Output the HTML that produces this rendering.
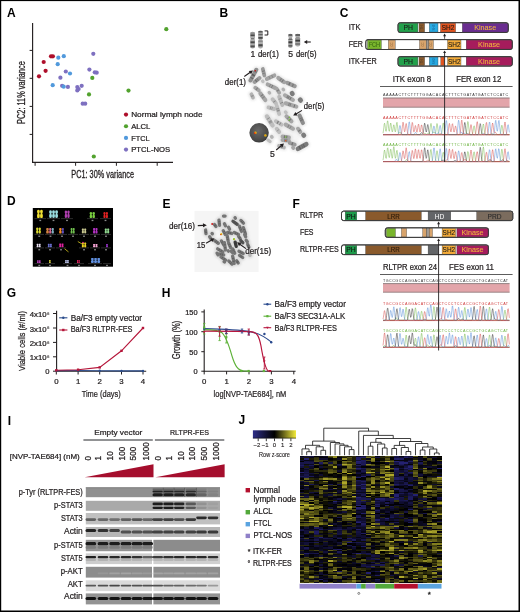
<!DOCTYPE html>
<html><head><meta charset="utf-8"><style>
html,body{margin:0;padding:0;background:#fff;width:520px;height:612px;overflow:hidden}
svg{position:absolute;left:0;top:0;display:block;will-change:transform}
text{font-family:"Liberation Sans", sans-serif}
</style></head><body>
<svg width="520" height="612" viewBox="0 0 520 612" font-family='"Liberation Sans", sans-serif'>
<defs>
<filter id="b04" filterUnits="userSpaceOnUse" x="0" y="0" width="520" height="612"><feGaussianBlur stdDeviation="0.4"/></filter>
<filter id="b06" filterUnits="userSpaceOnUse" x="0" y="0" width="520" height="612"><feGaussianBlur stdDeviation="0.6"/></filter>
<filter id="b1" filterUnits="userSpaceOnUse" x="0" y="0" width="520" height="612"><feGaussianBlur stdDeviation="1"/></filter>
<radialGradient id="nuc" cx="0.45" cy="0.4" r="0.6"><stop offset="0" stop-color="#6a6a6a"/><stop offset="0.8" stop-color="#4a4a4a"/><stop offset="1" stop-color="#3a3a3a"/></radialGradient><linearGradient id="zg" x1="0" x2="1" y1="0" y2="0"><stop offset="0" stop-color="#2e2e88"/><stop offset="0.5" stop-color="#000"/><stop offset="1" stop-color="#f2ea3a"/></linearGradient>
</defs>
<text x="7.0" y="16.5" font-size="12" font-weight="bold" fill="#000">A</text>
<text x="219.5" y="16.5" font-size="12" font-weight="bold" fill="#000">B</text>
<text x="339.8" y="16.5" font-size="12" font-weight="bold" fill="#000">C</text>
<text x="7.1" y="204.5" font-size="12" font-weight="bold" fill="#000">D</text>
<text x="162.5" y="207.5" font-size="12" font-weight="bold" fill="#000">E</text>
<text x="292.5" y="207.5" font-size="12" font-weight="bold" fill="#000">F</text>
<text x="6.7" y="297.0" font-size="12" font-weight="bold" fill="#000">G</text>
<text x="161.8" y="297.0" font-size="12" font-weight="bold" fill="#000">H</text>
<text x="7.8" y="424.5" font-size="12" font-weight="bold" fill="#000">I</text>
<text x="238.6" y="424.2" font-size="12" font-weight="bold" fill="#000">J</text>
<line x1="32.6" y1="23" x2="32.6" y2="162.9" stroke="#231f20" stroke-width="1.15"/>
<line x1="32.1" y1="162.4" x2="173" y2="162.4" stroke="#231f20" stroke-width="1.15"/>
<line x1="29.6" y1="50.4" x2="32.6" y2="50.4" stroke="#231f20" stroke-width="1"/>
<line x1="29.6" y1="78.3" x2="32.6" y2="78.3" stroke="#231f20" stroke-width="1"/>
<line x1="29.6" y1="106.4" x2="32.6" y2="106.4" stroke="#231f20" stroke-width="1"/>
<line x1="29.6" y1="134.4" x2="32.6" y2="134.4" stroke="#231f20" stroke-width="1"/>
<line x1="35.1" y1="162.4" x2="35.1" y2="165.8" stroke="#231f20" stroke-width="1"/>
<line x1="75.6" y1="162.4" x2="75.6" y2="165.8" stroke="#231f20" stroke-width="1"/>
<line x1="116.4" y1="162.4" x2="116.4" y2="165.8" stroke="#231f20" stroke-width="1"/>
<line x1="157.2" y1="162.4" x2="157.2" y2="165.8" stroke="#231f20" stroke-width="1"/>
<text x="24.5" y="124" font-size="10.3" textLength="62.8" lengthAdjust="spacingAndGlyphs" transform="rotate(-90 24.5 124)" fill="#231f20" stroke="#231f20" stroke-width="0.3">PC2: 11% variance</text>
<text x="71.3" y="177.8" font-size="10.2" textLength="62.7" lengthAdjust="spacingAndGlyphs" fill="#231f20" stroke="#231f20" stroke-width="0.3">PC1: 30% variance</text>
<circle cx="93.3" cy="53.8" r="2.1" fill="#7e70c0"/>
<circle cx="65.8" cy="71.5" r="2.1" fill="#7e70c0"/>
<circle cx="60.4" cy="77.7" r="2.1" fill="#7e70c0"/>
<circle cx="62.1" cy="85.8" r="2.1" fill="#7e70c0"/>
<circle cx="67.9" cy="86.9" r="2.1" fill="#7e70c0"/>
<circle cx="77.3" cy="87.1" r="2.1" fill="#7e70c0"/>
<circle cx="81.7" cy="85.8" r="2.1" fill="#7e70c0"/>
<circle cx="77.3" cy="90.4" r="2.1" fill="#7e70c0"/>
<circle cx="78.6" cy="89" r="2.1" fill="#7e70c0"/>
<circle cx="89.4" cy="69.6" r="2.1" fill="#7e70c0"/>
<circle cx="94.8" cy="72.3" r="2.1" fill="#7e70c0"/>
<circle cx="96.7" cy="72.7" r="2.1" fill="#7e70c0"/>
<circle cx="82.7" cy="103.7" r="2.1" fill="#7e70c0"/>
<circle cx="85.2" cy="103.7" r="2.1" fill="#7e70c0"/>
<circle cx="58.3" cy="57.7" r="2.1" fill="#5199dc"/>
<circle cx="63.8" cy="56.2" r="2.1" fill="#5199dc"/>
<circle cx="57.7" cy="64.2" r="2.1" fill="#5199dc"/>
<circle cx="70" cy="73.5" r="2.1" fill="#5199dc"/>
<circle cx="52.7" cy="85.2" r="2.1" fill="#5199dc"/>
<circle cx="63.7" cy="86.7" r="2.1" fill="#5199dc"/>
<circle cx="92.3" cy="77.9" r="2.1" fill="#52a22e"/>
<circle cx="89" cy="94.4" r="2.1" fill="#52a22e"/>
<circle cx="166.3" cy="29.2" r="2.1" fill="#52a22e"/>
<circle cx="128.5" cy="90.6" r="2.1" fill="#52a22e"/>
<circle cx="93.8" cy="156.5" r="2.1" fill="#52a22e"/>
<circle cx="39" cy="76.3" r="2.1" fill="#ae0f2b"/>
<circle cx="43.7" cy="62" r="2.1" fill="#ae0f2b"/>
<circle cx="45.6" cy="70.8" r="2.1" fill="#ae0f2b"/>
<circle cx="51" cy="56.3" r="2.1" fill="#ae0f2b"/>
<circle cx="52.9" cy="56.3" r="2.1" fill="#ae0f2b"/>
<circle cx="126.0" cy="114.6" r="2.1" fill="#ae0f2b"/>
<text x="131.2" y="117.3" font-size="7.6" textLength="71.3" lengthAdjust="spacingAndGlyphs" fill="#231f20" stroke="#231f20" stroke-width="0.24">Normal lymph node</text>
<circle cx="126.0" cy="126.25" r="2.1" fill="#52a22e"/>
<text x="131.2" y="128.95" font-size="7.6" textLength="19.2" lengthAdjust="spacingAndGlyphs" fill="#231f20" stroke="#231f20" stroke-width="0.24">ALCL</text>
<circle cx="126.0" cy="137.9" r="2.1" fill="#5199dc"/>
<text x="131.2" y="140.6" font-size="7.6" textLength="18.3" lengthAdjust="spacingAndGlyphs" fill="#231f20" stroke="#231f20" stroke-width="0.24">FTCL</text>
<circle cx="126.0" cy="149.55" r="2.1" fill="#7e70c0"/>
<text x="131.2" y="152.25" font-size="7.6" textLength="39" lengthAdjust="spacingAndGlyphs" fill="#231f20" stroke="#231f20" stroke-width="0.24">PTCL-NOS</text>
<g filter="url(#b06)">
<rect x="250.20" y="31.80" width="4.80" height="16.80" rx="2.16" fill="#adadad"/>
<rect x="250.50" y="32.40" width="4.20" height="1.60" fill="#8a8a8a"/>
<rect x="250.50" y="34.40" width="4.20" height="1.80" fill="#4a4a4a"/>
<rect x="250.50" y="38.00" width="4.20" height="1.20" fill="#777"/>
<rect x="250.50" y="41.30" width="4.20" height="2.00" fill="#4a4a4a"/>
<rect x="250.50" y="45.40" width="4.20" height="2.00" fill="#505050"/>
<circle cx="249.90" cy="38.8" r="0.9" fill="#fff"/>
<circle cx="255.30" cy="38.8" r="0.9" fill="#fff"/>
</g>
<g filter="url(#b06)">
<rect x="258.10" y="30.40" width="4.80" height="18.20" rx="2.16" fill="#adadad"/>
<rect x="258.40" y="31.10" width="4.20" height="1.40" fill="#505050"/>
<rect x="258.40" y="33.90" width="4.20" height="1.40" fill="#666"/>
<rect x="258.40" y="37.00" width="4.20" height="1.80" fill="#4a4a4a"/>
<rect x="258.40" y="40.50" width="4.20" height="1.40" fill="#888"/>
<rect x="258.40" y="44.20" width="4.20" height="2.20" fill="#4a4a4a"/>
<circle cx="257.80" cy="39.6" r="0.9" fill="#fff"/>
<circle cx="263.20" cy="39.6" r="0.9" fill="#fff"/>
</g>
<g filter="url(#b06)">
<rect x="288.20" y="33.80" width="4.40" height="14.20" rx="1.98" fill="#adadad"/>
<rect x="288.50" y="34.20" width="3.80" height="1.60" fill="#505050"/>
<rect x="288.50" y="38.60" width="3.80" height="1.40" fill="#666"/>
<rect x="288.50" y="41.30" width="3.80" height="2.00" fill="#3a3a3a"/>
<rect x="288.50" y="44.90" width="3.80" height="1.80" fill="#606060"/>
<circle cx="287.90" cy="38.0" r="0.9" fill="#fff"/>
<circle cx="292.90" cy="38.0" r="0.9" fill="#fff"/>
</g>
<g filter="url(#b06)">
<rect x="295.10" y="33.80" width="5.20" height="12.80" rx="2.34" fill="#adadad"/>
<rect x="295.40" y="34.20" width="4.60" height="1.60" fill="#505050"/>
<rect x="295.40" y="37.40" width="4.60" height="1.20" fill="#888"/>
<rect x="295.40" y="39.60" width="4.60" height="2.00" fill="#3a3a3a"/>
<rect x="295.40" y="43.20" width="4.60" height="1.60" fill="#707070"/>
<circle cx="294.80" cy="37.2" r="0.9" fill="#fff"/>
<circle cx="300.60" cy="37.2" r="0.9" fill="#fff"/>
</g>
<path d="M264.6,30.9 H267.8 V35.0 H264.6" fill="none" stroke="#231f20" stroke-width="1.0"/>
<line x1="310.8" y1="42.0" x2="306.7" y2="42.0" stroke="#231f20" stroke-width="1.1"/>
<path d="M303.80,42.00 L307.20,40.10 L307.20,43.90 Z" fill="#231f20"/>
<text x="250.6" y="57.3" font-size="8.6" fill="#231f20" stroke="#231f20" stroke-width="0.24">1</text>
<text x="258.0" y="57.3" font-size="8.6" textLength="20.8" lengthAdjust="spacingAndGlyphs" fill="#231f20" stroke="#231f20" stroke-width="0.24">der(1)</text>
<text x="288.3" y="57.3" font-size="8.6" fill="#231f20" stroke="#231f20" stroke-width="0.24">5</text>
<text x="296.0" y="57.3" font-size="8.6" textLength="20.5" lengthAdjust="spacingAndGlyphs" fill="#231f20" stroke="#231f20" stroke-width="0.24">der(5)</text>
<ellipse cx="283" cy="118" rx="16" ry="30" fill="#f5f5f5" filter="url(#b1)" transform="rotate(-20 283 118)"/>
<g filter="url(#b1)" opacity="0.45">
<line x1="250.5" y1="80.4" x2="256.3" y2="69.8" stroke="#cfcfcf" stroke-width="6.8" stroke-linecap="round"/>
<line x1="262.8" y1="69.0" x2="264.4" y2="75.5" stroke="#cfcfcf" stroke-width="6.4" stroke-linecap="round"/>
<line x1="254.6" y1="82.0" x2="259.5" y2="78.0" stroke="#cfcfcf" stroke-width="6.6" stroke-linecap="round"/>
<line x1="266.9" y1="78.8" x2="274.3" y2="75.5" stroke="#cfcfcf" stroke-width="6.8" stroke-linecap="round"/>
<line x1="278.3" y1="78.0" x2="284.0" y2="82.0" stroke="#cfcfcf" stroke-width="6.8" stroke-linecap="round"/>
<line x1="287.3" y1="82.9" x2="294.7" y2="86.2" stroke="#cfcfcf" stroke-width="6.8" stroke-linecap="round"/>
<line x1="262.6" y1="81.0" x2="263.0" y2="81.6" stroke="#cfcfcf" stroke-width="6.0" stroke-linecap="round"/>
<line x1="267.7" y1="84.5" x2="275.0" y2="87.8" stroke="#cfcfcf" stroke-width="6.8" stroke-linecap="round"/>
<line x1="255.4" y1="87.8" x2="258.7" y2="90.3" stroke="#cfcfcf" stroke-width="6.6" stroke-linecap="round"/>
<line x1="276.7" y1="88.6" x2="279.2" y2="92.7" stroke="#cfcfcf" stroke-width="6.4" stroke-linecap="round"/>
<line x1="283.1" y1="89.2" x2="283.6" y2="89.8" stroke="#cfcfcf" stroke-width="6.0" stroke-linecap="round"/>
<line x1="292.0" y1="93.2" x2="292.4" y2="93.8" stroke="#cfcfcf" stroke-width="7.4" stroke-linecap="round"/>
<line x1="260.4" y1="93.5" x2="265.3" y2="100.0" stroke="#cfcfcf" stroke-width="6.8" stroke-linecap="round"/>
<line x1="269.2" y1="92.5" x2="269.6" y2="93.0" stroke="#cfcfcf" stroke-width="6.0" stroke-linecap="round"/>
<line x1="251.4" y1="94.3" x2="253.0" y2="97.6" stroke="#cfcfcf" stroke-width="6.4" stroke-linecap="round"/>
<line x1="272.6" y1="99.3" x2="275.9" y2="103.3" stroke="#cfcfcf" stroke-width="6.6" stroke-linecap="round"/>
<line x1="279.2" y1="96.8" x2="282.4" y2="105.0" stroke="#cfcfcf" stroke-width="6.6" stroke-linecap="round"/>
<line x1="284.9" y1="95.2" x2="293.0" y2="100.0" stroke="#cfcfcf" stroke-width="6.6" stroke-linecap="round"/>
<line x1="300.2" y1="99.8" x2="300.6" y2="100.3" stroke="#cfcfcf" stroke-width="7.6" stroke-linecap="round"/>
<line x1="285.7" y1="103.3" x2="296.3" y2="106.6" stroke="#cfcfcf" stroke-width="6.8" stroke-linecap="round"/>
<line x1="268.5" y1="107.4" x2="274.3" y2="109.0" stroke="#cfcfcf" stroke-width="6.6" stroke-linecap="round"/>
<line x1="276.7" y1="105.8" x2="279.2" y2="114.0" stroke="#cfcfcf" stroke-width="6.6" stroke-linecap="round"/>
<line x1="285.5" y1="112.0" x2="286.0" y2="112.6" stroke="#cfcfcf" stroke-width="6.2" stroke-linecap="round"/>
<line x1="266.9" y1="116.4" x2="272.6" y2="125.4" stroke="#cfcfcf" stroke-width="7.0" stroke-linecap="round"/>
<line x1="286.5" y1="116.4" x2="291.4" y2="121.3" stroke="#cfcfcf" stroke-width="6.8" stroke-linecap="round"/>
<line x1="299.6" y1="115.6" x2="302.9" y2="123.0" stroke="#cfcfcf" stroke-width="6.8" stroke-linecap="round"/>
<line x1="275.9" y1="121.3" x2="281.6" y2="124.6" stroke="#cfcfcf" stroke-width="6.6" stroke-linecap="round"/>
<line x1="285.7" y1="124.6" x2="293.0" y2="128.7" stroke="#cfcfcf" stroke-width="6.8" stroke-linecap="round"/>
<line x1="298.0" y1="128.7" x2="300.4" y2="132.0" stroke="#cfcfcf" stroke-width="6.6" stroke-linecap="round"/>
<line x1="276.7" y1="128.7" x2="279.2" y2="132.0" stroke="#cfcfcf" stroke-width="6.6" stroke-linecap="round"/>
<line x1="303.5" y1="135.0" x2="303.9" y2="135.5" stroke="#cfcfcf" stroke-width="7.4" stroke-linecap="round"/>
<line x1="271.6" y1="136.7" x2="272.0" y2="137.2" stroke="#cfcfcf" stroke-width="6.2" stroke-linecap="round"/>
<line x1="282.5" y1="136.5" x2="289.0" y2="137.5" stroke="#cfcfcf" stroke-width="6.6" stroke-linecap="round"/>
<line x1="282.5" y1="140.0" x2="289.0" y2="140.8" stroke="#cfcfcf" stroke-width="6.6" stroke-linecap="round"/>
<line x1="289.8" y1="143.0" x2="294.7" y2="144.6" stroke="#cfcfcf" stroke-width="6.6" stroke-linecap="round"/>
<line x1="293.0" y1="147.5" x2="293.4" y2="148.0" stroke="#cfcfcf" stroke-width="6.4" stroke-linecap="round"/>
<line x1="298.0" y1="148.8" x2="306.2" y2="144.2" stroke="#cfcfcf" stroke-width="7.4" stroke-linecap="round"/>
<line x1="279.0" y1="146.0" x2="284.0" y2="147.5" stroke="#cfcfcf" stroke-width="6.4" stroke-linecap="round"/>
<line x1="268.0" y1="140.0" x2="270.0" y2="141.5" stroke="#cfcfcf" stroke-width="6.0" stroke-linecap="round"/>
</g>
<g filter="url(#b06)">
<line x1="250.5" y1="80.4" x2="256.3" y2="69.8" stroke="#909090" stroke-width="4.1" stroke-linecap="round"/>
<line x1="253.17" y1="78.84" x2="250.37" y2="77.31" stroke="#3a3a3a" stroke-width="1.25" opacity="0.45"/>
<line x1="254.63" y1="76.18" x2="251.83" y2="74.64" stroke="#3a3a3a" stroke-width="1.24" opacity="0.48"/>
<line x1="254.94" y1="75.60" x2="252.14" y2="74.07" stroke="#3a3a3a" stroke-width="1.08" opacity="0.49"/>
<line x1="256.68" y1="72.43" x2="253.88" y2="70.90" stroke="#3a3a3a" stroke-width="1.34" opacity="0.28"/>
<line x1="262.8" y1="69.0" x2="264.4" y2="75.5" stroke="#9a9a9a" stroke-width="3.6999999999999997" stroke-linecap="round"/>
<line x1="261.94" y1="71.48" x2="264.71" y2="70.79" stroke="#3a3a3a" stroke-width="0.95" opacity="0.39"/>
<line x1="262.50" y1="73.75" x2="265.27" y2="73.07" stroke="#3a3a3a" stroke-width="0.81" opacity="0.30"/>
<line x1="254.6" y1="82.0" x2="259.5" y2="78.0" stroke="#9a9a9a" stroke-width="3.9" stroke-linecap="round"/>
<line x1="257.02" y1="81.98" x2="255.10" y2="79.64" stroke="#3a3a3a" stroke-width="1.35" opacity="0.44"/>
<line x1="258.56" y1="80.72" x2="256.64" y2="78.38" stroke="#3a3a3a" stroke-width="1.28" opacity="0.28"/>
<line x1="266.9" y1="78.8" x2="274.3" y2="75.5" stroke="#a4a4a4" stroke-width="4.1" stroke-linecap="round"/>
<line x1="270.16" y1="79.10" x2="268.86" y2="76.18" stroke="#3a3a3a" stroke-width="0.88" opacity="0.25"/>
<line x1="272.92" y1="77.86" x2="271.62" y2="74.95" stroke="#3a3a3a" stroke-width="0.93" opacity="0.30"/>
<line x1="278.3" y1="78.0" x2="284.0" y2="82.0" stroke="#a4a4a4" stroke-width="4.1" stroke-linecap="round"/>
<line x1="279.72" y1="80.95" x2="281.56" y2="78.34" stroke="#3a3a3a" stroke-width="1.32" opacity="0.32"/>
<line x1="281.60" y1="82.27" x2="283.44" y2="79.66" stroke="#3a3a3a" stroke-width="1.12" opacity="0.42"/>
<line x1="287.3" y1="82.9" x2="294.7" y2="86.2" stroke="#9a9a9a" stroke-width="4.1" stroke-linecap="round"/>
<line x1="288.77" y1="85.30" x2="290.07" y2="82.39" stroke="#3a3a3a" stroke-width="1.36" opacity="0.42"/>
<line x1="292.14" y1="86.80" x2="293.44" y2="83.89" stroke="#3a3a3a" stroke-width="1.34" opacity="0.32"/>
<line x1="262.6" y1="81.0" x2="263.0" y2="81.6" stroke="#c0c0c0" stroke-width="3.3" stroke-linecap="round"/>
<line x1="267.7" y1="84.5" x2="275.0" y2="87.8" stroke="#a4a4a4" stroke-width="4.1" stroke-linecap="round"/>
<line x1="269.31" y1="86.98" x2="270.63" y2="84.07" stroke="#3a3a3a" stroke-width="0.90" opacity="0.29"/>
<line x1="271.40" y1="87.92" x2="272.72" y2="85.02" stroke="#3a3a3a" stroke-width="0.98" opacity="0.40"/>
<line x1="255.4" y1="87.8" x2="258.7" y2="90.3" stroke="#a4a4a4" stroke-width="3.9" stroke-linecap="round"/>
<line x1="255.87" y1="90.06" x2="257.70" y2="87.65" stroke="#3a3a3a" stroke-width="1.21" opacity="0.33"/>
<line x1="276.7" y1="88.6" x2="279.2" y2="92.7" stroke="#a6a6a6" stroke-width="3.6999999999999997" stroke-linecap="round"/>
<line x1="276.65" y1="91.27" x2="279.09" y2="89.78" stroke="#3a3a3a" stroke-width="1.29" opacity="0.37"/>
<line x1="283.1" y1="89.2" x2="283.6" y2="89.8" stroke="#b3b3b3" stroke-width="3.3" stroke-linecap="round"/>
<line x1="292.0" y1="93.2" x2="292.4" y2="93.8" stroke="#7d7d7d" stroke-width="4.7" stroke-linecap="round"/>
<line x1="260.4" y1="93.5" x2="265.3" y2="100.0" stroke="#a6a6a6" stroke-width="4.1" stroke-linecap="round"/>
<line x1="260.61" y1="96.44" x2="263.16" y2="94.51" stroke="#3a3a3a" stroke-width="1.09" opacity="0.43"/>
<line x1="262.04" y1="98.33" x2="264.59" y2="96.41" stroke="#3a3a3a" stroke-width="1.39" opacity="0.26"/>
<line x1="269.2" y1="92.5" x2="269.6" y2="93.0" stroke="#b3b3b3" stroke-width="3.3" stroke-linecap="round"/>
<line x1="251.4" y1="94.3" x2="253.0" y2="97.6" stroke="#b3b3b3" stroke-width="3.6999999999999997" stroke-linecap="round"/>
<line x1="250.98" y1="96.70" x2="253.55" y2="95.46" stroke="#3a3a3a" stroke-width="1.31" opacity="0.25"/>
<line x1="272.6" y1="99.3" x2="275.9" y2="103.3" stroke="#bcbcbc" stroke-width="3.9" stroke-linecap="round"/>
<line x1="273.24" y1="102.45" x2="275.57" y2="100.52" stroke="#3a3a3a" stroke-width="1.02" opacity="0.39"/>
<line x1="279.2" y1="96.8" x2="282.4" y2="105.0" stroke="#b8b8b8" stroke-width="3.9" stroke-linecap="round"/>
<line x1="278.61" y1="99.44" x2="281.42" y2="98.34" stroke="#3a3a3a" stroke-width="0.83" opacity="0.30"/>
<line x1="280.16" y1="103.41" x2="282.97" y2="102.31" stroke="#3a3a3a" stroke-width="0.92" opacity="0.44"/>
<line x1="284.9" y1="95.2" x2="293.0" y2="100.0" stroke="#a8a8a8" stroke-width="3.9" stroke-linecap="round"/>
<line x1="286.71" y1="98.03" x2="288.25" y2="95.43" stroke="#3a3a3a" stroke-width="1.37" opacity="0.34"/>
<line x1="287.99" y1="98.79" x2="289.53" y2="96.19" stroke="#3a3a3a" stroke-width="1.11" opacity="0.44"/>
<line x1="289.70" y1="99.80" x2="291.24" y2="97.20" stroke="#3a3a3a" stroke-width="1.25" opacity="0.45"/>
<line x1="300.2" y1="99.8" x2="300.6" y2="100.3" stroke="#7d7d7d" stroke-width="4.8999999999999995" stroke-linecap="round"/>
<line x1="285.7" y1="103.3" x2="296.3" y2="106.6" stroke="#a6a6a6" stroke-width="4.1" stroke-linecap="round"/>
<line x1="288.49" y1="105.84" x2="289.43" y2="102.79" stroke="#3a3a3a" stroke-width="0.82" opacity="0.49"/>
<line x1="289.83" y1="106.26" x2="290.78" y2="103.21" stroke="#3a3a3a" stroke-width="1.00" opacity="0.40"/>
<line x1="293.88" y1="107.52" x2="294.83" y2="104.47" stroke="#3a3a3a" stroke-width="1.00" opacity="0.48"/>
<line x1="268.5" y1="107.4" x2="274.3" y2="109.0" stroke="#bcbcbc" stroke-width="3.9" stroke-linecap="round"/>
<line x1="270.07" y1="109.40" x2="270.88" y2="106.49" stroke="#3a3a3a" stroke-width="0.99" opacity="0.33"/>
<line x1="271.67" y1="109.84" x2="272.47" y2="106.93" stroke="#3a3a3a" stroke-width="0.85" opacity="0.29"/>
<line x1="276.7" y1="105.8" x2="279.2" y2="114.0" stroke="#c0c0c0" stroke-width="3.9" stroke-linecap="round"/>
<line x1="276.16" y1="109.22" x2="279.06" y2="108.34" stroke="#3a3a3a" stroke-width="1.40" opacity="0.29"/>
<line x1="276.74" y1="111.12" x2="279.63" y2="110.23" stroke="#3a3a3a" stroke-width="1.39" opacity="0.38"/>
<line x1="285.5" y1="112.0" x2="286.0" y2="112.6" stroke="#c0c0c0" stroke-width="3.5" stroke-linecap="round"/>
<line x1="266.9" y1="116.4" x2="272.6" y2="125.4" stroke="#bebebe" stroke-width="4.3" stroke-linecap="round"/>
<line x1="266.82" y1="119.41" x2="269.66" y2="117.62" stroke="#3a3a3a" stroke-width="0.94" opacity="0.40"/>
<line x1="268.63" y1="122.27" x2="271.47" y2="120.47" stroke="#3a3a3a" stroke-width="1.07" opacity="0.36"/>
<line x1="269.35" y1="123.41" x2="272.19" y2="121.61" stroke="#3a3a3a" stroke-width="1.35" opacity="0.26"/>
<line x1="286.5" y1="116.4" x2="291.4" y2="121.3" stroke="#a6a6a6" stroke-width="4.1" stroke-linecap="round"/>
<line x1="287.00" y1="119.16" x2="289.26" y2="116.90" stroke="#3a3a3a" stroke-width="1.30" opacity="0.28"/>
<line x1="288.82" y1="120.98" x2="291.08" y2="118.72" stroke="#3a3a3a" stroke-width="1.37" opacity="0.41"/>
<line x1="299.6" y1="115.6" x2="302.9" y2="123.0" stroke="#8d8d8d" stroke-width="4.1" stroke-linecap="round"/>
<line x1="299.39" y1="119.06" x2="302.31" y2="117.76" stroke="#3a3a3a" stroke-width="0.86" opacity="0.36"/>
<line x1="300.16" y1="120.77" x2="303.07" y2="119.47" stroke="#3a3a3a" stroke-width="1.31" opacity="0.32"/>
<line x1="275.9" y1="121.3" x2="281.6" y2="124.6" stroke="#bebebe" stroke-width="3.9" stroke-linecap="round"/>
<line x1="277.00" y1="123.68" x2="278.51" y2="121.07" stroke="#3a3a3a" stroke-width="1.40" opacity="0.46"/>
<line x1="279.38" y1="125.06" x2="280.89" y2="122.44" stroke="#3a3a3a" stroke-width="1.07" opacity="0.37"/>
<line x1="285.7" y1="124.6" x2="293.0" y2="128.7" stroke="#a8a8a8" stroke-width="4.1" stroke-linecap="round"/>
<line x1="287.62" y1="127.51" x2="289.18" y2="124.73" stroke="#3a3a3a" stroke-width="1.09" opacity="0.32"/>
<line x1="289.67" y1="128.66" x2="291.24" y2="125.88" stroke="#3a3a3a" stroke-width="0.89" opacity="0.34"/>
<line x1="298.0" y1="128.7" x2="300.4" y2="132.0" stroke="#a6a6a6" stroke-width="3.9" stroke-linecap="round"/>
<line x1="298.16" y1="131.50" x2="300.61" y2="129.72" stroke="#3a3a3a" stroke-width="1.38" opacity="0.41"/>
<line x1="276.7" y1="128.7" x2="279.2" y2="132.0" stroke="#bebebe" stroke-width="3.9" stroke-linecap="round"/>
<line x1="276.74" y1="131.26" x2="279.15" y2="129.44" stroke="#3a3a3a" stroke-width="1.00" opacity="0.27"/>
<line x1="303.5" y1="135.0" x2="303.9" y2="135.5" stroke="#7d7d7d" stroke-width="4.7" stroke-linecap="round"/>
<line x1="271.6" y1="136.7" x2="272.0" y2="137.2" stroke="#b3b3b3" stroke-width="3.5" stroke-linecap="round"/>
<line x1="282.5" y1="136.5" x2="289.0" y2="137.5" stroke="#a8a8a8" stroke-width="3.9" stroke-linecap="round"/>
<line x1="284.20" y1="138.29" x2="284.66" y2="135.30" stroke="#3a3a3a" stroke-width="1.27" opacity="0.47"/>
<line x1="286.46" y1="138.64" x2="286.92" y2="135.65" stroke="#3a3a3a" stroke-width="1.27" opacity="0.44"/>
<line x1="282.5" y1="140.0" x2="289.0" y2="140.8" stroke="#a8a8a8" stroke-width="3.9" stroke-linecap="round"/>
<line x1="284.68" y1="141.79" x2="285.05" y2="138.79" stroke="#3a3a3a" stroke-width="1.20" opacity="0.44"/>
<line x1="286.51" y1="142.02" x2="286.88" y2="139.02" stroke="#3a3a3a" stroke-width="1.22" opacity="0.32"/>
<line x1="289.8" y1="143.0" x2="294.7" y2="144.6" stroke="#9a9a9a" stroke-width="3.9" stroke-linecap="round"/>
<line x1="291.77" y1="145.23" x2="292.71" y2="142.36" stroke="#3a3a3a" stroke-width="1.26" opacity="0.42"/>
<line x1="293.0" y1="147.5" x2="293.4" y2="148.0" stroke="#a6a6a6" stroke-width="3.6999999999999997" stroke-linecap="round"/>
<line x1="298.0" y1="148.8" x2="306.2" y2="144.2" stroke="#7a7a7a" stroke-width="4.7" stroke-linecap="round"/>
<line x1="300.68" y1="149.41" x2="298.88" y2="146.19" stroke="#3a3a3a" stroke-width="1.37" opacity="0.41"/>
<line x1="303.11" y1="148.05" x2="301.30" y2="144.83" stroke="#3a3a3a" stroke-width="0.81" opacity="0.39"/>
<line x1="304.73" y1="147.15" x2="302.92" y2="143.92" stroke="#3a3a3a" stroke-width="1.20" opacity="0.37"/>
<line x1="279.0" y1="146.0" x2="284.0" y2="147.5" stroke="#b3b3b3" stroke-width="3.6999999999999997" stroke-linecap="round"/>
<line x1="281.34" y1="148.19" x2="282.16" y2="145.46" stroke="#3a3a3a" stroke-width="1.19" opacity="0.45"/>
<line x1="268.0" y1="140.0" x2="270.0" y2="141.5" stroke="#c0c0c0" stroke-width="3.3" stroke-linecap="round"/>
</g>
<circle cx="259.1" cy="132.8" r="9.7" fill="url(#nuc)" filter="url(#b04)"/>
<circle cx="255.4" cy="132.8" r="1.3" fill="#e8c810"/>
<circle cx="254.8" cy="133.1" r="0.9" fill="#e02010"/>
<circle cx="265.4" cy="135.4" r="1.2" fill="#e8c810"/>
<circle cx="265.0" cy="135.6" r="0.5" fill="#e05010"/>
<circle cx="255.3" cy="70.8" r="0.8" fill="#d01515"/>
<circle cx="289.5" cy="117.2" r="0.8" fill="#7ac23a"/>
<circle cx="289.2" cy="120.1" r="0.8" fill="#7ac23a"/>
<circle cx="285.7" cy="137.0" r="0.8" fill="#7ac23a"/>
<circle cx="285.7" cy="140.8" r="0.8" fill="#e05a20"/>
<text x="224.8" y="84.6" font-size="8.6" textLength="21.2" lengthAdjust="spacingAndGlyphs" fill="#231f20" stroke="#231f20" stroke-width="0.24">der(1)</text>
<line x1="244.3" y1="76.5" x2="250.29799454461013" y2="72.29450957216991" stroke="#231f20" stroke-width="1.1"/>
<path d="M253.00,70.40 L251.04,74.22 L248.74,70.94 Z" fill="#231f20"/>
<text x="303.8" y="109.4" font-size="8.6" textLength="20.6" lengthAdjust="spacingAndGlyphs" fill="#231f20" stroke="#231f20" stroke-width="0.24">der(5)</text>
<line x1="302.0" y1="110.4" x2="296.04105754310723" y2="113.92119326998208" stroke="#231f20" stroke-width="1.1"/>
<path d="M293.20,115.60 L295.45,111.94 L297.49,115.39 Z" fill="#231f20"/>
<text x="270.0" y="157.0" font-size="8.6" fill="#231f20" stroke="#231f20" stroke-width="0.24">5</text>
<line x1="276.2" y1="150.0" x2="281.4808252582819" y2="145.53160939683838" stroke="#231f20" stroke-width="1.1"/>
<path d="M284.00,143.40 L282.39,147.38 L279.81,144.33 Z" fill="#231f20"/>
<text x="348.7" y="30.2" font-size="8.6" textLength="11.8" lengthAdjust="spacingAndGlyphs" fill="#231f20" stroke="#231f20" stroke-width="0.24">ITK</text>
<text x="348.7" y="47.1" font-size="8.6" textLength="14.2" lengthAdjust="spacingAndGlyphs" fill="#231f20" stroke="#231f20" stroke-width="0.24">FER</text>
<text x="348.7" y="63.8" font-size="8.6" textLength="28.0" lengthAdjust="spacingAndGlyphs" fill="#231f20" stroke="#231f20" stroke-width="0.24">ITK-FER</text>
<rect x="398.00" y="22.70" width="110.30" height="9.80" rx="2.2" fill="#fff" stroke="#3a3a3a" stroke-width="0.9"/>
<rect x="398.40" y="23.15" width="19.50" height="8.90" fill="#22a04b" stroke="#3a3a3a" stroke-width="0.35"/>
<text x="408.15" y="30.34" font-size="7.2" text-anchor="middle" textLength="9.5" lengthAdjust="spacingAndGlyphs" fill="#1a1a1a" stroke="#1a1a1a" stroke-width="0.1">PH</text>
<rect x="419.00" y="23.15" width="5.60" height="8.90" fill="#8a5a2c" stroke="#3a3a3a" stroke-width="0.35"/>
<rect x="429.30" y="23.15" width="8.70" height="8.90" fill="#27a9e1" stroke="#3a3a3a" stroke-width="0.35"/>
<rect x="440.50" y="23.15" width="15.10" height="8.90" fill="#e2541f" stroke="#3a3a3a" stroke-width="0.35"/>
<text x="448.05" y="30.34" font-size="7.2" text-anchor="middle" textLength="12.5" lengthAdjust="spacingAndGlyphs" fill="#1a1a1a" stroke="#1a1a1a" stroke-width="0.1">SH2</text>
<rect x="462.30" y="23.15" width="45.70" height="8.90" fill="#6a2d90" stroke="#3a3a3a" stroke-width="0.35"/>
<text x="485.15" y="30.34" font-size="7.4" text-anchor="middle" textLength="22" lengthAdjust="spacingAndGlyphs" fill="#efb43e" stroke="#efb43e" stroke-width="0.1">Kinase</text>
<rect x="398.00" y="22.70" width="110.30" height="9.80" rx="2.2" fill="none" stroke="#3a3a3a" stroke-width="0.9"/>
<rect x="365.80" y="39.60" width="146.50" height="9.90" rx="2.2" fill="#fff" stroke="#3a3a3a" stroke-width="0.9"/>
<rect x="367.50" y="40.05" width="13.80" height="9.00" fill="#79b52c" stroke="#3a3a3a" stroke-width="0.35"/>
<text x="374.4" y="47.32" font-size="7.0" text-anchor="middle" textLength="11.5" lengthAdjust="spacingAndGlyphs" fill="#3c6a14" stroke="#3c6a14" stroke-width="0.1">FCH</text>
<rect x="388.30" y="40.05" width="6.90" height="9.00" fill="#d8a46c" stroke="#3a3a3a" stroke-width="0.35"/>
<rect x="419.50" y="40.05" width="7.10" height="9.00" fill="#d8a46c" stroke="#3a3a3a" stroke-width="0.35"/>
<rect x="426.60" y="40.05" width="2.00" height="9.00" fill="#a09a94" stroke="#3a3a3a" stroke-width="0.35"/>
<rect x="428.60" y="40.05" width="4.80" height="9.00" fill="#d8a46c" stroke="#3a3a3a" stroke-width="0.35"/>
<rect x="447.50" y="40.05" width="13.50" height="9.00" fill="#f3aa38" stroke="#3a3a3a" stroke-width="0.35"/>
<text x="454.25" y="47.32" font-size="7.2" text-anchor="middle" textLength="12.5" lengthAdjust="spacingAndGlyphs" fill="#1a1a1a" stroke="#1a1a1a" stroke-width="0.1">SH2</text>
<rect x="466.20" y="40.05" width="45.80" height="9.00" fill="#a61c5c" stroke="#3a3a3a" stroke-width="0.35"/>
<text x="489.1" y="47.32" font-size="7.4" text-anchor="middle" textLength="22" lengthAdjust="spacingAndGlyphs" fill="#efb43e" stroke="#efb43e" stroke-width="0.1">Kinase</text>
<rect x="365.80" y="39.60" width="146.50" height="9.90" rx="2.2" fill="none" stroke="#3a3a3a" stroke-width="0.9"/>
<rect x="398.00" y="56.60" width="114.30" height="9.50" rx="2.2" fill="#fff" stroke="#3a3a3a" stroke-width="0.9"/>
<rect x="398.40" y="57.05" width="19.50" height="8.60" fill="#22a04b" stroke="#3a3a3a" stroke-width="0.35"/>
<text x="408.15" y="64.01" font-size="7.2" text-anchor="middle" textLength="9.5" lengthAdjust="spacingAndGlyphs" fill="#1a1a1a" stroke="#1a1a1a" stroke-width="0.1">PH</text>
<rect x="419.00" y="57.05" width="5.60" height="8.60" fill="#8a5a2c" stroke="#3a3a3a" stroke-width="0.35"/>
<rect x="429.30" y="57.05" width="8.70" height="8.60" fill="#27a9e1" stroke="#3a3a3a" stroke-width="0.35"/>
<rect x="440.80" y="57.05" width="3.30" height="8.60" fill="#e2541f" stroke="#3a3a3a" stroke-width="0.35"/>
<rect x="447.50" y="57.05" width="13.50" height="8.60" fill="#f3aa38" stroke="#3a3a3a" stroke-width="0.35"/>
<text x="454.25" y="64.01" font-size="7.2" text-anchor="middle" textLength="12.5" lengthAdjust="spacingAndGlyphs" fill="#1a1a1a" stroke="#1a1a1a" stroke-width="0.1">SH2</text>
<rect x="466.20" y="57.05" width="45.80" height="8.60" fill="#a61c5c" stroke="#3a3a3a" stroke-width="0.35"/>
<text x="489.1" y="64.01" font-size="7.4" text-anchor="middle" textLength="22" lengthAdjust="spacingAndGlyphs" fill="#efb43e" stroke="#efb43e" stroke-width="0.1">Kinase</text>
<rect x="398.00" y="56.60" width="114.30" height="9.50" rx="2.2" fill="none" stroke="#3a3a3a" stroke-width="0.9"/>
<line x1="444.6" y1="38.8" x2="444.6" y2="35.7" stroke="#231f20" stroke-width="0.8"/>
<path d="M444.60,33.60 L446.10,36.20 L443.10,36.20 Z" fill="#231f20"/>
<text x="422.80" y="27.60" font-size="3.0" text-anchor="middle" fill="#2a2a2a" opacity="0.7" transform="rotate(-90 422.80 27.60)">TH</text>
<text x="434.60" y="27.60" font-size="3.0" text-anchor="middle" fill="#0a3a6a" opacity="0.7" transform="rotate(-90 434.60 27.60)">SH3</text>
<text x="422.80" y="61.35" font-size="3.0" text-anchor="middle" fill="#2a2a2a" opacity="0.7" transform="rotate(-90 422.80 61.35)">TH</text>
<text x="434.60" y="61.35" font-size="3.0" text-anchor="middle" fill="#0a3a6a" opacity="0.7" transform="rotate(-90 434.60 61.35)">SH3</text>
<text x="392.75" y="44.55" font-size="2.8" text-anchor="middle" fill="#5a3a1a" opacity="0.7" transform="rotate(-90 392.75 44.55)">CC</text>
<text x="424.05" y="44.55" font-size="2.8" text-anchor="middle" fill="#5a3a1a" opacity="0.7" transform="rotate(-90 424.05 44.55)">CC</text>
<text x="432.00" y="44.55" font-size="2.8" text-anchor="middle" fill="#5a3a1a" opacity="0.7" transform="rotate(-90 432.00 44.55)">CC</text>
<text x="391.90" y="232.60" font-size="2.6" text-anchor="middle" fill="#2a4a0a" opacity="0.7" transform="rotate(-90 391.90 232.60)">F-BAR</text>
<text x="405.00" y="232.60" font-size="2.6" text-anchor="middle" fill="#5a3a1a" opacity="0.7" transform="rotate(-90 405.00 232.60)">CC</text>
<text x="425.70" y="232.60" font-size="2.6" text-anchor="middle" fill="#5a3a1a" opacity="0.7" transform="rotate(-90 425.70 232.60)">CC</text>
<text x="431.85" y="232.60" font-size="2.6" text-anchor="middle" fill="#5a3a1a" opacity="0.7" transform="rotate(-90 431.85 232.60)">CC</text>
<text x="300.0" y="218.1" font-size="8.6" textLength="23.3" lengthAdjust="spacingAndGlyphs" fill="#231f20" stroke="#231f20" stroke-width="0.24">RLTPR</text>
<text x="300.0" y="235.4" font-size="8.6" textLength="13.5" lengthAdjust="spacingAndGlyphs" fill="#231f20" stroke="#231f20" stroke-width="0.24">FES</text>
<text x="300.0" y="252.3" font-size="8.6" textLength="38.8" lengthAdjust="spacingAndGlyphs" fill="#231f20" stroke="#231f20" stroke-width="0.24">RLTPR-FES</text>
<rect x="341.50" y="211.10" width="171.30" height="9.50" rx="2.2" fill="#fff" stroke="#3a3a3a" stroke-width="0.9"/>
<rect x="345.20" y="211.55" width="11.60" height="8.60" fill="#1d9c4a" stroke="#3a3a3a" stroke-width="0.35"/>
<text x="351.0" y="218.51" font-size="7.2" text-anchor="middle" textLength="9.5" lengthAdjust="spacingAndGlyphs" fill="#111" stroke="#111" stroke-width="0.1">PH</text>
<rect x="365.60" y="211.55" width="55.70" height="8.60" fill="#8a5a2c" stroke="#3a3a3a" stroke-width="0.35"/>
<text x="393.45" y="218.51" font-size="7.2" text-anchor="middle" textLength="12.5" lengthAdjust="spacingAndGlyphs" fill="#2a1a0a" stroke="#2a1a0a" stroke-width="0.1">LRR</text>
<rect x="428.10" y="211.55" width="22.70" height="8.60" fill="#636568" stroke="#3a3a3a" stroke-width="0.35"/>
<text x="439.45" y="218.51" font-size="7.2" text-anchor="middle" textLength="9.5" lengthAdjust="spacingAndGlyphs" fill="#f4f4f4" stroke="#f4f4f4" stroke-width="0.1">HD</text>
<rect x="476.70" y="211.55" width="35.80" height="8.60" fill="#7b6c5e" stroke="#3a3a3a" stroke-width="0.35"/>
<text x="494.6" y="218.51" font-size="7.2" text-anchor="middle" textLength="14" lengthAdjust="spacingAndGlyphs" fill="#2a2a2a" stroke="#2a2a2a" stroke-width="0.1">PRD</text>
<rect x="341.50" y="211.10" width="171.30" height="9.50" rx="2.2" fill="none" stroke="#3a3a3a" stroke-width="0.9"/>
<rect x="385.30" y="227.80" width="103.10" height="9.60" rx="2.2" fill="#fff" stroke="#3a3a3a" stroke-width="0.9"/>
<rect x="386.40" y="228.25" width="9.00" height="8.70" fill="#79b52c" stroke="#3a3a3a" stroke-width="0.35"/>
<rect x="401.40" y="228.25" width="5.20" height="8.70" fill="#d8a46c" stroke="#3a3a3a" stroke-width="0.35"/>
<rect x="422.70" y="228.25" width="4.00" height="8.70" fill="#d8a46c" stroke="#3a3a3a" stroke-width="0.35"/>
<rect x="426.70" y="228.25" width="2.50" height="8.70" fill="#a09a94" stroke="#3a3a3a" stroke-width="0.35"/>
<rect x="429.20" y="228.25" width="3.30" height="8.70" fill="#d8a46c" stroke="#3a3a3a" stroke-width="0.35"/>
<rect x="442.10" y="228.25" width="13.50" height="8.70" fill="#f3aa38" stroke="#3a3a3a" stroke-width="0.35"/>
<text x="448.85" y="235.29" font-size="7.2" text-anchor="middle" textLength="12.5" lengthAdjust="spacingAndGlyphs" fill="#1a1a1a" stroke="#1a1a1a" stroke-width="0.1">SH2</text>
<rect x="456.90" y="228.25" width="31.20" height="8.70" fill="#a61c5c" stroke="#3a3a3a" stroke-width="0.35"/>
<text x="472.5" y="235.29" font-size="7.4" text-anchor="middle" textLength="22" lengthAdjust="spacingAndGlyphs" fill="#efb43e" stroke="#efb43e" stroke-width="0.1">Kinase</text>
<rect x="385.30" y="227.80" width="103.10" height="9.60" rx="2.2" fill="none" stroke="#3a3a3a" stroke-width="0.9"/>
<rect x="341.50" y="244.90" width="146.90" height="9.70" rx="2.2" fill="#fff" stroke="#3a3a3a" stroke-width="0.9"/>
<rect x="345.20" y="245.35" width="11.60" height="8.80" fill="#1d9c4a" stroke="#3a3a3a" stroke-width="0.35"/>
<text x="351.0" y="252.47" font-size="7.2" text-anchor="middle" textLength="9.5" lengthAdjust="spacingAndGlyphs" fill="#111" stroke="#111" stroke-width="0.1">PH</text>
<rect x="365.60" y="245.35" width="55.70" height="8.80" fill="#8a5a2c" stroke="#3a3a3a" stroke-width="0.35"/>
<text x="393.45" y="252.47" font-size="7.2" text-anchor="middle" textLength="12.5" lengthAdjust="spacingAndGlyphs" fill="#2a1a0a" stroke="#2a1a0a" stroke-width="0.1">LRR</text>
<rect x="428.10" y="245.35" width="10.20" height="8.80" fill="#636568" stroke="#3a3a3a" stroke-width="0.35"/>
<rect x="442.10" y="245.35" width="13.50" height="8.80" fill="#f3aa38" stroke="#3a3a3a" stroke-width="0.35"/>
<text x="448.85" y="252.47" font-size="7.2" text-anchor="middle" textLength="12.5" lengthAdjust="spacingAndGlyphs" fill="#1a1a1a" stroke="#1a1a1a" stroke-width="0.1">SH2</text>
<rect x="456.90" y="245.35" width="31.20" height="8.80" fill="#a61c5c" stroke="#3a3a3a" stroke-width="0.35"/>
<text x="472.5" y="252.47" font-size="7.4" text-anchor="middle" textLength="22" lengthAdjust="spacingAndGlyphs" fill="#efb43e" stroke="#efb43e" stroke-width="0.1">Kinase</text>
<rect x="341.50" y="244.90" width="146.90" height="9.70" rx="2.2" fill="none" stroke="#3a3a3a" stroke-width="0.9"/>
<line x1="438.6" y1="227.2" x2="438.6" y2="223.7" stroke="#231f20" stroke-width="0.8"/>
<path d="M438.60,221.60 L440.10,224.20 L437.10,224.20 Z" fill="#231f20"/>
<text x="392.8" y="81.5" font-size="8.6" textLength="38.4" lengthAdjust="spacingAndGlyphs" fill="#231f20" stroke="#231f20" stroke-width="0.24">ITK exon 8</text>
<text x="456.2" y="81.5" font-size="8.6" textLength="45.0" lengthAdjust="spacingAndGlyphs" fill="#231f20" stroke="#231f20" stroke-width="0.24">FER exon 12</text>
<line x1="380" y1="86.5" x2="512.6" y2="86.5" stroke="#333" stroke-width="0.8"/>
<text x="383.0" y="96.1" font-size="3.7" textLength="125.1" lengthAdjust="spacing" fill="#333">AAAAACTTCTTTTGGACACACTTTCTGATATGATCTCCATC</text>
<rect x="383.00" y="97.80" width="126.60" height="9.60" fill="#e3a5aa"/>
<line x1="383.0" y1="98.0" x2="509.6" y2="98.0" stroke="#6e6868" stroke-width="0.7"/>
<line x1="383.0" y1="107.2" x2="509.6" y2="107.2" stroke="#7a7070" stroke-width="0.7"/>
<text x="383.0" y="118.8" font-size="3.7" textLength="125.1" lengthAdjust="spacing" fill="#d03a3a">AAAAACTTCTTTTGGACACACTTTCTGATATGATCTCCATC</text>
<polyline points="383.0,133.2 383.4,131.0 383.8,127.6 384.2,124.3 384.6,123.2 385.0,125.1 385.4,128.5 385.8,131.1 386.2,131.3 386.6,128.8 387.0,124.6 387.4,121.1 387.8,120.8 388.2,123.9 388.6,128.2 389.0,131.1 389.4,131.2 389.8,128.9 390.2,125.3 390.6,123.0 391.0,123.7 391.4,126.8 391.8,130.2 392.2,131.9 392.6,131.4 393.0,129.0 393.4,126.1 393.8,124.8 394.2,126.0 394.6,128.9 395.0,131.3 395.4,131.9 395.8,130.0 396.2,126.4 396.6,123.1 397.0,122.3 397.4,124.7 397.8,128.6 398.2,131.7 398.6,133.3 399.0,133.4 399.4,132.9 399.8,132.3 400.2,132.2 400.6,132.8 401.0,133.6 401.4,134.1 401.8,134.5 402.2,134.6 402.6,134.6 403.0,134.6 403.4,134.6 403.8,134.6 404.2,134.6 404.6,134.6 405.0,134.6 405.4,134.6 405.8,134.6 406.2,134.6 406.6,134.6 407.0,134.6 407.4,134.6 407.8,134.6 408.2,134.6 408.6,134.6 409.0,134.6 409.4,134.6 409.8,134.6 410.2,134.6 410.6,134.6 411.0,134.6 411.4,134.6 411.8,134.6 412.2,134.6 412.6,134.6 413.0,134.6 413.4,134.6 413.8,134.6 414.2,134.6 414.6,134.6 415.0,134.6 415.4,134.6 415.8,134.6 416.2,134.6 416.6,134.6 417.0,134.6 417.4,134.6 417.8,134.6 418.2,134.6 418.6,134.6 419.0,134.6 419.4,134.6 419.8,134.6 420.2,134.6 420.6,134.6 421.0,134.6 421.4,134.6 421.8,134.6 422.2,134.6 422.6,134.6 423.0,134.6 423.4,134.4 423.8,134.2 424.2,133.8 424.6,133.4 425.0,133.3 425.4,133.5 425.8,133.9 426.2,134.2 426.6,134.3 427.0,134.1 427.4,133.8 427.8,133.7 428.2,133.7 428.6,133.9 429.0,133.9 429.4,133.0 429.8,130.9 430.2,127.6 430.6,124.5 431.0,123.4 431.4,125.0 431.8,128.2 432.2,131.2 432.6,132.7 433.0,133.0 433.4,132.4 433.8,132.0 434.2,132.2 434.6,132.8 435.0,133.4 435.4,133.2 435.8,131.6 436.2,128.6 436.6,125.2 437.0,123.5 437.4,124.7 437.8,128.0 438.2,131.3 438.6,133.3 439.0,134.2 439.4,134.5 439.8,134.6 440.2,134.6 440.6,134.6 441.0,134.4 441.4,133.9 441.8,132.6 442.2,129.8 442.6,126.1 443.0,123.2 443.4,123.1 443.8,125.9 444.2,129.7 444.6,132.5 445.0,133.9 445.4,134.4 445.8,134.6 446.2,134.6 446.6,134.6 447.0,134.6 447.4,134.6 447.8,134.6 448.2,134.6 448.6,134.6 449.0,134.6 449.4,134.6 449.8,134.6 450.2,134.6 450.6,134.6 451.0,134.6 451.4,134.6 451.8,134.6 452.2,134.6 452.6,134.6 453.0,134.6 453.4,134.6 453.8,134.6 454.2,134.6 454.6,134.6 455.0,134.6 455.4,134.6 455.8,134.6 456.2,134.6 456.6,134.6 457.0,134.6 457.4,134.6 457.8,134.6 458.2,134.6 458.6,134.6 459.0,134.6 459.4,134.6 459.8,134.6 460.2,134.6 460.6,134.6 461.0,134.6 461.4,134.6 461.8,134.6 462.2,134.6 462.6,134.6 463.0,134.6 463.4,134.6 463.8,134.6 464.2,134.6 464.6,134.6 465.0,134.6 465.4,134.6 465.8,134.4 466.2,133.6 466.6,131.7 467.0,128.3 467.4,124.1 467.8,121.5 468.2,122.3 468.6,125.9 469.0,129.9 469.4,132.7 469.8,134.0 470.2,134.5 470.6,134.6 471.0,134.6 471.4,134.6 471.8,134.5 472.2,134.2 472.6,133.4 473.0,131.5 473.4,128.8 473.8,126.4 474.2,125.8 474.6,127.6 475.0,130.4 475.4,132.7 475.8,133.9 476.2,134.4 476.6,134.6 477.0,134.6 477.4,134.6 477.8,134.6 478.2,134.6 478.6,134.6 479.0,134.6 479.4,134.6 479.8,134.6 480.2,134.6 480.6,134.6 481.0,134.5 481.4,134.2 481.8,133.4 482.2,131.4 482.6,128.2 483.0,125.1 483.4,124.0 483.8,125.7 484.2,129.0 484.6,131.9 485.0,133.6 485.4,134.3 485.8,134.5 486.2,134.6 486.6,134.6 487.0,134.6 487.4,134.6 487.8,134.6 488.2,134.6 488.6,134.6 489.0,134.6 489.4,134.6 489.8,134.6 490.2,134.6 490.6,134.5 491.0,134.3 491.4,134.1 491.8,133.9 492.2,133.8 492.6,133.9 493.0,134.2 493.4,134.4 493.8,134.5 494.2,134.6 494.6,134.6 495.0,134.6 495.4,134.6 495.8,134.6 496.2,134.6 496.6,134.6 497.0,134.6 497.4,134.6 497.8,134.6 498.2,134.6 498.6,134.6 499.0,134.6 499.4,134.6 499.8,134.4 500.2,133.8 500.6,132.4 501.0,129.8 501.4,126.9 501.8,125.2 502.2,125.9 502.6,128.6 503.0,131.5 503.4,133.4 503.8,134.2 504.2,134.5 504.6,134.6 505.0,134.6 505.4,134.6 505.8,134.6 506.2,134.6 506.6,134.6 507.0,134.6 507.4,134.6 507.8,134.6 508.2,134.6 508.6,134.6 509.0,134.6 509.4,134.6" fill="none" stroke="#6cb33f" stroke-width="0.55" opacity="0.85"/>
<polyline points="383.0,134.6 383.4,134.6 383.8,134.6 384.2,134.6 384.6,134.6 385.0,134.6 385.4,134.6 385.8,134.6 386.2,134.6 386.6,134.6 387.0,134.6 387.4,134.6 387.8,134.6 388.2,134.6 388.6,134.6 389.0,134.6 389.4,134.6 389.8,134.6 390.2,134.6 390.6,134.6 391.0,134.6 391.4,134.6 391.8,134.6 392.2,134.6 392.6,134.6 393.0,134.6 393.4,134.6 393.8,134.6 394.2,134.6 394.6,134.6 395.0,134.6 395.4,134.6 395.8,134.6 396.2,134.6 396.6,134.6 397.0,134.6 397.4,134.6 397.8,134.5 398.2,134.0 398.6,132.9 399.0,130.7 399.4,127.7 399.8,125.6 400.2,125.7 400.6,128.0 401.0,130.9 401.4,133.0 401.8,134.1 402.2,134.5 402.6,134.6 403.0,134.6 403.4,134.6 403.8,134.6 404.2,134.6 404.6,134.6 405.0,134.6 405.4,134.6 405.8,134.6 406.2,134.6 406.6,134.6 407.0,134.5 407.4,134.0 407.8,132.6 408.2,129.7 408.6,125.6 409.0,122.2 409.4,121.8 409.8,124.6 410.2,128.8 410.6,132.0 411.0,133.8 411.4,134.4 411.8,134.6 412.2,134.6 412.6,134.6 413.0,134.6 413.4,134.6 413.8,134.5 414.2,134.2 414.6,133.6 415.0,132.9 415.4,132.4 415.8,132.5 416.2,133.1 416.6,133.8 417.0,134.3 417.4,134.5 417.8,134.6 418.2,134.6 418.6,134.6 419.0,134.6 419.4,134.6 419.8,134.6 420.2,134.6 420.6,134.6 421.0,134.6 421.4,134.6 421.8,134.6 422.2,134.6 422.6,134.6 423.0,134.6 423.4,134.6 423.8,134.6 424.2,134.6 424.6,134.6 425.0,134.6 425.4,134.6 425.8,134.6 426.2,134.6 426.6,134.6 427.0,134.6 427.4,134.6 427.8,134.6 428.2,134.6 428.6,134.6 429.0,134.6 429.4,134.6 429.8,134.6 430.2,134.6 430.6,134.6 431.0,134.6 431.4,134.6 431.8,134.5 432.2,134.0 432.6,132.9 433.0,130.7 433.4,127.9 433.8,126.0 434.2,126.3 434.6,128.6 435.0,131.3 435.4,133.2 435.8,134.0 436.2,134.1 436.6,133.9 437.0,133.5 437.4,133.3 437.8,133.5 438.2,133.6 438.6,133.1 439.0,131.5 439.4,128.8 439.8,126.2 440.2,125.4 440.6,127.0 441.0,129.9 441.4,132.4 441.8,133.8 442.2,134.4 442.6,134.6 443.0,134.6 443.4,134.6 443.8,134.6 444.2,134.3 444.6,133.6 445.0,131.7 445.4,128.1 445.8,123.6 446.2,120.5 446.6,120.8 447.0,124.2 447.4,128.5 447.8,131.8 448.2,133.6 448.6,134.3 449.0,134.5 449.4,134.6 449.8,134.6 450.2,134.6 450.6,134.6 451.0,134.6 451.4,134.6 451.8,134.6 452.2,134.6 452.6,134.6 453.0,134.6 453.4,134.6 453.8,134.6 454.2,134.6 454.6,134.6 455.0,134.6 455.4,134.6 455.8,134.6 456.2,134.5 456.6,134.3 457.0,133.3 457.4,131.0 457.8,127.0 458.2,122.5 458.6,120.2 459.0,121.6 459.4,125.8 459.8,130.0 460.2,132.5 460.6,133.2 461.0,132.8 461.4,132.3 461.8,132.3 462.2,132.9 462.6,133.6 463.0,134.0 463.4,134.0 463.8,133.8 464.2,133.5 464.6,133.4 465.0,133.6 465.4,134.0 465.8,134.3 466.2,134.5 466.6,134.6 467.0,134.6 467.4,134.6 467.8,134.6 468.2,134.6 468.6,134.6 469.0,134.6 469.4,134.6 469.8,134.6 470.2,134.6 470.6,134.6 471.0,134.6 471.4,134.6 471.8,134.6 472.2,134.6 472.6,134.6 473.0,134.6 473.4,134.6 473.8,134.6 474.2,134.6 474.6,134.6 475.0,134.6 475.4,134.6 475.8,134.6 476.2,134.6 476.6,134.6 477.0,134.6 477.4,134.6 477.8,134.6 478.2,134.6 478.6,134.6 479.0,134.6 479.4,134.6 479.8,134.6 480.2,134.6 480.6,134.6 481.0,134.6 481.4,134.6 481.8,134.5 482.2,134.4 482.6,134.2 483.0,133.9 483.4,133.6 483.8,133.6 484.2,133.8 484.6,134.2 485.0,134.4 485.4,134.5 485.8,134.6 486.2,134.6 486.6,134.6 487.0,134.6 487.4,134.4 487.8,133.7 488.2,131.9 488.6,128.7 489.0,124.6 489.4,122.0 489.8,122.6 490.2,126.0 490.6,130.0 491.0,132.7 491.4,134.0 491.8,134.5 492.2,134.6 492.6,134.6 493.0,134.6 493.4,134.5 493.8,134.0 494.2,132.7 494.6,129.7 495.0,125.4 495.4,121.4 495.8,120.3 496.2,123.0 496.6,127.4 497.0,130.6 497.4,131.2 497.8,128.9 498.2,124.7 498.6,121.1 499.0,120.4 499.4,123.2 499.8,127.5 500.2,131.2 500.6,133.3 501.0,134.2 501.4,134.5 501.8,134.6 502.2,134.6 502.6,134.6 503.0,134.6 503.4,134.6 503.8,134.6 504.2,134.6 504.6,134.6 505.0,134.6 505.4,134.6 505.8,134.5 506.2,134.2 506.6,133.1 507.0,131.0 507.4,127.9 507.8,125.3 508.2,124.7 508.6,126.7 509.0,129.8 509.4,132.4" fill="none" stroke="#4a84d4" stroke-width="0.55" opacity="0.85"/>
<polyline points="383.0,134.6 383.4,134.6 383.8,134.6 384.2,134.6 384.6,134.6 385.0,134.6 385.4,134.6 385.8,134.6 386.2,134.6 386.6,134.6 387.0,134.6 387.4,134.6 387.8,134.6 388.2,134.6 388.6,134.6 389.0,134.6 389.4,134.6 389.8,134.6 390.2,134.6 390.6,134.6 391.0,134.6 391.4,134.6 391.8,134.6 392.2,134.6 392.6,134.6 393.0,134.6 393.4,134.6 393.8,134.6 394.2,134.6 394.6,134.6 395.0,134.6 395.4,134.6 395.8,134.6 396.2,134.6 396.6,134.6 397.0,134.6 397.4,134.6 397.8,134.6 398.2,134.6 398.6,134.6 399.0,134.6 399.4,134.6 399.8,134.6 400.2,134.6 400.6,134.6 401.0,134.6 401.4,134.6 401.8,134.6 402.2,134.6 402.6,134.6 403.0,134.6 403.4,134.6 403.8,134.6 404.2,134.6 404.6,134.6 405.0,134.6 405.4,134.6 405.8,134.6 406.2,134.6 406.6,134.6 407.0,134.6 407.4,134.6 407.8,134.6 408.2,134.6 408.6,134.6 409.0,134.6 409.4,134.6 409.8,134.6 410.2,134.6 410.6,134.6 411.0,134.6 411.4,134.6 411.8,134.6 412.2,134.6 412.6,134.6 413.0,134.6 413.4,134.6 413.8,134.6 414.2,134.6 414.6,134.6 415.0,134.6 415.4,134.6 415.8,134.6 416.2,134.6 416.6,134.6 417.0,134.6 417.4,134.6 417.8,134.6 418.2,134.6 418.6,134.6 419.0,134.6 419.4,134.6 419.8,134.5 420.2,134.2 420.6,133.8 421.0,133.2 421.4,132.7 421.8,132.7 422.2,133.1 422.6,133.5 423.0,133.3 423.4,131.9 423.8,128.9 424.2,125.3 424.6,123.2 425.0,124.1 425.4,127.3 425.8,130.5 426.2,132.0 426.6,131.2 427.0,128.6 427.4,125.7 427.8,124.5 428.2,126.0 428.6,129.1 429.0,131.9 429.4,133.6 429.8,134.3 430.2,134.5 430.6,134.6 431.0,134.6 431.4,134.6 431.8,134.6 432.2,134.6 432.6,134.6 433.0,134.6 433.4,134.6 433.8,134.6 434.2,134.6 434.6,134.6 435.0,134.6 435.4,134.6 435.8,134.6 436.2,134.6 436.6,134.6 437.0,134.6 437.4,134.6 437.8,134.6 438.2,134.6 438.6,134.6 439.0,134.6 439.4,134.6 439.8,134.6 440.2,134.6 440.6,134.6 441.0,134.6 441.4,134.6 441.8,134.6 442.2,134.6 442.6,134.6 443.0,134.6 443.4,134.6 443.8,134.6 444.2,134.6 444.6,134.6 445.0,134.6 445.4,134.6 445.8,134.6 446.2,134.6 446.6,134.6 447.0,134.6 447.4,134.6 447.8,134.6 448.2,134.6 448.6,134.6 449.0,134.6 449.4,134.6 449.8,134.6 450.2,134.6 450.6,134.6 451.0,134.6 451.4,134.6 451.8,134.6 452.2,134.6 452.6,134.6 453.0,134.6 453.4,134.6 453.8,134.6 454.2,134.6 454.6,134.6 455.0,134.6 455.4,134.6 455.8,134.6 456.2,134.6 456.6,134.6 457.0,134.6 457.4,134.6 457.8,134.6 458.2,134.6 458.6,134.6 459.0,134.6 459.4,134.6 459.8,134.6 460.2,134.6 460.6,134.6 461.0,134.6 461.4,134.6 461.8,134.6 462.2,134.6 462.6,134.4 463.0,134.0 463.4,132.6 463.8,129.7 464.2,125.8 464.6,122.7 465.0,122.4 465.4,125.3 465.8,129.2 466.2,132.2 466.6,133.6 467.0,133.9 467.4,133.8 467.8,133.7 468.2,133.9 468.6,134.1 469.0,134.4 469.4,134.5 469.8,134.6 470.2,134.6 470.6,134.6 471.0,134.6 471.4,134.6 471.8,134.6 472.2,134.6 472.6,134.6 473.0,134.6 473.4,134.6 473.8,134.6 474.2,134.6 474.6,134.6 475.0,134.6 475.4,134.6 475.8,134.6 476.2,134.6 476.6,134.6 477.0,134.6 477.4,134.6 477.8,134.6 478.2,134.4 478.6,133.7 479.0,131.9 479.4,128.9 479.8,125.5 480.2,123.6 480.6,124.6 481.0,127.8 481.4,131.1 481.8,133.2 482.2,134.2 482.6,134.5 483.0,134.6 483.4,134.6 483.8,134.6 484.2,134.6 484.6,134.6 485.0,134.6 485.4,134.6 485.8,134.6 486.2,134.6 486.6,134.6 487.0,134.6 487.4,134.6 487.8,134.6 488.2,134.6 488.6,134.6 489.0,134.6 489.4,134.6 489.8,134.6 490.2,134.6 490.6,134.6 491.0,134.6 491.4,134.6 491.8,134.6 492.2,134.6 492.6,134.6 493.0,134.6 493.4,134.6 493.8,134.6 494.2,134.6 494.6,134.6 495.0,134.6 495.4,134.6 495.8,134.6 496.2,134.6 496.6,134.6 497.0,134.6 497.4,134.6 497.8,134.6 498.2,134.6 498.6,134.6 499.0,134.6 499.4,134.6 499.8,134.6 500.2,134.6 500.6,134.6 501.0,134.6 501.4,134.6 501.8,134.6 502.2,134.6 502.6,134.6 503.0,134.6 503.4,134.6 503.8,134.6 504.2,134.6 504.6,134.6 505.0,134.6 505.4,134.6 505.8,134.6 506.2,134.6 506.6,134.6 507.0,134.6 507.4,134.6 507.8,134.6 508.2,134.6 508.6,134.6 509.0,134.6 509.4,134.6" fill="none" stroke="#1e1e1e" stroke-width="0.55" opacity="0.85"/>
<polyline points="383.0,134.6 383.4,134.6 383.8,134.6 384.2,134.6 384.6,134.6 385.0,134.6 385.4,134.6 385.8,134.6 386.2,134.6 386.6,134.6 387.0,134.6 387.4,134.6 387.8,134.6 388.2,134.6 388.6,134.6 389.0,134.6 389.4,134.6 389.8,134.6 390.2,134.6 390.6,134.6 391.0,134.6 391.4,134.6 391.8,134.6 392.2,134.6 392.6,134.6 393.0,134.6 393.4,134.6 393.8,134.6 394.2,134.6 394.6,134.6 395.0,134.6 395.4,134.6 395.8,134.6 396.2,134.6 396.6,134.6 397.0,134.6 397.4,134.6 397.8,134.6 398.2,134.6 398.6,134.6 399.0,134.6 399.4,134.6 399.8,134.6 400.2,134.6 400.6,134.5 401.0,134.3 401.4,133.6 401.8,131.6 402.2,128.2 402.6,124.4 403.0,122.2 403.4,123.3 403.8,126.8 404.2,130.2 404.6,131.8 405.0,130.8 405.4,127.9 405.8,124.7 406.2,123.5 406.6,125.3 407.0,128.7 407.4,131.8 407.8,133.6 408.2,134.3 408.6,134.5 409.0,134.6 409.4,134.6 409.8,134.6 410.2,134.4 410.6,133.7 411.0,132.1 411.4,128.9 411.8,125.0 412.2,122.4 412.6,122.9 413.0,126.2 413.4,129.8 413.8,131.9 414.2,131.6 414.6,129.5 415.0,126.8 415.4,125.5 415.8,126.5 416.2,129.2 416.6,131.5 417.0,132.2 417.4,130.7 417.8,127.7 418.2,124.8 418.6,124.0 419.0,126.0 419.4,129.2 419.8,131.6 420.2,132.0 420.6,130.3 421.0,127.3 421.4,125.0 421.8,125.1 422.2,127.4 422.6,130.5 423.0,132.9 423.4,134.0 423.8,134.5 424.2,134.6 424.6,134.6 425.0,134.6 425.4,134.6 425.8,134.6 426.2,134.6 426.6,134.6 427.0,134.6 427.4,134.6 427.8,134.6 428.2,134.6 428.6,134.6 429.0,134.6 429.4,134.6 429.8,134.6 430.2,134.6 430.6,134.6 431.0,134.6 431.4,134.6 431.8,134.6 432.2,134.6 432.6,134.6 433.0,134.6 433.4,134.6 433.8,134.6 434.2,134.6 434.6,134.6 435.0,134.6 435.4,134.6 435.8,134.6 436.2,134.6 436.6,134.6 437.0,134.6 437.4,134.6 437.8,134.6 438.2,134.6 438.6,134.6 439.0,134.4 439.4,134.2 439.8,133.9 440.2,133.7 440.6,133.7 441.0,133.9 441.4,134.2 441.8,134.4 442.2,134.5 442.6,134.6 443.0,134.6 443.4,134.6 443.8,134.6 444.2,134.6 444.6,134.6 445.0,134.6 445.4,134.6 445.8,134.6 446.2,134.6 446.6,134.6 447.0,134.5 447.4,134.3 447.8,133.4 448.2,131.4 448.6,128.1 449.0,124.8 449.4,123.4 449.8,124.9 450.2,128.3 450.6,131.1 451.0,131.9 451.4,130.3 451.8,127.2 452.2,124.2 452.6,123.7 453.0,125.9 453.4,129.3 453.8,131.7 454.2,132.1 454.6,130.6 455.0,128.0 455.4,126.0 455.8,126.3 456.2,128.5 456.6,131.2 457.0,133.2 457.4,134.2 457.8,134.5 458.2,134.6 458.6,134.6 459.0,134.6 459.4,134.5 459.8,134.1 460.2,132.8 460.6,130.0 461.0,125.6 461.4,121.4 461.8,120.1 462.2,122.5 462.6,127.1 463.0,131.1 463.4,133.3 463.8,134.3 464.2,134.5 464.6,134.6 465.0,134.6 465.4,134.6 465.8,134.6 466.2,134.6 466.6,134.6 467.0,134.6 467.4,134.6 467.8,134.6 468.2,134.6 468.6,134.5 469.0,134.3 469.4,133.6 469.8,131.8 470.2,129.0 470.6,126.0 471.0,124.6 471.4,125.9 471.8,128.9 472.2,131.8 472.6,133.6 473.0,134.3 473.4,134.5 473.8,134.6 474.2,134.6 474.6,134.6 475.0,134.4 475.4,133.8 475.8,132.2 476.2,129.1 476.6,125.0 477.0,121.8 477.4,121.8 477.8,124.9 478.2,129.0 478.6,132.2 479.0,133.8 479.4,134.4 479.8,134.6 480.2,134.6 480.6,134.6 481.0,134.6 481.4,134.6 481.8,134.6 482.2,134.6 482.6,134.6 483.0,134.6 483.4,134.6 483.8,134.6 484.2,134.5 484.6,134.0 485.0,132.6 485.4,129.9 485.8,126.0 486.2,122.8 486.6,122.4 487.0,125.2 487.4,129.1 487.8,132.2 488.2,133.8 488.6,134.4 489.0,134.6 489.4,134.6 489.8,134.6 490.2,134.5 490.6,134.3 491.0,133.5 491.4,131.5 491.8,128.2 492.2,124.7 492.6,123.0 493.0,124.4 493.4,127.8 493.8,131.0 494.2,132.7 494.6,133.0 495.0,132.6 495.4,132.3 495.8,132.6 496.2,133.3 496.6,133.9 497.0,134.4 497.4,134.5 497.8,134.6 498.2,134.6 498.6,134.6 499.0,134.6 499.4,134.6 499.8,134.6 500.2,134.6 500.6,134.6 501.0,134.6 501.4,134.6 501.8,134.6 502.2,134.6 502.6,134.5 503.0,134.2 503.4,133.2 503.8,130.9 504.2,127.2 504.6,123.5 505.0,122.0 505.4,123.9 505.8,127.8 506.2,131.3 506.6,133.4 507.0,134.3 507.4,134.5 507.8,134.6 508.2,134.6 508.6,134.6 509.0,134.6 509.4,134.6" fill="none" stroke="#d2403f" stroke-width="0.55" opacity="0.85"/>
<line x1="383.0" y1="134.9" x2="509.6" y2="134.9" stroke="#c04848" stroke-width="0.6"/>
<text x="383.0" y="145.8" font-size="3.7" textLength="125.1" lengthAdjust="spacing" fill="#6cb33f">AAAAACTTCTTTTGGACACACTTTCTGATATGATCTCCATC</text>
<polyline points="383.0,160.1 383.4,157.9 383.8,154.4 384.2,151.1 384.6,150.0 385.0,151.9 385.4,155.3 385.8,158.0 386.2,158.4 386.6,156.2 387.0,152.1 387.4,148.5 387.8,147.8 388.2,150.3 388.6,154.3 389.0,157.2 389.4,157.6 389.8,155.2 390.2,151.6 390.6,149.1 391.0,149.8 391.4,153.1 391.8,156.7 392.2,158.3 392.6,157.0 393.0,153.2 393.4,148.8 393.8,146.7 394.2,148.5 394.6,152.8 395.0,156.7 395.4,158.3 395.8,157.1 396.2,154.0 396.6,151.0 397.0,150.3 397.4,152.5 397.8,156.0 398.2,159.0 398.6,160.6 399.0,161.3 399.4,161.5 399.8,161.5 400.2,161.5 400.6,161.5 401.0,161.5 401.4,161.5 401.8,161.5 402.2,161.5 402.6,161.5 403.0,161.5 403.4,161.5 403.8,161.5 404.2,161.5 404.6,161.4 405.0,161.3 405.4,160.9 405.8,160.3 406.2,159.7 406.6,159.5 407.0,159.9 407.4,160.5 407.8,161.0 408.2,161.3 408.6,161.5 409.0,161.5 409.4,161.5 409.8,161.5 410.2,161.5 410.6,161.5 411.0,161.5 411.4,161.5 411.8,161.5 412.2,161.5 412.6,161.5 413.0,161.5 413.4,161.5 413.8,161.5 414.2,161.5 414.6,161.5 415.0,161.5 415.4,161.5 415.8,161.5 416.2,161.5 416.6,161.5 417.0,161.5 417.4,161.5 417.8,161.5 418.2,161.5 418.6,161.5 419.0,161.5 419.4,161.5 419.8,161.5 420.2,161.5 420.6,161.5 421.0,161.5 421.4,161.5 421.8,161.5 422.2,161.5 422.6,161.5 423.0,161.5 423.4,161.5 423.8,161.5 424.2,161.5 424.6,161.5 425.0,161.5 425.4,161.5 425.8,161.5 426.2,161.5 426.6,161.5 427.0,161.5 427.4,161.5 427.8,161.5 428.2,161.5 428.6,161.4 429.0,160.9 429.4,159.7 429.8,157.0 430.2,153.1 430.6,149.9 431.0,149.4 431.4,152.0 431.8,155.9 432.2,159.0 432.6,160.7 433.0,161.3 433.4,161.5 433.8,161.5 434.2,161.5 434.6,161.4 435.0,161.2 435.4,160.5 435.8,158.7 436.2,155.7 436.6,152.3 437.0,150.7 437.4,151.9 437.8,155.0 438.2,158.2 438.6,160.3 439.0,161.1 439.4,161.4 439.8,161.5 440.2,161.5 440.6,161.5 441.0,161.4 441.4,161.0 441.8,159.9 442.2,157.7 442.6,154.7 443.0,152.4 443.4,152.4 443.8,154.6 444.2,157.5 444.6,159.8 445.0,160.9 445.4,161.4 445.8,161.5 446.2,161.5 446.6,161.5 447.0,161.5 447.4,161.5 447.8,161.5 448.2,161.5 448.6,161.5 449.0,161.5 449.4,161.5 449.8,161.5 450.2,161.5 450.6,161.5 451.0,161.5 451.4,161.5 451.8,161.5 452.2,161.5 452.6,161.5 453.0,161.5 453.4,161.5 453.8,161.5 454.2,161.5 454.6,161.5 455.0,161.5 455.4,161.5 455.8,161.5 456.2,161.5 456.6,161.5 457.0,161.5 457.4,161.5 457.8,161.5 458.2,161.5 458.6,161.5 459.0,161.5 459.4,161.5 459.8,161.5 460.2,161.5 460.6,161.5 461.0,161.5 461.4,161.5 461.8,161.5 462.2,161.5 462.6,161.5 463.0,161.5 463.4,161.5 463.8,161.5 464.2,161.5 464.6,161.5 465.0,161.5 465.4,161.5 465.8,161.3 466.2,160.8 466.6,159.3 467.0,156.7 467.4,153.5 467.8,151.5 468.2,152.0 468.6,154.8 469.0,157.9 469.4,160.1 469.8,161.1 470.2,161.4 470.6,161.5 471.0,161.5 471.4,161.5 471.8,161.4 472.2,161.1 472.6,160.1 473.0,158.1 473.4,155.1 473.8,152.4 474.2,151.8 474.6,153.7 475.0,156.8 475.4,159.4 475.8,160.8 476.2,161.3 476.6,161.5 477.0,161.5 477.4,161.5 477.8,161.5 478.2,161.5 478.6,161.5 479.0,161.5 479.4,161.5 479.8,161.5 480.2,161.5 480.6,161.5 481.0,161.4 481.4,161.0 481.8,159.8 482.2,157.0 482.6,152.7 483.0,148.4 483.4,146.9 483.8,149.2 484.2,153.8 484.6,157.8 485.0,160.2 485.4,161.1 485.8,161.4 486.2,161.5 486.6,161.5 487.0,161.5 487.4,161.5 487.8,161.5 488.2,161.5 488.6,161.5 489.0,161.5 489.4,161.5 489.8,161.5 490.2,161.5 490.6,161.5 491.0,161.5 491.4,161.5 491.8,161.5 492.2,161.5 492.6,161.5 493.0,161.5 493.4,161.5 493.8,161.5 494.2,161.5 494.6,161.5 495.0,161.5 495.4,161.5 495.8,161.5 496.2,161.5 496.6,161.5 497.0,161.5 497.4,161.5 497.8,161.5 498.2,161.5 498.6,161.5 499.0,161.5 499.4,161.4 499.8,161.2 500.2,160.5 500.6,158.6 501.0,155.3 501.4,151.4 501.8,149.2 502.2,150.2 502.6,153.7 503.0,157.4 503.4,159.9 503.8,161.0 504.2,161.4 504.6,161.5 505.0,161.5 505.4,161.5 505.8,161.5 506.2,161.5 506.6,161.5 507.0,161.5 507.4,161.5 507.8,161.5 508.2,161.5 508.6,161.5 509.0,161.5 509.4,161.5" fill="none" stroke="#6cb33f" stroke-width="0.55" opacity="0.85"/>
<polyline points="383.0,161.5 383.4,161.5 383.8,161.5 384.2,161.5 384.6,161.5 385.0,161.5 385.4,161.5 385.8,161.5 386.2,161.5 386.6,161.5 387.0,161.5 387.4,161.5 387.8,161.5 388.2,161.5 388.6,161.5 389.0,161.5 389.4,161.5 389.8,161.5 390.2,161.5 390.6,161.5 391.0,161.5 391.4,161.5 391.8,161.5 392.2,161.5 392.6,161.5 393.0,161.5 393.4,161.5 393.8,161.5 394.2,161.5 394.6,161.4 395.0,161.1 395.4,160.5 395.8,159.8 396.2,159.3 396.6,159.3 397.0,159.9 397.4,160.6 397.8,161.0 398.2,160.8 398.6,159.8 399.0,157.6 399.4,154.7 399.8,152.6 400.2,152.7 400.6,154.9 401.0,157.8 401.4,160.0 401.8,161.0 402.2,161.4 402.6,161.5 403.0,161.5 403.4,161.5 403.8,161.5 404.2,161.5 404.6,161.5 405.0,161.5 405.4,161.5 405.8,161.5 406.2,161.5 406.6,161.5 407.0,161.4 407.4,161.0 407.8,159.9 408.2,157.7 408.6,154.6 409.0,152.0 409.4,151.6 409.8,153.8 410.2,157.0 410.6,159.5 411.0,160.8 411.4,161.3 411.8,161.5 412.2,161.5 412.6,161.5 413.0,161.5 413.4,161.5 413.8,161.5 414.2,161.5 414.6,161.5 415.0,161.5 415.4,161.5 415.8,161.5 416.2,161.5 416.6,161.5 417.0,161.5 417.4,161.5 417.8,161.5 418.2,161.5 418.6,161.5 419.0,161.5 419.4,161.5 419.8,161.5 420.2,161.5 420.6,161.5 421.0,161.5 421.4,161.5 421.8,161.5 422.2,161.5 422.6,161.5 423.0,161.5 423.4,161.5 423.8,161.5 424.2,161.5 424.6,161.5 425.0,161.5 425.4,161.5 425.8,161.5 426.2,161.5 426.6,161.5 427.0,161.5 427.4,161.5 427.8,161.5 428.2,161.5 428.6,161.5 429.0,161.5 429.4,161.5 429.8,161.5 430.2,161.5 430.6,161.5 431.0,161.5 431.4,161.5 431.8,161.3 432.2,160.7 432.6,158.9 433.0,155.6 433.4,151.3 433.8,148.0 434.2,147.9 434.6,150.9 435.0,155.2 435.4,158.6 435.8,160.4 436.2,161.2 436.6,161.4 437.0,161.5 437.4,161.5 437.8,161.4 438.2,161.0 438.6,159.9 439.0,157.3 439.4,153.5 439.8,149.9 440.2,148.8 440.6,151.0 441.0,155.0 441.4,158.5 441.8,160.4 442.2,161.2 442.6,161.4 443.0,161.5 443.4,161.5 443.8,161.4 444.2,161.2 444.6,160.5 445.0,158.6 445.4,155.1 445.8,150.9 446.2,148.4 446.6,149.3 447.0,152.9 447.4,157.0 447.8,159.7 448.2,161.0 448.6,161.4 449.0,161.5 449.4,161.5 449.8,161.5 450.2,161.5 450.6,161.5 451.0,161.5 451.4,161.5 451.8,161.5 452.2,161.5 452.6,161.5 453.0,161.5 453.4,161.5 453.8,161.5 454.2,161.5 454.6,161.5 455.0,161.5 455.4,161.5 455.8,161.5 456.2,161.4 456.6,161.2 457.0,160.5 457.4,158.8 457.8,155.8 458.2,152.5 458.6,150.8 459.0,151.8 459.4,155.0 459.8,158.2 460.2,160.2 460.6,161.1 461.0,161.4 461.4,161.5 461.8,161.5 462.2,161.5 462.6,161.5 463.0,161.5 463.4,161.5 463.8,161.5 464.2,161.5 464.6,161.5 465.0,161.5 465.4,161.5 465.8,161.5 466.2,161.5 466.6,161.5 467.0,161.5 467.4,161.5 467.8,161.5 468.2,161.5 468.6,161.5 469.0,161.5 469.4,161.5 469.8,161.5 470.2,161.5 470.6,161.5 471.0,161.5 471.4,161.5 471.8,161.5 472.2,161.5 472.6,161.5 473.0,161.5 473.4,161.5 473.8,161.5 474.2,161.5 474.6,161.5 475.0,161.5 475.4,161.5 475.8,161.5 476.2,161.5 476.6,161.5 477.0,161.5 477.4,161.5 477.8,161.5 478.2,161.5 478.6,161.5 479.0,161.5 479.4,161.5 479.8,161.5 480.2,161.5 480.6,161.5 481.0,161.5 481.4,161.5 481.8,161.5 482.2,161.5 482.6,161.5 483.0,161.5 483.4,161.5 483.8,161.5 484.2,161.5 484.6,161.5 485.0,161.5 485.4,161.5 485.8,161.5 486.2,161.5 486.6,161.5 487.0,161.5 487.4,161.3 487.8,160.7 488.2,159.0 488.6,156.0 489.0,152.2 489.4,149.7 489.8,150.3 490.2,153.5 490.6,157.2 491.0,159.8 491.4,161.0 491.8,161.4 492.2,161.5 492.6,161.5 493.0,161.5 493.4,161.4 493.8,161.0 494.2,159.8 494.6,157.2 495.0,153.3 495.4,149.8 495.8,148.8 496.2,151.2 496.6,155.1 497.0,157.9 497.4,158.2 497.8,155.8 498.2,151.9 498.6,148.8 499.0,148.9 499.4,152.1 499.8,156.2 500.2,159.3 500.6,160.8 501.0,161.3 501.4,161.5 501.8,161.5 502.2,161.5 502.6,161.5 503.0,161.5 503.4,161.5 503.8,161.5 504.2,161.5 504.6,161.5 505.0,161.5 505.4,161.5 505.8,161.4 506.2,161.0 506.6,160.0 507.0,157.8 507.4,154.7 507.8,152.1 508.2,151.7 508.6,153.8 509.0,157.0 509.4,159.5" fill="none" stroke="#4a84d4" stroke-width="0.55" opacity="0.85"/>
<polyline points="383.0,161.5 383.4,161.5 383.8,161.5 384.2,161.5 384.6,161.5 385.0,161.5 385.4,161.5 385.8,161.5 386.2,161.5 386.6,161.5 387.0,161.5 387.4,161.5 387.8,161.5 388.2,161.5 388.6,161.5 389.0,161.5 389.4,161.5 389.8,161.5 390.2,161.5 390.6,161.5 391.0,161.5 391.4,161.5 391.8,161.5 392.2,161.5 392.6,161.5 393.0,161.5 393.4,161.5 393.8,161.5 394.2,161.5 394.6,161.5 395.0,161.5 395.4,161.5 395.8,161.5 396.2,161.5 396.6,161.5 397.0,161.5 397.4,161.5 397.8,161.5 398.2,161.5 398.6,161.5 399.0,161.5 399.4,161.5 399.8,161.5 400.2,161.5 400.6,161.5 401.0,161.5 401.4,161.5 401.8,161.5 402.2,161.5 402.6,161.5 403.0,161.5 403.4,161.5 403.8,161.5 404.2,161.5 404.6,161.5 405.0,161.5 405.4,161.5 405.8,161.5 406.2,161.5 406.6,161.5 407.0,161.5 407.4,161.5 407.8,161.5 408.2,161.5 408.6,161.5 409.0,161.5 409.4,161.5 409.8,161.5 410.2,161.5 410.6,161.5 411.0,161.5 411.4,161.5 411.8,161.5 412.2,161.5 412.6,161.5 413.0,161.5 413.4,161.5 413.8,161.5 414.2,161.5 414.6,161.5 415.0,161.5 415.4,161.5 415.8,161.5 416.2,161.5 416.6,161.5 417.0,161.5 417.4,161.5 417.8,161.5 418.2,161.5 418.6,161.5 419.0,161.5 419.4,161.5 419.8,161.5 420.2,161.5 420.6,161.5 421.0,161.5 421.4,161.5 421.8,161.5 422.2,161.4 422.6,161.2 423.0,160.4 423.4,158.3 423.8,154.6 424.2,150.2 424.6,147.7 425.0,148.7 425.4,152.6 425.8,156.5 426.2,158.4 426.6,157.5 427.0,154.5 427.4,151.1 427.8,149.8 428.2,151.5 428.6,155.1 429.0,158.4 429.4,160.4 429.8,161.2 430.2,161.4 430.6,161.5 431.0,161.5 431.4,161.5 431.8,161.5 432.2,161.5 432.6,161.5 433.0,161.5 433.4,161.5 433.8,161.5 434.2,161.5 434.6,161.5 435.0,161.5 435.4,161.5 435.8,161.5 436.2,161.5 436.6,161.5 437.0,161.5 437.4,161.5 437.8,161.5 438.2,161.5 438.6,161.5 439.0,161.5 439.4,161.5 439.8,161.5 440.2,161.5 440.6,161.5 441.0,161.5 441.4,161.3 441.8,161.1 442.2,160.6 442.6,160.0 443.0,159.7 443.4,159.9 443.8,160.4 444.2,160.9 444.6,161.3 445.0,161.4 445.4,161.5 445.8,161.5 446.2,161.5 446.6,161.5 447.0,161.5 447.4,161.5 447.8,161.5 448.2,161.5 448.6,161.5 449.0,161.5 449.4,161.5 449.8,161.5 450.2,161.5 450.6,161.5 451.0,161.5 451.4,161.5 451.8,161.5 452.2,161.5 452.6,161.5 453.0,161.5 453.4,161.4 453.8,161.2 454.2,160.8 454.6,160.4 455.0,160.2 455.4,160.4 455.8,160.8 456.2,161.1 456.6,161.4 457.0,161.5 457.4,161.5 457.8,161.5 458.2,161.5 458.6,161.5 459.0,161.5 459.4,161.5 459.8,161.5 460.2,161.5 460.6,161.5 461.0,161.5 461.4,161.5 461.8,161.5 462.2,161.5 462.6,161.4 463.0,161.0 463.4,159.9 463.8,157.6 464.2,154.5 464.6,152.0 465.0,151.8 465.4,154.0 465.8,157.2 466.2,159.6 466.6,160.9 467.0,161.4 467.4,161.5 467.8,161.5 468.2,161.5 468.6,161.5 469.0,161.5 469.4,161.5 469.8,161.5 470.2,161.5 470.6,161.5 471.0,161.5 471.4,161.5 471.8,161.5 472.2,161.5 472.6,161.5 473.0,161.5 473.4,161.5 473.8,161.5 474.2,161.5 474.6,161.5 475.0,161.5 475.4,161.5 475.8,161.5 476.2,161.5 476.6,161.5 477.0,161.5 477.4,161.5 477.8,161.4 478.2,161.2 478.6,160.3 479.0,158.1 479.4,154.2 479.8,149.7 480.2,147.3 480.6,148.6 481.0,152.6 481.4,156.9 481.8,159.7 482.2,161.0 482.6,161.4 483.0,161.5 483.4,161.5 483.8,161.5 484.2,161.5 484.6,161.5 485.0,161.5 485.4,161.5 485.8,161.5 486.2,161.5 486.6,161.5 487.0,161.5 487.4,161.5 487.8,161.5 488.2,161.4 488.6,161.1 489.0,160.7 489.4,160.0 489.8,159.6 490.2,159.6 490.6,160.1 491.0,160.7 491.4,161.2 491.8,161.4 492.2,161.5 492.6,161.5 493.0,161.5 493.4,161.5 493.8,161.5 494.2,161.5 494.6,161.5 495.0,161.5 495.4,161.5 495.8,161.5 496.2,161.5 496.6,161.5 497.0,161.5 497.4,161.5 497.8,161.5 498.2,161.5 498.6,161.5 499.0,161.5 499.4,161.5 499.8,161.5 500.2,161.5 500.6,161.4 501.0,161.2 501.4,160.8 501.8,160.3 502.2,159.9 502.6,159.8 503.0,160.2 503.4,160.8 503.8,161.2 504.2,161.4 504.6,161.5 505.0,161.5 505.4,161.5 505.8,161.4 506.2,161.3 506.6,161.1 507.0,160.9 507.4,160.8 507.8,160.8 508.2,161.0 508.6,161.3 509.0,161.4 509.4,161.5" fill="none" stroke="#1e1e1e" stroke-width="0.55" opacity="0.85"/>
<polyline points="383.0,161.5 383.4,161.5 383.8,161.5 384.2,161.5 384.6,161.5 385.0,161.5 385.4,161.5 385.8,161.5 386.2,161.5 386.6,161.5 387.0,161.5 387.4,161.5 387.8,161.5 388.2,161.5 388.6,161.5 389.0,161.5 389.4,161.5 389.8,161.5 390.2,161.5 390.6,161.5 391.0,161.5 391.4,161.5 391.8,161.5 392.2,161.5 392.6,161.5 393.0,161.5 393.4,161.5 393.8,161.5 394.2,161.5 394.6,161.5 395.0,161.5 395.4,161.5 395.8,161.5 396.2,161.5 396.6,161.5 397.0,161.5 397.4,161.5 397.8,161.5 398.2,161.5 398.6,161.5 399.0,161.5 399.4,161.5 399.8,161.5 400.2,161.5 400.6,161.5 401.0,161.3 401.4,160.6 401.8,158.9 402.2,156.0 402.6,152.7 403.0,150.8 403.4,151.7 403.8,154.7 404.2,157.6 404.6,158.6 405.0,157.0 405.4,153.2 405.8,149.3 406.2,147.8 406.6,150.0 407.0,154.2 407.4,158.0 407.8,160.3 408.2,161.2 408.6,161.4 409.0,161.5 409.4,161.5 409.8,161.5 410.2,161.3 410.6,160.7 411.0,159.2 411.4,156.3 411.8,152.8 412.2,150.4 412.6,150.9 413.0,153.9 413.4,157.1 413.8,158.6 414.2,157.6 414.6,154.5 415.0,150.7 415.4,148.9 415.8,150.4 416.2,154.0 416.6,157.4 417.0,158.6 417.4,157.1 417.8,153.8 418.2,150.5 418.6,149.7 419.0,151.9 419.4,155.4 419.8,158.1 420.2,158.4 420.6,156.3 421.0,152.7 421.4,149.9 421.8,149.9 422.2,152.8 422.6,156.6 423.0,159.4 423.4,160.8 423.8,161.3 424.2,161.5 424.6,161.5 425.0,161.5 425.4,161.5 425.8,161.5 426.2,161.4 426.6,161.2 427.0,160.8 427.4,160.3 427.8,159.9 428.2,160.0 428.6,160.4 429.0,160.9 429.4,161.2 429.8,161.4 430.2,161.5 430.6,161.5 431.0,161.5 431.4,161.5 431.8,161.5 432.2,161.5 432.6,161.5 433.0,161.5 433.4,161.5 433.8,161.5 434.2,161.5 434.6,161.5 435.0,161.5 435.4,161.5 435.8,161.5 436.2,161.5 436.6,161.5 437.0,161.5 437.4,161.5 437.8,161.5 438.2,161.5 438.6,161.5 439.0,161.5 439.4,161.5 439.8,161.5 440.2,161.5 440.6,161.5 441.0,161.5 441.4,161.5 441.8,161.5 442.2,161.5 442.6,161.5 443.0,161.5 443.4,161.5 443.8,161.5 444.2,161.5 444.6,161.5 445.0,161.4 445.4,161.1 445.8,160.7 446.2,160.2 446.6,159.9 447.0,160.0 447.4,160.0 447.8,159.3 448.2,157.2 448.6,153.6 449.0,150.1 449.4,148.9 449.8,150.8 450.2,154.6 450.6,157.7 451.0,158.5 451.4,156.8 451.8,153.2 452.2,150.0 452.6,149.4 453.0,151.8 453.4,155.6 453.8,158.3 454.2,158.7 454.6,156.9 455.0,153.9 455.4,151.7 455.8,151.9 456.2,154.5 456.6,157.6 457.0,159.9 457.4,161.0 457.8,161.4 458.2,161.5 458.6,161.5 459.0,161.5 459.4,161.4 459.8,161.2 460.2,160.4 460.6,158.6 461.0,155.9 461.4,153.3 461.8,152.5 462.2,154.0 462.6,156.8 463.0,159.2 463.4,160.5 463.8,160.7 464.2,160.2 464.6,159.5 465.0,159.2 465.4,159.4 465.8,160.0 466.2,160.8 466.6,161.2 467.0,161.4 467.4,161.5 467.8,161.5 468.2,161.5 468.6,161.4 469.0,161.2 469.4,160.3 469.8,158.3 470.2,155.0 470.6,151.6 471.0,150.0 471.4,151.5 471.8,155.0 472.2,158.3 472.6,160.3 473.0,161.2 473.4,161.4 473.8,161.5 474.2,161.5 474.6,161.5 475.0,161.4 475.4,160.9 475.8,159.6 476.2,157.2 476.6,154.0 477.0,151.7 477.4,151.9 477.8,154.4 478.2,157.5 478.6,159.8 479.0,161.0 479.4,161.4 479.8,161.5 480.2,161.5 480.6,161.5 481.0,161.5 481.4,161.5 481.8,161.5 482.2,161.5 482.6,161.5 483.0,161.5 483.4,161.5 483.8,161.5 484.2,161.4 484.6,161.0 485.0,160.0 485.4,157.9 485.8,155.0 486.2,152.5 486.6,152.3 487.0,154.3 487.4,157.3 487.8,159.7 488.2,160.9 488.6,161.3 489.0,161.5 489.4,161.5 489.8,161.5 490.2,161.4 490.6,161.2 491.0,160.3 491.4,158.3 491.8,155.0 492.2,151.4 492.6,149.7 493.0,151.2 493.4,154.7 493.8,158.1 494.2,160.2 494.6,161.1 495.0,161.4 495.4,161.5 495.8,161.5 496.2,161.5 496.6,161.5 497.0,161.5 497.4,161.5 497.8,161.5 498.2,161.5 498.6,161.5 499.0,161.5 499.4,161.5 499.8,161.5 500.2,161.5 500.6,161.5 501.0,161.5 501.4,161.5 501.8,161.5 502.2,161.5 502.6,161.4 503.0,161.1 503.4,160.1 503.8,157.7 504.2,153.9 504.6,150.1 505.0,148.7 505.4,150.6 505.8,154.6 506.2,158.2 506.6,160.3 507.0,161.2 507.4,161.4 507.8,161.5 508.2,161.5 508.6,161.5 509.0,161.5 509.4,161.5" fill="none" stroke="#d2403f" stroke-width="0.55" opacity="0.85"/>
<line x1="383.0" y1="161.8" x2="509.6" y2="161.8" stroke="#c04848" stroke-width="0.6"/>
<text x="383.0" y="269.6" font-size="8.6" textLength="54.0" lengthAdjust="spacingAndGlyphs" fill="#231f20" stroke="#231f20" stroke-width="0.24">RLTPR exon 24</text>
<text x="449.0" y="269.6" font-size="8.6" textLength="45.0" lengthAdjust="spacingAndGlyphs" fill="#231f20" stroke="#231f20" stroke-width="0.24">FES exon 11</text>
<line x1="380" y1="274.5" x2="512.6" y2="274.5" stroke="#333" stroke-width="0.8"/>
<text x="383.0" y="281.5" font-size="3.7" textLength="125.1" lengthAdjust="spacing" fill="#333">TGCCGCCAGGACATCCAGCTCCCTCCACCGCTGCAGCTCAT</text>
<rect x="383.00" y="283.40" width="126.60" height="9.00" fill="#e3a5aa"/>
<line x1="383.0" y1="283.59999999999997" x2="509.6" y2="283.59999999999997" stroke="#6e6868" stroke-width="0.7"/>
<line x1="383.0" y1="292.2" x2="509.6" y2="292.2" stroke="#7a7070" stroke-width="0.7"/>
<text x="383.0" y="304.6" font-size="3.7" textLength="125.1" lengthAdjust="spacing" fill="#d03a3a">TGCCGCCAGGACATCCAGCTCCCTCCACCGCTGCAGCTCAT</text>
<polyline points="383.0,320.3 383.4,320.3 383.8,320.3 384.2,320.3 384.6,320.3 385.0,320.3 385.4,320.3 385.8,320.3 386.2,320.3 386.6,320.3 387.0,320.3 387.4,320.3 387.8,320.3 388.2,320.3 388.6,320.3 389.0,320.3 389.4,320.3 389.8,320.3 390.2,320.3 390.6,320.3 391.0,320.3 391.4,320.3 391.8,320.3 392.2,320.3 392.6,320.3 393.0,320.3 393.4,320.3 393.8,320.3 394.2,320.3 394.6,320.1 395.0,319.8 395.4,319.1 395.8,318.3 396.2,317.8 396.6,318.0 397.0,318.7 397.4,319.4 397.8,320.0 398.2,320.2 398.6,320.3 399.0,320.3 399.4,320.3 399.8,320.3 400.2,320.3 400.6,320.3 401.0,320.3 401.4,320.3 401.8,320.3 402.2,320.3 402.6,320.3 403.0,320.3 403.4,320.3 403.8,320.2 404.2,319.9 404.6,318.8 405.0,316.3 405.4,312.3 405.8,308.5 406.2,307.1 406.6,309.1 407.0,313.2 407.4,316.9 407.8,319.1 408.2,320.0 408.6,320.2 409.0,320.3 409.4,320.3 409.8,320.3 410.2,320.3 410.6,320.3 411.0,320.3 411.4,320.3 411.8,320.3 412.2,320.3 412.6,320.3 413.0,320.2 413.4,320.0 413.8,319.1 414.2,317.0 414.6,313.4 415.0,309.6 415.4,307.8 415.8,309.2 416.2,313.0 416.6,316.6 417.0,318.9 417.4,319.9 417.8,320.2 418.2,320.3 418.6,320.3 419.0,320.3 419.4,320.2 419.8,319.8 420.2,318.7 420.6,316.5 421.0,313.5 421.4,311.3 421.8,311.4 422.2,313.6 422.6,316.5 423.0,318.7 423.4,319.8 423.8,320.2 424.2,320.3 424.6,320.3 425.0,320.3 425.4,320.3 425.8,320.3 426.2,320.3 426.6,320.3 427.0,320.3 427.4,320.3 427.8,320.3 428.2,320.3 428.6,320.3 429.0,320.3 429.4,320.3 429.8,320.3 430.2,320.3 430.6,320.3 431.0,320.3 431.4,320.3 431.8,320.1 432.2,319.4 432.6,317.5 433.0,314.0 433.4,309.6 433.8,306.6 434.2,307.1 434.6,310.7 435.0,315.1 435.4,318.1 435.8,319.6 436.2,320.1 436.6,320.3 437.0,320.3 437.4,320.3 437.8,320.3 438.2,320.3 438.6,320.3 439.0,320.3 439.4,320.3 439.8,320.3 440.2,320.3 440.6,320.3 441.0,320.3 441.4,320.3 441.8,320.3 442.2,320.3 442.6,320.3 443.0,320.3 443.4,320.3 443.8,320.3 444.2,320.3 444.6,320.3 445.0,320.3 445.4,320.3 445.8,320.3 446.2,320.3 446.6,320.3 447.0,320.3 447.4,320.3 447.8,320.3 448.2,320.3 448.6,320.3 449.0,320.3 449.4,320.3 449.8,320.3 450.2,320.3 450.6,320.3 451.0,320.3 451.4,320.3 451.8,320.3 452.2,320.3 452.6,320.3 453.0,320.3 453.4,320.3 453.8,320.3 454.2,320.3 454.6,320.3 455.0,320.3 455.4,320.3 455.8,320.3 456.2,320.3 456.6,320.3 457.0,320.3 457.4,320.3 457.8,320.3 458.2,320.3 458.6,320.3 459.0,320.3 459.4,320.3 459.8,320.3 460.2,320.3 460.6,320.3 461.0,320.3 461.4,320.3 461.8,320.3 462.2,320.3 462.6,320.1 463.0,319.6 463.4,318.1 463.8,315.1 464.2,311.0 464.6,307.7 465.0,307.4 465.4,310.4 465.8,314.6 466.2,317.8 466.6,319.5 467.0,320.1 467.4,320.3 467.8,320.3 468.2,320.3 468.6,320.3 469.0,320.3 469.4,320.3 469.8,320.3 470.2,320.3 470.6,320.3 471.0,320.3 471.4,320.3 471.8,320.3 472.2,320.3 472.6,320.3 473.0,320.3 473.4,320.3 473.8,320.3 474.2,320.3 474.6,320.3 475.0,320.3 475.4,320.3 475.8,320.3 476.2,320.3 476.6,320.3 477.0,320.3 477.4,320.3 477.8,320.3 478.2,320.3 478.6,320.3 479.0,320.3 479.4,320.3 479.8,320.3 480.2,320.3 480.6,320.3 481.0,320.3 481.4,320.3 481.8,320.3 482.2,320.3 482.6,320.3 483.0,320.3 483.4,320.3 483.8,320.3 484.2,320.3 484.6,320.3 485.0,320.3 485.4,320.3 485.8,320.3 486.2,320.3 486.6,320.3 487.0,320.3 487.4,320.1 487.8,319.4 488.2,317.5 488.6,314.1 489.0,309.8 489.4,307.0 489.8,307.7 490.2,311.3 490.6,315.4 491.0,318.3 491.4,319.7 491.8,320.2 492.2,320.3 492.6,320.3 493.0,320.3 493.4,320.3 493.8,320.3 494.2,320.3 494.6,320.3 495.0,320.3 495.4,320.3 495.8,320.3 496.2,320.3 496.6,320.3 497.0,320.3 497.4,320.3 497.8,320.3 498.2,320.3 498.6,320.3 499.0,320.3 499.4,320.3 499.8,320.3 500.2,320.3 500.6,320.3 501.0,320.3 501.4,320.3 501.8,320.3 502.2,320.3 502.6,320.2 503.0,320.0 503.4,319.2 503.8,317.3 504.2,314.2 504.6,311.2 505.0,310.1 505.4,311.6 505.8,314.8 506.2,317.6 506.6,319.3 507.0,320.0 507.4,320.2 507.8,320.3 508.2,320.3 508.6,320.3 509.0,320.3 509.4,320.3" fill="none" stroke="#6cb33f" stroke-width="0.55" opacity="0.85"/>
<polyline points="383.0,320.3 383.4,320.3 383.8,320.3 384.2,320.3 384.6,320.3 385.0,320.3 385.4,320.3 385.8,320.3 386.2,320.3 386.6,320.3 387.0,320.3 387.4,320.3 387.8,320.3 388.2,320.3 388.6,320.1 389.0,319.6 389.4,318.2 389.8,315.6 390.2,312.4 390.6,310.4 391.0,310.9 391.4,313.6 391.8,316.4 392.2,317.5 392.6,316.2 393.0,312.7 393.4,308.7 393.8,306.8 394.2,308.5 394.6,312.6 395.0,316.5 395.4,318.9 395.8,319.9 396.2,320.2 396.6,320.3 397.0,320.3 397.4,320.3 397.8,320.1 398.2,319.6 398.6,318.2 399.0,315.2 399.4,311.3 399.8,308.0 400.2,307.6 400.6,310.2 401.0,313.9 401.4,316.5 401.8,316.6 402.2,314.2 402.6,310.9 403.0,309.0 403.4,310.0 403.8,313.2 404.2,316.7 404.6,318.9 405.0,319.9 405.4,320.2 405.8,320.3 406.2,320.3 406.6,320.3 407.0,320.3 407.4,320.3 407.8,320.3 408.2,320.3 408.6,320.3 409.0,320.3 409.4,320.3 409.8,320.3 410.2,320.3 410.6,320.3 411.0,320.3 411.4,320.3 411.8,320.3 412.2,320.3 412.6,320.3 413.0,320.3 413.4,320.3 413.8,320.3 414.2,320.3 414.6,320.3 415.0,320.3 415.4,320.3 415.8,320.3 416.2,320.2 416.6,320.0 417.0,319.1 417.4,317.3 417.8,314.6 418.2,312.1 418.6,311.5 419.0,313.1 419.4,315.9 419.8,318.3 420.2,319.6 420.6,320.1 421.0,320.3 421.4,320.3 421.8,320.3 422.2,320.3 422.6,320.3 423.0,320.3 423.4,320.3 423.8,320.3 424.2,320.3 424.6,320.3 425.0,320.3 425.4,320.2 425.8,319.9 426.2,318.9 426.6,316.6 427.0,312.9 427.4,309.1 427.8,307.7 428.2,309.5 428.6,313.2 429.0,316.0 429.4,316.2 429.8,313.4 430.2,308.7 430.6,305.0 431.0,304.9 431.4,308.6 431.8,313.5 432.2,317.3 432.6,319.3 433.0,320.1 433.4,320.3 433.8,320.3 434.2,320.3 434.6,320.3 435.0,320.3 435.4,320.3 435.8,320.3 436.2,320.3 436.6,320.3 437.0,320.3 437.4,320.3 437.8,320.2 438.2,319.8 438.6,318.6 439.0,316.1 439.4,312.1 439.8,308.4 440.2,307.3 440.6,309.7 441.0,313.7 441.4,317.2 441.8,319.2 442.2,320.0 442.6,320.2 443.0,320.3 443.4,320.3 443.8,320.3 444.2,320.1 444.6,319.4 445.0,317.7 445.4,314.6 445.8,310.9 446.2,308.7 446.6,309.5 447.0,312.7 447.4,316.0 447.8,317.7 448.2,317.2 448.6,314.8 449.0,312.1 449.4,311.0 449.8,312.3 450.2,315.0 450.6,317.1 451.0,317.3 451.4,314.8 451.8,310.5 452.2,306.7 452.6,305.9 453.0,308.9 453.4,313.5 453.8,317.2 454.2,319.3 454.6,320.0 455.0,320.2 455.4,320.3 455.8,320.3 456.2,320.2 456.6,320.0 457.0,319.1 457.4,317.0 457.8,313.4 458.2,309.3 458.6,307.2 459.0,308.5 459.4,312.2 459.8,315.9 460.2,317.5 460.6,316.8 461.0,314.2 461.4,311.4 461.8,310.5 462.2,312.2 462.6,315.2 463.0,317.9 463.4,319.5 463.8,320.1 464.2,320.3 464.6,320.3 465.0,320.3 465.4,320.3 465.8,320.1 466.2,319.5 466.6,318.0 467.0,315.1 467.4,311.5 467.8,309.0 468.2,309.4 468.6,312.2 469.0,315.5 469.4,317.1 469.8,316.2 470.2,313.0 470.6,309.2 471.0,307.5 471.4,309.2 471.8,313.1 472.2,316.7 472.6,319.0 473.0,319.9 473.4,320.2 473.8,320.3 474.2,320.3 474.6,320.3 475.0,320.1 475.4,319.6 475.8,318.2 476.2,315.5 476.6,312.0 477.0,309.5 477.4,309.6 477.8,312.4 478.2,315.9 478.6,318.5 479.0,319.7 479.4,320.2 479.8,320.3 480.2,320.3 480.6,320.3 481.0,320.3 481.4,320.3 481.8,320.3 482.2,320.3 482.6,320.3 483.0,320.3 483.4,320.3 483.8,320.3 484.2,320.1 484.6,319.6 485.0,318.2 485.4,315.5 485.8,311.9 486.2,309.1 486.6,308.9 487.0,311.6 487.4,315.3 487.8,318.1 488.2,319.6 488.6,320.1 489.0,320.3 489.4,320.3 489.8,320.3 490.2,320.3 490.6,320.3 491.0,320.3 491.4,320.3 491.8,320.3 492.2,320.3 492.6,320.3 493.0,320.3 493.4,320.2 493.8,319.9 494.2,319.1 494.6,317.2 495.0,314.5 495.4,312.0 495.8,311.3 496.2,313.0 496.6,315.9 497.0,318.3 497.4,319.6 497.8,320.1 498.2,320.3 498.6,320.3 499.0,320.3 499.4,320.2 499.8,320.0 500.2,319.2 500.6,317.2 501.0,313.5 501.4,309.1 501.8,306.4 502.2,307.2 502.6,311.0 503.0,315.3 503.4,318.3 503.8,319.7 504.2,320.2 504.6,320.3 505.0,320.3 505.4,320.3 505.8,320.3 506.2,320.3 506.6,320.3 507.0,320.3 507.4,320.3 507.8,320.3 508.2,320.3 508.6,320.3 509.0,320.3 509.4,320.3" fill="none" stroke="#4a84d4" stroke-width="0.55" opacity="0.85"/>
<polyline points="383.0,320.3 383.4,320.3 383.8,320.3 384.2,320.3 384.6,320.3 385.0,320.3 385.4,320.2 385.8,319.7 386.2,318.3 386.6,315.5 387.0,311.6 387.4,308.4 387.8,308.1 388.2,310.9 388.6,314.9 389.0,317.9 389.4,319.5 389.8,320.1 390.2,320.3 390.6,320.3 391.0,320.3 391.4,320.3 391.8,320.3 392.2,320.3 392.6,320.3 393.0,320.3 393.4,320.3 393.8,320.3 394.2,320.3 394.6,320.2 395.0,319.8 395.4,318.7 395.8,316.3 396.2,312.7 396.6,309.5 397.0,308.7 397.4,311.0 397.8,314.6 398.2,317.7 398.6,319.4 399.0,320.1 399.4,320.3 399.8,320.3 400.2,320.3 400.6,320.3 401.0,320.3 401.4,320.3 401.8,320.3 402.2,320.3 402.6,320.3 403.0,320.3 403.4,320.3 403.8,320.3 404.2,320.3 404.6,320.3 405.0,320.3 405.4,320.3 405.8,320.3 406.2,320.3 406.6,320.3 407.0,320.2 407.4,319.8 407.8,318.5 408.2,316.0 408.6,312.5 409.0,309.6 409.4,309.2 409.8,311.6 410.2,315.0 410.6,317.3 411.0,317.1 411.4,314.6 411.8,311.0 412.2,308.6 412.6,309.1 413.0,312.3 413.4,316.0 413.8,318.5 414.2,319.8 414.6,320.2 415.0,320.3 415.4,320.3 415.8,320.3 416.2,320.3 416.6,320.3 417.0,320.3 417.4,320.3 417.8,320.3 418.2,320.3 418.6,320.3 419.0,320.3 419.4,320.3 419.8,320.3 420.2,320.3 420.6,320.3 421.0,320.3 421.4,320.3 421.8,320.3 422.2,320.3 422.6,320.3 423.0,320.2 423.4,320.0 423.8,319.7 424.2,319.4 424.6,319.3 425.0,319.4 425.4,319.8 425.8,320.0 426.2,320.2 426.6,320.3 427.0,320.3 427.4,320.3 427.8,320.3 428.2,320.3 428.6,320.3 429.0,320.3 429.4,320.3 429.8,320.3 430.2,320.3 430.6,320.3 431.0,320.3 431.4,320.3 431.8,320.3 432.2,320.3 432.6,320.3 433.0,320.3 433.4,320.3 433.8,320.3 434.2,320.3 434.6,320.2 435.0,320.0 435.4,319.1 435.8,316.9 436.2,313.2 436.6,309.1 437.0,307.1 437.4,308.5 437.8,312.4 438.2,316.3 438.6,318.8 439.0,319.9 439.4,320.2 439.8,320.3 440.2,320.3 440.6,320.3 441.0,320.3 441.4,320.3 441.8,320.3 442.2,320.3 442.6,320.3 443.0,320.3 443.4,320.3 443.8,320.3 444.2,320.3 444.6,320.3 445.0,320.3 445.4,320.3 445.8,320.3 446.2,320.3 446.6,320.3 447.0,320.3 447.4,320.3 447.8,320.3 448.2,320.3 448.6,320.3 449.0,320.3 449.4,320.3 449.8,320.3 450.2,320.3 450.6,320.3 451.0,320.3 451.4,320.3 451.8,320.3 452.2,320.3 452.6,320.3 453.0,320.3 453.4,320.3 453.8,320.3 454.2,320.3 454.6,320.3 455.0,320.3 455.4,320.3 455.8,320.3 456.2,320.3 456.6,320.3 457.0,320.2 457.4,319.9 457.8,319.4 458.2,318.8 458.6,318.4 459.0,318.5 459.4,319.0 459.8,319.6 460.2,320.0 460.6,320.1 461.0,319.9 461.4,319.5 461.8,319.1 462.2,318.9 462.6,319.2 463.0,319.6 463.4,320.0 463.8,320.2 464.2,320.3 464.6,320.3 465.0,320.3 465.4,320.3 465.8,320.3 466.2,320.3 466.6,320.3 467.0,320.3 467.4,320.3 467.8,320.3 468.2,320.3 468.6,320.3 469.0,320.3 469.4,320.3 469.8,320.3 470.2,320.3 470.6,320.3 471.0,320.3 471.4,320.3 471.8,320.2 472.2,319.7 472.6,318.4 473.0,315.4 473.4,311.1 473.8,307.3 474.2,306.4 474.6,309.2 475.0,313.6 475.4,317.3 475.8,319.3 476.2,320.0 476.6,320.2 477.0,320.3 477.4,320.3 477.8,320.3 478.2,320.3 478.6,320.3 479.0,320.3 479.4,320.3 479.8,320.3 480.2,320.3 480.6,320.3 481.0,320.2 481.4,319.8 481.8,318.7 482.2,316.0 482.6,311.9 483.0,307.8 483.4,306.4 483.8,308.6 484.2,312.9 484.6,316.8 485.0,319.0 485.4,320.0 485.8,320.2 486.2,320.3 486.6,320.3 487.0,320.3 487.4,320.3 487.8,320.3 488.2,320.3 488.6,320.3 489.0,320.3 489.4,320.3 489.8,320.3 490.2,320.2 490.6,320.0 491.0,319.2 491.4,317.2 491.8,313.9 492.2,310.4 492.6,308.7 493.0,310.1 493.4,313.5 493.8,316.7 494.2,318.5 494.6,319.0 495.0,319.0 495.4,319.2 495.8,319.5 496.2,319.9 496.6,320.1 497.0,320.2 497.4,320.3 497.8,320.3 498.2,320.3 498.6,320.3 499.0,320.3 499.4,320.3 499.8,320.3 500.2,320.3 500.6,320.3 501.0,320.3 501.4,320.3 501.8,320.3 502.2,320.3 502.6,320.3 503.0,320.3 503.4,320.3 503.8,320.3 504.2,320.3 504.6,320.3 505.0,320.3 505.4,320.3 505.8,320.3 506.2,320.3 506.6,320.3 507.0,320.3 507.4,320.3 507.8,320.3 508.2,320.3 508.6,320.3 509.0,320.3 509.4,320.3" fill="none" stroke="#1e1e1e" stroke-width="0.55" opacity="0.85"/>
<polyline points="383.0,319.1 383.4,317.3 383.8,314.4 384.2,311.5 384.6,310.6 385.0,312.2 385.4,315.2 385.8,317.9 386.2,319.5 386.6,320.1 387.0,320.3 387.4,320.3 387.8,320.3 388.2,320.3 388.6,320.3 389.0,320.3 389.4,320.3 389.8,320.3 390.2,320.3 390.6,320.3 391.0,320.3 391.4,320.3 391.8,320.3 392.2,320.3 392.6,320.3 393.0,320.3 393.4,320.3 393.8,320.3 394.2,320.3 394.6,320.3 395.0,320.3 395.4,320.3 395.8,320.3 396.2,320.3 396.6,320.3 397.0,320.3 397.4,320.3 397.8,320.3 398.2,320.3 398.6,320.3 399.0,320.3 399.4,320.3 399.8,320.3 400.2,320.3 400.6,320.3 401.0,320.3 401.4,320.3 401.8,320.3 402.2,320.3 402.6,320.3 403.0,320.3 403.4,320.3 403.8,320.3 404.2,320.3 404.6,320.3 405.0,320.3 405.4,320.3 405.8,320.3 406.2,320.3 406.6,320.3 407.0,320.3 407.4,320.3 407.8,320.3 408.2,320.3 408.6,320.3 409.0,320.3 409.4,320.3 409.8,320.3 410.2,320.3 410.6,320.3 411.0,320.3 411.4,320.3 411.8,320.3 412.2,320.3 412.6,320.3 413.0,320.3 413.4,320.3 413.8,320.3 414.2,320.3 414.6,320.3 415.0,320.3 415.4,320.3 415.8,320.3 416.2,320.3 416.6,320.3 417.0,320.3 417.4,320.3 417.8,320.3 418.2,320.3 418.6,320.3 419.0,320.3 419.4,320.3 419.8,320.3 420.2,320.3 420.6,320.3 421.0,320.3 421.4,320.3 421.8,320.3 422.2,320.3 422.6,320.1 423.0,319.6 423.4,318.3 423.8,315.9 424.2,313.1 424.6,311.5 425.0,312.2 425.4,314.7 425.8,317.4 426.2,319.1 426.6,320.0 427.0,320.2 427.4,320.3 427.8,320.3 428.2,320.3 428.6,320.3 429.0,320.3 429.4,320.3 429.8,320.3 430.2,320.3 430.6,320.3 431.0,320.3 431.4,320.3 431.8,320.3 432.2,320.3 432.6,320.3 433.0,320.3 433.4,320.3 433.8,320.3 434.2,320.3 434.6,320.3 435.0,320.3 435.4,320.3 435.8,320.3 436.2,320.3 436.6,320.3 437.0,320.3 437.4,320.3 437.8,320.3 438.2,320.3 438.6,320.1 439.0,319.9 439.4,319.5 439.8,319.0 440.2,318.8 440.6,319.0 441.0,319.3 441.4,319.0 441.8,317.6 442.2,314.4 442.6,310.3 443.0,307.4 443.4,307.7 443.8,311.0 444.2,315.1 444.6,318.0 445.0,319.4 445.4,319.7 445.8,319.6 446.2,319.5 446.6,319.6 447.0,319.9 447.4,320.1 447.8,320.2 448.2,320.3 448.6,320.3 449.0,320.3 449.4,320.3 449.8,320.3 450.2,320.3 450.6,320.3 451.0,320.3 451.4,320.3 451.8,320.3 452.2,320.3 452.6,320.3 453.0,320.3 453.4,320.1 453.8,319.6 454.2,318.1 454.6,315.2 455.0,311.5 455.4,308.9 455.8,309.2 456.2,312.2 456.6,315.8 457.0,318.4 457.4,319.7 457.8,320.2 458.2,320.3 458.6,320.3 459.0,320.3 459.4,320.3 459.8,320.3 460.2,320.3 460.6,320.3 461.0,320.3 461.4,320.3 461.8,320.3 462.2,320.3 462.6,320.3 463.0,320.3 463.4,320.3 463.8,320.3 464.2,320.3 464.6,320.3 465.0,320.3 465.4,320.3 465.8,320.3 466.2,320.3 466.6,320.3 467.0,320.3 467.4,320.3 467.8,320.3 468.2,320.3 468.6,320.3 469.0,320.3 469.4,320.3 469.8,320.3 470.2,320.3 470.6,320.3 471.0,320.3 471.4,320.3 471.8,320.3 472.2,320.3 472.6,320.3 473.0,320.3 473.4,320.3 473.8,320.3 474.2,320.3 474.6,320.3 475.0,320.3 475.4,320.3 475.8,320.3 476.2,320.3 476.6,320.3 477.0,320.3 477.4,320.3 477.8,320.2 478.2,320.0 478.6,319.1 479.0,316.8 479.4,312.9 479.8,308.4 480.2,306.0 480.6,307.3 481.0,311.4 481.4,315.7 481.8,318.5 482.2,319.8 482.6,320.2 483.0,320.3 483.4,320.3 483.8,320.3 484.2,320.3 484.6,320.3 485.0,320.3 485.4,320.3 485.8,320.3 486.2,320.3 486.6,320.3 487.0,320.3 487.4,320.3 487.8,320.3 488.2,320.3 488.6,320.3 489.0,320.3 489.4,320.3 489.8,320.3 490.2,320.3 490.6,320.3 491.0,320.3 491.4,320.3 491.8,320.3 492.2,320.3 492.6,320.3 493.0,320.3 493.4,320.3 493.8,320.3 494.2,320.3 494.6,320.3 495.0,320.3 495.4,320.3 495.8,320.3 496.2,320.3 496.6,320.1 497.0,319.7 497.4,318.3 497.8,315.7 498.2,312.2 498.6,309.6 499.0,309.7 499.4,312.3 499.8,315.8 500.2,318.4 500.6,319.7 501.0,320.2 501.4,320.3 501.8,320.3 502.2,320.3 502.6,320.3 503.0,320.3 503.4,320.3 503.8,320.3 504.2,320.3 504.6,320.3 505.0,320.3 505.4,320.3 505.8,320.2 506.2,319.7 506.6,318.5 507.0,315.9 507.4,312.2 507.8,309.1 508.2,308.7 508.6,311.2 509.0,314.9 509.4,317.9" fill="none" stroke="#d2403f" stroke-width="0.55" opacity="0.85"/>
<line x1="383.0" y1="320.6" x2="509.6" y2="320.6" stroke="#c04848" stroke-width="0.6"/>
<text x="383.0" y="331.6" font-size="3.7" textLength="125.1" lengthAdjust="spacing" fill="#6cb33f">TGCCGCCAGGACATCCAGCTCCCTCCACCGCTGCAGCTCAT</text>
<polyline points="383.0,347.1 383.4,346.8 383.8,346.4 384.2,345.9 384.6,345.6 385.0,345.8 385.4,346.2 385.8,346.7 386.2,347.0 386.6,347.1 387.0,347.2 387.4,347.2 387.8,347.2 388.2,347.2 388.6,347.2 389.0,347.2 389.4,347.2 389.8,347.2 390.2,347.2 390.6,347.2 391.0,347.2 391.4,347.2 391.8,347.1 392.2,346.9 392.6,346.4 393.0,345.8 393.4,345.4 393.8,345.4 394.2,345.9 394.6,346.4 395.0,346.9 395.4,347.1 395.8,347.2 396.2,347.2 396.6,347.2 397.0,347.2 397.4,347.2 397.8,347.2 398.2,347.2 398.6,347.2 399.0,347.2 399.4,347.2 399.8,347.2 400.2,347.2 400.6,347.2 401.0,347.2 401.4,347.2 401.8,347.2 402.2,347.2 402.6,347.2 403.0,347.2 403.4,347.2 403.8,347.1 404.2,346.8 404.6,345.8 405.0,343.5 405.4,339.9 405.8,336.3 406.2,335.0 406.6,336.9 407.0,340.7 407.4,344.1 407.8,346.1 408.2,346.9 408.6,347.1 409.0,347.2 409.4,347.2 409.8,347.2 410.2,347.2 410.6,347.2 411.0,347.2 411.4,347.2 411.8,347.2 412.2,347.2 412.6,347.2 413.0,347.2 413.4,347.0 413.8,346.3 414.2,344.8 414.6,342.2 415.0,339.4 415.4,338.1 415.8,339.2 416.2,341.9 416.6,344.5 417.0,346.2 417.4,346.9 417.8,347.1 418.2,347.2 418.6,347.2 419.0,347.2 419.4,347.0 419.8,346.4 420.2,344.7 420.6,341.3 421.0,336.8 421.4,333.4 421.8,333.4 422.2,336.8 422.6,341.3 423.0,344.7 423.4,346.4 423.8,347.0 424.2,347.2 424.6,347.2 425.0,347.2 425.4,347.2 425.8,347.1 426.2,346.8 426.6,346.2 427.0,345.4 427.4,344.8 427.8,344.9 428.2,345.5 428.6,346.2 429.0,346.8 429.4,347.1 429.8,347.2 430.2,347.2 430.6,347.2 431.0,347.2 431.4,347.2 431.8,347.0 432.2,346.4 432.6,344.7 433.0,341.5 433.4,337.5 433.8,334.8 434.2,335.3 434.6,338.5 435.0,342.5 435.4,345.3 435.8,346.6 436.2,347.1 436.6,347.2 437.0,347.2 437.4,347.2 437.8,347.2 438.2,347.2 438.6,347.2 439.0,347.2 439.4,347.2 439.8,347.2 440.2,347.2 440.6,347.2 441.0,347.2 441.4,347.2 441.8,347.2 442.2,347.2 442.6,347.2 443.0,347.2 443.4,347.2 443.8,347.2 444.2,347.2 444.6,347.2 445.0,347.2 445.4,347.2 445.8,347.2 446.2,347.2 446.6,347.2 447.0,347.2 447.4,347.2 447.8,347.2 448.2,347.2 448.6,347.2 449.0,347.2 449.4,347.2 449.8,347.2 450.2,347.2 450.6,347.2 451.0,347.2 451.4,347.2 451.8,347.2 452.2,347.2 452.6,347.2 453.0,347.2 453.4,347.2 453.8,347.2 454.2,347.2 454.6,347.2 455.0,347.2 455.4,347.2 455.8,347.2 456.2,347.2 456.6,347.2 457.0,347.2 457.4,347.2 457.8,347.2 458.2,347.2 458.6,347.2 459.0,347.2 459.4,347.2 459.8,347.2 460.2,347.2 460.6,347.2 461.0,347.2 461.4,347.2 461.8,347.2 462.2,347.2 462.6,347.0 463.0,346.5 463.4,345.0 463.8,341.8 464.2,337.5 464.6,334.1 465.0,333.9 465.4,337.0 465.8,341.3 466.2,344.6 466.6,346.4 467.0,347.0 467.4,347.2 467.8,347.2 468.2,347.2 468.6,347.2 469.0,347.2 469.4,347.2 469.8,347.2 470.2,347.2 470.6,347.2 471.0,347.2 471.4,347.2 471.8,347.2 472.2,347.2 472.6,347.2 473.0,347.2 473.4,347.2 473.8,347.2 474.2,347.2 474.6,347.2 475.0,347.2 475.4,347.2 475.8,347.2 476.2,347.2 476.6,347.2 477.0,347.2 477.4,347.2 477.8,347.2 478.2,347.2 478.6,347.2 479.0,347.2 479.4,347.2 479.8,347.2 480.2,347.2 480.6,347.2 481.0,347.2 481.4,347.2 481.8,347.2 482.2,347.2 482.6,347.2 483.0,347.2 483.4,347.2 483.8,347.2 484.2,347.2 484.6,347.2 485.0,347.2 485.4,347.2 485.8,347.2 486.2,347.2 486.6,347.2 487.0,347.2 487.4,347.0 487.8,346.3 488.2,344.6 488.6,341.4 489.0,337.5 489.4,334.9 489.8,335.5 490.2,338.8 490.6,342.7 491.0,345.4 491.4,346.6 491.8,346.8 492.2,346.6 492.6,346.2 493.0,345.8 493.4,345.9 493.8,346.2 494.2,346.6 494.6,347.0 495.0,347.1 495.4,347.2 495.8,347.2 496.2,347.2 496.6,347.2 497.0,347.2 497.4,347.2 497.8,347.2 498.2,347.2 498.6,347.2 499.0,347.2 499.4,347.2 499.8,347.2 500.2,347.2 500.6,347.2 501.0,347.2 501.4,347.2 501.8,347.2 502.2,347.2 502.6,347.1 503.0,346.8 503.4,346.0 503.8,343.9 504.2,340.6 504.6,337.4 505.0,336.1 505.4,337.8 505.8,341.2 506.2,344.3 506.6,346.2 507.0,346.9 507.4,347.1 507.8,347.2 508.2,347.2 508.6,347.2 509.0,347.2 509.4,347.2" fill="none" stroke="#6cb33f" stroke-width="0.55" opacity="0.85"/>
<polyline points="383.0,347.2 383.4,347.2 383.8,347.2 384.2,347.2 384.6,347.2 385.0,347.2 385.4,347.2 385.8,347.2 386.2,347.2 386.6,347.2 387.0,347.2 387.4,347.2 387.8,347.2 388.2,347.2 388.6,346.9 389.0,346.2 389.4,344.2 389.8,340.6 390.2,336.3 390.6,333.5 391.0,334.2 391.4,337.9 391.8,342.0 392.2,344.3 392.6,344.1 393.0,341.9 393.4,339.2 393.8,338.0 394.2,339.2 394.6,341.9 395.0,344.6 395.4,346.2 395.8,346.9 396.2,347.1 396.6,347.2 397.0,347.2 397.4,347.2 397.8,347.0 398.2,346.4 398.6,344.6 399.0,341.2 399.4,336.7 399.8,333.5 400.2,333.6 400.6,337.1 401.0,341.4 401.4,344.1 401.8,344.3 402.2,342.4 402.6,339.7 403.0,338.2 403.4,339.0 403.8,341.5 404.2,344.2 404.6,345.8 405.0,346.3 405.4,346.3 405.8,346.2 406.2,346.4 406.6,346.7 407.0,347.0 407.4,347.1 407.8,347.2 408.2,347.2 408.6,347.2 409.0,347.2 409.4,347.2 409.8,347.2 410.2,347.2 410.6,347.2 411.0,347.2 411.4,347.2 411.8,347.2 412.2,347.2 412.6,347.2 413.0,347.2 413.4,347.2 413.8,347.2 414.2,347.2 414.6,347.2 415.0,347.2 415.4,347.2 415.8,347.2 416.2,347.1 416.6,346.8 417.0,345.8 417.4,343.7 417.8,340.4 418.2,337.5 418.6,336.7 419.0,338.7 419.4,342.0 419.8,344.8 420.2,346.4 420.6,347.0 421.0,347.2 421.4,347.2 421.8,347.2 422.2,347.2 422.6,347.2 423.0,347.2 423.4,347.2 423.8,347.2 424.2,347.2 424.6,347.2 425.0,347.2 425.4,347.1 425.8,346.8 426.2,345.8 426.6,343.5 427.0,339.8 427.4,336.0 427.8,334.5 428.2,336.4 428.6,340.2 429.0,343.4 429.4,344.3 429.8,342.8 430.2,339.5 430.6,336.6 431.0,336.2 431.4,338.5 431.8,342.1 432.2,344.9 432.6,346.4 433.0,347.0 433.4,347.2 433.8,347.2 434.2,347.2 434.6,347.2 435.0,347.2 435.4,347.2 435.8,347.2 436.2,347.2 436.6,347.2 437.0,347.2 437.4,347.2 437.8,347.1 438.2,346.7 438.6,345.7 439.0,343.2 439.4,339.6 439.8,336.1 440.2,335.1 440.6,337.3 441.0,341.0 441.4,344.3 441.8,346.2 442.2,346.9 442.6,347.1 443.0,347.2 443.4,347.2 443.8,347.2 444.2,347.0 444.6,346.3 445.0,344.7 445.4,341.8 445.8,338.3 446.2,336.2 446.6,336.9 447.0,339.9 447.4,343.0 447.8,344.2 448.2,342.7 448.6,338.9 449.0,334.7 449.4,332.9 449.8,334.9 450.2,339.0 450.6,342.6 451.0,343.6 451.4,341.7 451.8,338.1 452.2,335.1 452.6,334.9 453.0,337.7 453.4,341.6 453.8,344.7 454.2,346.4 454.6,347.0 455.0,347.2 455.4,347.2 455.8,347.2 456.2,347.2 456.6,347.0 457.0,346.3 457.4,344.8 457.8,342.1 458.2,338.9 458.6,337.2 459.0,338.1 459.4,340.9 459.8,343.6 460.2,344.7 460.6,343.6 461.0,340.6 461.4,337.4 461.8,336.0 462.2,337.4 462.6,340.6 463.0,343.8 463.4,345.9 463.8,346.8 464.2,347.1 464.6,347.2 465.0,347.2 465.4,347.2 465.8,347.0 466.2,346.3 466.6,344.7 467.0,341.6 467.4,337.9 467.8,335.5 468.2,336.2 468.6,339.3 469.0,342.6 469.4,344.1 469.8,342.7 470.2,338.9 470.6,334.6 471.0,332.6 471.4,334.6 471.8,338.9 472.2,343.1 472.6,345.7 473.0,346.8 473.4,347.1 473.8,347.2 474.2,347.2 474.6,347.2 475.0,347.0 475.4,346.4 475.8,344.9 476.2,341.9 476.6,337.9 477.0,335.0 477.4,335.2 477.8,338.3 478.2,342.3 478.6,345.1 479.0,346.5 479.4,347.0 479.8,347.2 480.2,347.2 480.6,347.2 481.0,347.2 481.4,347.2 481.8,347.2 482.2,347.2 482.6,347.2 483.0,347.2 483.4,347.2 483.8,347.2 484.2,347.1 484.6,346.8 485.0,345.8 485.4,343.8 485.8,341.0 486.2,338.8 486.6,338.5 487.0,340.5 487.4,343.3 487.8,345.4 488.2,346.4 488.6,346.4 489.0,345.9 489.4,345.5 489.8,345.4 490.2,345.7 490.6,346.3 491.0,346.8 491.4,347.1 491.8,347.2 492.2,347.2 492.6,347.2 493.0,347.2 493.4,347.1 493.8,346.8 494.2,345.9 494.6,344.0 495.0,341.1 495.4,338.5 495.8,337.8 496.2,339.6 496.6,342.6 497.0,345.1 497.4,346.5 497.8,347.0 498.2,347.2 498.6,347.2 499.0,347.2 499.4,347.1 499.8,346.9 500.2,346.2 500.6,344.4 501.0,341.1 501.4,337.3 501.8,335.1 502.2,336.1 502.6,339.5 503.0,343.0 503.4,345.1 503.8,345.7 504.2,345.7 504.6,345.8 505.0,346.1 505.4,346.6 505.8,346.9 506.2,347.1 506.6,347.1 507.0,346.8 507.4,346.3 507.8,345.7 508.2,345.3 508.6,345.4 509.0,345.9 509.4,346.5" fill="none" stroke="#4a84d4" stroke-width="0.55" opacity="0.85"/>
<polyline points="383.0,347.2 383.4,347.2 383.8,347.2 384.2,347.2 384.6,347.2 385.0,347.2 385.4,347.0 385.8,346.5 386.2,345.1 386.6,342.2 387.0,338.2 387.4,334.9 387.8,334.7 388.2,337.5 388.6,341.6 389.0,344.8 389.4,346.4 389.8,347.0 390.2,347.2 390.6,347.2 391.0,347.2 391.4,347.2 391.8,347.2 392.2,347.2 392.6,347.2 393.0,347.2 393.4,347.2 393.8,347.2 394.2,347.2 394.6,347.1 395.0,346.6 395.4,345.3 395.8,342.3 396.2,338.0 396.6,334.1 397.0,333.1 397.4,335.9 397.8,340.3 398.2,344.1 398.6,346.1 399.0,346.9 399.4,347.1 399.8,347.2 400.2,347.2 400.6,347.2 401.0,347.2 401.4,347.2 401.8,347.2 402.2,347.2 402.6,347.2 403.0,347.2 403.4,347.2 403.8,347.2 404.2,347.2 404.6,347.2 405.0,347.2 405.4,347.2 405.8,347.2 406.2,347.2 406.6,347.2 407.0,347.1 407.4,346.6 407.8,345.4 408.2,342.7 408.6,339.0 409.0,336.0 409.4,335.6 409.8,338.1 410.2,341.7 410.6,343.9 411.0,343.4 411.4,340.3 411.8,335.9 412.2,332.9 412.6,333.6 413.0,337.4 413.4,341.7 413.8,344.5 414.2,345.4 414.6,345.1 415.0,344.7 415.4,344.8 415.8,345.5 416.2,346.3 416.6,346.8 417.0,347.1 417.4,347.2 417.8,347.2 418.2,347.2 418.6,347.2 419.0,347.2 419.4,347.2 419.8,347.2 420.2,347.2 420.6,347.2 421.0,347.2 421.4,347.2 421.8,347.2 422.2,347.2 422.6,347.2 423.0,347.2 423.4,347.2 423.8,347.2 424.2,347.2 424.6,347.2 425.0,347.2 425.4,347.2 425.8,347.2 426.2,347.2 426.6,347.2 427.0,347.2 427.4,347.2 427.8,347.2 428.2,347.2 428.6,347.2 429.0,347.1 429.4,347.0 429.8,346.7 430.2,346.2 430.6,345.8 431.0,345.7 431.4,346.0 431.8,346.5 432.2,346.9 432.6,347.1 433.0,347.2 433.4,347.2 433.8,347.2 434.2,347.2 434.6,347.1 435.0,346.9 435.4,346.2 435.8,344.5 436.2,341.5 436.6,338.3 437.0,336.7 437.4,337.8 437.8,340.9 438.2,344.0 438.6,346.0 439.0,346.9 439.4,347.1 439.8,347.2 440.2,347.2 440.6,347.2 441.0,347.2 441.4,347.2 441.8,347.2 442.2,347.2 442.6,347.2 443.0,347.2 443.4,347.2 443.8,347.2 444.2,347.2 444.6,347.2 445.0,347.2 445.4,347.2 445.8,347.2 446.2,347.2 446.6,347.2 447.0,347.2 447.4,347.2 447.8,347.2 448.2,347.2 448.6,347.2 449.0,347.2 449.4,347.2 449.8,347.2 450.2,347.2 450.6,347.2 451.0,347.2 451.4,347.2 451.8,347.2 452.2,347.2 452.6,347.2 453.0,347.2 453.4,347.2 453.8,347.1 454.2,347.0 454.6,346.7 455.0,346.2 455.4,345.8 455.8,345.6 456.2,345.9 456.6,346.4 457.0,346.8 457.4,347.1 457.8,347.2 458.2,347.2 458.6,347.2 459.0,347.2 459.4,347.2 459.8,347.2 460.2,347.2 460.6,347.2 461.0,347.2 461.4,347.2 461.8,347.2 462.2,347.2 462.6,347.2 463.0,347.2 463.4,347.2 463.8,347.2 464.2,347.2 464.6,347.2 465.0,347.2 465.4,347.2 465.8,347.2 466.2,347.2 466.6,347.2 467.0,347.2 467.4,347.2 467.8,347.2 468.2,347.2 468.6,347.2 469.0,347.2 469.4,347.2 469.8,347.2 470.2,347.2 470.6,347.2 471.0,347.2 471.4,347.2 471.8,347.1 472.2,346.7 472.6,345.6 473.0,343.2 473.4,339.7 473.8,336.5 474.2,335.8 474.6,338.1 475.0,341.7 475.4,344.7 475.8,346.3 476.2,347.0 476.6,347.2 477.0,347.2 477.4,347.2 477.8,347.2 478.2,347.2 478.6,347.2 479.0,347.2 479.4,347.2 479.8,347.2 480.2,347.2 480.6,347.2 481.0,347.1 481.4,346.8 481.8,345.8 482.2,343.4 482.6,339.8 483.0,336.2 483.4,334.9 483.8,336.9 484.2,340.7 484.6,344.1 485.0,346.1 485.4,346.9 485.8,347.1 486.2,347.2 486.6,347.2 487.0,347.2 487.4,347.2 487.8,347.2 488.2,347.2 488.6,347.2 489.0,347.2 489.4,347.2 489.8,347.2 490.2,347.1 490.6,346.9 491.0,345.9 491.4,343.8 491.8,340.1 492.2,336.2 492.6,334.4 493.0,335.9 493.4,339.7 493.8,343.5 494.2,345.7 494.6,346.5 495.0,346.6 495.4,346.4 495.8,346.3 496.2,346.5 496.6,346.8 497.0,347.0 497.4,347.1 497.8,347.2 498.2,347.2 498.6,347.2 499.0,347.2 499.4,347.2 499.8,347.2 500.2,347.2 500.6,347.2 501.0,347.2 501.4,347.2 501.8,347.2 502.2,347.2 502.6,347.2 503.0,347.2 503.4,347.2 503.8,347.2 504.2,347.2 504.6,347.2 505.0,347.2 505.4,347.2 505.8,347.2 506.2,347.2 506.6,347.2 507.0,347.2 507.4,347.2 507.8,347.2 508.2,347.2 508.6,347.2 509.0,347.2 509.4,347.2" fill="none" stroke="#1e1e1e" stroke-width="0.55" opacity="0.85"/>
<polyline points="383.0,345.5 383.4,342.7 383.8,338.4 384.2,334.3 384.6,332.9 385.0,335.3 385.4,339.7 385.8,343.7 386.2,345.9 386.6,346.9 387.0,347.1 387.4,347.2 387.8,347.2 388.2,347.2 388.6,347.2 389.0,347.2 389.4,347.2 389.8,347.2 390.2,347.2 390.6,347.2 391.0,347.2 391.4,347.2 391.8,347.2 392.2,347.2 392.6,347.2 393.0,347.2 393.4,347.2 393.8,347.2 394.2,347.2 394.6,347.2 395.0,347.2 395.4,347.2 395.8,347.2 396.2,347.2 396.6,347.2 397.0,347.2 397.4,347.2 397.8,347.2 398.2,347.2 398.6,347.2 399.0,347.2 399.4,347.2 399.8,347.2 400.2,347.2 400.6,347.2 401.0,347.2 401.4,347.2 401.8,347.2 402.2,347.2 402.6,347.2 403.0,347.2 403.4,347.2 403.8,347.2 404.2,347.2 404.6,347.2 405.0,347.2 405.4,347.2 405.8,347.2 406.2,347.2 406.6,347.2 407.0,347.2 407.4,347.2 407.8,347.2 408.2,347.2 408.6,347.2 409.0,347.2 409.4,347.2 409.8,347.2 410.2,347.2 410.6,347.2 411.0,347.2 411.4,347.2 411.8,347.2 412.2,347.2 412.6,347.2 413.0,347.2 413.4,347.2 413.8,347.2 414.2,347.2 414.6,347.2 415.0,347.2 415.4,347.2 415.8,347.2 416.2,347.2 416.6,347.2 417.0,347.2 417.4,347.2 417.8,347.2 418.2,347.2 418.6,347.2 419.0,347.2 419.4,347.2 419.8,347.2 420.2,347.2 420.6,347.2 421.0,347.2 421.4,347.2 421.8,347.2 422.2,347.2 422.6,347.0 423.0,346.4 423.4,345.0 423.8,342.4 424.2,339.4 424.6,337.7 425.0,338.4 425.4,341.1 425.8,344.0 426.2,346.0 426.6,346.8 427.0,347.1 427.4,347.2 427.8,347.2 428.2,347.2 428.6,347.2 429.0,347.2 429.4,347.2 429.8,347.2 430.2,347.2 430.6,347.2 431.0,347.2 431.4,347.2 431.8,347.2 432.2,347.2 432.6,347.2 433.0,347.2 433.4,347.2 433.8,347.2 434.2,347.2 434.6,347.2 435.0,347.2 435.4,347.2 435.8,347.2 436.2,347.2 436.6,347.2 437.0,347.2 437.4,347.2 437.8,347.2 438.2,347.2 438.6,347.1 439.0,346.8 439.4,346.3 439.8,345.5 440.2,344.9 440.6,344.8 441.0,345.2 441.4,345.4 441.8,344.4 442.2,341.7 442.6,337.8 443.0,334.8 443.4,334.9 443.8,338.0 444.2,342.0 444.6,345.0 445.0,346.5 445.4,347.0 445.8,347.2 446.2,347.2 446.6,347.2 447.0,347.2 447.4,347.2 447.8,347.2 448.2,347.2 448.6,347.2 449.0,347.2 449.4,347.2 449.8,347.2 450.2,347.2 450.6,347.2 451.0,347.2 451.4,347.2 451.8,347.2 452.2,347.2 452.6,347.2 453.0,347.2 453.4,347.0 453.8,346.5 454.2,345.1 454.6,342.5 455.0,339.1 455.4,336.7 455.8,336.9 456.2,339.7 456.6,343.0 457.0,345.5 457.4,346.7 457.8,347.1 458.2,347.2 458.6,347.2 459.0,347.2 459.4,347.2 459.8,347.2 460.2,347.2 460.6,347.2 461.0,347.2 461.4,347.2 461.8,347.2 462.2,347.2 462.6,347.2 463.0,347.2 463.4,347.2 463.8,347.2 464.2,347.2 464.6,347.2 465.0,347.2 465.4,347.2 465.8,347.2 466.2,347.2 466.6,347.2 467.0,347.2 467.4,347.2 467.8,347.2 468.2,347.2 468.6,347.2 469.0,347.2 469.4,347.2 469.8,347.2 470.2,347.2 470.6,347.2 471.0,347.2 471.4,347.2 471.8,347.2 472.2,347.2 472.6,347.2 473.0,347.2 473.4,347.2 473.8,347.2 474.2,347.2 474.6,347.2 475.0,347.2 475.4,347.2 475.8,347.2 476.2,347.2 476.6,347.2 477.0,347.2 477.4,347.2 477.8,347.1 478.2,346.9 478.6,346.1 479.0,344.0 479.4,340.3 479.8,336.2 480.2,333.9 480.6,335.1 481.0,338.9 481.4,342.9 481.8,345.6 482.2,346.7 482.6,347.1 483.0,347.2 483.4,347.2 483.8,347.2 484.2,347.2 484.6,347.2 485.0,347.2 485.4,347.2 485.8,347.2 486.2,347.2 486.6,347.2 487.0,347.2 487.4,347.2 487.8,347.2 488.2,347.2 488.6,347.2 489.0,347.2 489.4,347.2 489.8,347.2 490.2,347.2 490.6,347.2 491.0,347.2 491.4,347.2 491.8,347.2 492.2,347.2 492.6,347.2 493.0,347.2 493.4,347.2 493.8,347.2 494.2,347.2 494.6,347.2 495.0,347.2 495.4,347.2 495.8,347.2 496.2,347.2 496.6,347.1 497.0,346.7 497.4,345.6 497.8,343.5 498.2,340.7 498.6,338.6 499.0,338.6 499.4,340.8 499.8,343.6 500.2,345.7 500.6,346.7 501.0,347.1 501.4,347.2 501.8,347.2 502.2,347.2 502.6,347.2 503.0,347.2 503.4,347.2 503.8,347.2 504.2,347.2 504.6,347.2 505.0,347.2 505.4,347.2 505.8,347.1 506.2,346.6 506.6,345.1 507.0,342.1 507.4,337.8 507.8,334.3 508.2,333.7 508.6,336.7 509.0,341.0 509.4,344.4" fill="none" stroke="#d2403f" stroke-width="0.55" opacity="0.85"/>
<line x1="383.0" y1="347.5" x2="509.6" y2="347.5" stroke="#c04848" stroke-width="0.6"/>
<line x1="444.6" y1="162.0" x2="444.6" y2="52.5" stroke="#231f20" stroke-width="0.9"/>
<path d="M444.60,50.40 L446.10,53.00 L443.10,53.00 Z" fill="#231f20"/>
<line x1="438.6" y1="350.5" x2="438.6" y2="240.5" stroke="#231f20" stroke-width="0.9"/>
<path d="M438.60,238.40 L440.10,241.00 L437.10,241.00 Z" fill="#231f20"/>
<rect x="32.80" y="208.00" width="80.20" height="58.70" fill="#000"/>
<g filter="url(#b04)">
<line x1="34.5" y1="218.6" x2="46" y2="218.6" stroke="#5a5a5a" stroke-width="0.5"/>
<rect x="39.35" y="219.80" width="1.8" height="1.3" fill="#8a8a8a"/>
<line x1="47" y1="218.6" x2="60" y2="218.6" stroke="#5a5a5a" stroke-width="0.5"/>
<rect x="52.60" y="219.80" width="1.8" height="1.3" fill="#8a8a8a"/>
<line x1="61" y1="218.6" x2="73" y2="218.6" stroke="#5a5a5a" stroke-width="0.5"/>
<rect x="66.10" y="219.80" width="1.8" height="1.3" fill="#8a8a8a"/>
<line x1="87" y1="218.6" x2="98" y2="218.6" stroke="#5a5a5a" stroke-width="0.5"/>
<rect x="91.60" y="219.80" width="1.8" height="1.3" fill="#8a8a8a"/>
<line x1="100" y1="218.6" x2="111" y2="218.6" stroke="#5a5a5a" stroke-width="0.5"/>
<rect x="104.60" y="219.80" width="1.8" height="1.3" fill="#8a8a8a"/>
<line x1="34.5" y1="234.4" x2="44" y2="234.4" stroke="#5a5a5a" stroke-width="0.5"/>
<rect x="38.35" y="235.60" width="1.8" height="1.3" fill="#8a8a8a"/>
<line x1="45" y1="234.4" x2="56" y2="234.4" stroke="#5a5a5a" stroke-width="0.5"/>
<rect x="49.60" y="235.60" width="1.8" height="1.3" fill="#8a8a8a"/>
<line x1="57" y1="234.4" x2="67" y2="234.4" stroke="#5a5a5a" stroke-width="0.5"/>
<rect x="61.10" y="235.60" width="1.8" height="1.3" fill="#8a8a8a"/>
<line x1="68" y1="234.4" x2="78" y2="234.4" stroke="#5a5a5a" stroke-width="0.5"/>
<rect x="72.10" y="235.60" width="1.8" height="1.3" fill="#8a8a8a"/>
<line x1="79" y1="234.4" x2="89" y2="234.4" stroke="#5a5a5a" stroke-width="0.5"/>
<rect x="83.10" y="235.60" width="1.8" height="1.3" fill="#8a8a8a"/>
<line x1="90" y1="234.4" x2="100" y2="234.4" stroke="#5a5a5a" stroke-width="0.5"/>
<rect x="94.10" y="235.60" width="1.8" height="1.3" fill="#8a8a8a"/>
<line x1="101" y1="234.4" x2="111" y2="234.4" stroke="#5a5a5a" stroke-width="0.5"/>
<rect x="105.10" y="235.60" width="1.8" height="1.3" fill="#8a8a8a"/>
<line x1="34.5" y1="247.9" x2="44" y2="247.9" stroke="#5a5a5a" stroke-width="0.5"/>
<rect x="38.35" y="249.10" width="1.8" height="1.3" fill="#8a8a8a"/>
<line x1="45" y1="247.9" x2="55" y2="247.9" stroke="#5a5a5a" stroke-width="0.5"/>
<rect x="49.10" y="249.10" width="1.8" height="1.3" fill="#8a8a8a"/>
<line x1="56" y1="247.9" x2="66" y2="247.9" stroke="#5a5a5a" stroke-width="0.5"/>
<rect x="60.10" y="249.10" width="1.8" height="1.3" fill="#8a8a8a"/>
<line x1="79" y1="247.9" x2="89" y2="247.9" stroke="#5a5a5a" stroke-width="0.5"/>
<rect x="83.10" y="249.10" width="1.8" height="1.3" fill="#8a8a8a"/>
<line x1="90" y1="247.9" x2="100" y2="247.9" stroke="#5a5a5a" stroke-width="0.5"/>
<rect x="94.10" y="249.10" width="1.8" height="1.3" fill="#8a8a8a"/>
<line x1="101" y1="247.9" x2="111" y2="247.9" stroke="#5a5a5a" stroke-width="0.5"/>
<rect x="105.10" y="249.10" width="1.8" height="1.3" fill="#8a8a8a"/>
<line x1="34.5" y1="263.6" x2="44" y2="263.6" stroke="#5a5a5a" stroke-width="0.5"/>
<rect x="38.35" y="264.80" width="1.8" height="1.3" fill="#8a8a8a"/>
<line x1="45" y1="263.6" x2="55" y2="263.6" stroke="#5a5a5a" stroke-width="0.5"/>
<rect x="49.10" y="264.80" width="1.8" height="1.3" fill="#8a8a8a"/>
<line x1="63" y1="263.6" x2="72" y2="263.6" stroke="#5a5a5a" stroke-width="0.5"/>
<rect x="66.60" y="264.80" width="1.8" height="1.3" fill="#8a8a8a"/>
<line x1="74" y1="263.6" x2="84" y2="263.6" stroke="#5a5a5a" stroke-width="0.5"/>
<rect x="78.10" y="264.80" width="1.8" height="1.3" fill="#8a8a8a"/>
<line x1="88" y1="263.6" x2="102" y2="263.6" stroke="#5a5a5a" stroke-width="0.5"/>
<rect x="94.10" y="264.80" width="1.8" height="1.3" fill="#8a8a8a"/>
<line x1="103" y1="263.6" x2="111" y2="263.6" stroke="#5a5a5a" stroke-width="0.5"/>
<rect x="106.10" y="264.80" width="1.8" height="1.3" fill="#8a8a8a"/>
<path d="M38.42,209.80 C39.80,209.80 39.80,210.78 39.80,212.10 L39.18,213.49 L39.80,214.88 C39.80,217.34 39.80,218.00 38.42,218.00 C37.05,218.00 37.05,217.34 37.05,214.88 L37.67,213.49 L37.05,212.10 C37.05,210.78 37.05,209.80 38.42,209.80Z" fill="#f0e030"/>
<path d="M41.48,209.80 C42.85,209.80 42.85,210.78 42.85,212.10 L42.23,213.49 L42.85,214.88 C42.85,217.34 42.85,218.00 41.48,218.00 C40.10,218.00 40.10,217.34 40.10,214.88 L40.72,213.49 L40.10,212.10 C40.10,210.78 40.10,209.80 41.48,209.80Z" fill="#f0e030"/>
<path d="M50.52,210.20 C51.88,210.20 51.88,211.14 51.88,212.38 L51.27,213.71 L51.88,215.04 C51.88,217.38 51.88,218.00 50.52,218.00 C49.15,218.00 49.15,217.38 49.15,215.04 L49.77,213.71 L49.15,212.38 C49.15,211.14 49.15,210.20 50.52,210.20Z" fill="#98dde0"/>
<path d="M53.55,210.20 C54.91,210.20 54.91,211.14 54.91,212.38 L54.30,213.71 L54.91,215.04 C54.91,217.38 54.91,218.00 53.55,218.00 C52.18,218.00 52.18,217.38 52.18,215.04 L52.80,213.71 L52.18,212.38 C52.18,211.14 52.18,210.20 53.55,210.20Z" fill="#98dde0"/>
<path d="M56.58,210.20 C57.95,210.20 57.95,211.14 57.95,212.38 L57.33,213.71 L57.95,215.04 C57.95,217.38 57.95,218.00 56.58,218.00 C55.22,218.00 55.22,217.38 55.22,215.04 L55.83,213.71 L55.22,212.38 C55.22,211.14 55.22,210.20 56.58,210.20Z" fill="#98dde0"/>
<path d="M65.90,210.40 C67.07,210.40 67.07,211.31 67.07,212.53 L66.54,213.82 L67.07,215.11 C67.07,217.39 67.07,218.00 65.90,218.00 C64.73,218.00 64.73,217.39 64.73,215.11 L65.26,213.82 L64.73,212.53 C64.73,211.31 64.73,210.40 65.90,210.40Z" fill="#b040b0"/>
<path d="M68.50,210.40 C69.67,210.40 69.67,211.31 69.67,212.53 L69.14,213.82 L69.67,215.11 C69.67,217.39 69.67,218.00 68.50,218.00 C67.33,218.00 67.33,217.39 67.33,215.11 L67.86,213.82 L67.33,212.53 C67.33,211.31 67.33,210.40 68.50,210.40Z" fill="#b040b0"/>
<path d="M90.90,212.00 C92.16,212.00 92.16,212.72 92.16,213.68 L91.59,214.70 L92.16,215.72 C92.16,217.52 92.16,218.00 90.90,218.00 C89.64,218.00 89.64,217.52 89.64,215.72 L90.21,214.70 L89.64,213.68 C89.64,212.72 89.64,212.00 90.90,212.00Z" fill="#78cc40"/>
<path d="M93.70,212.00 C94.96,212.00 94.96,212.72 94.96,213.68 L94.39,214.70 L94.96,215.72 C94.96,217.52 94.96,218.00 93.70,218.00 C92.44,218.00 92.44,217.52 92.44,215.72 L93.01,214.70 L92.44,213.68 C92.44,212.72 92.44,212.00 93.70,212.00Z" fill="#78cc40"/>
<path d="M104.50,212.00 C105.58,212.00 105.58,212.72 105.58,213.68 L105.09,214.70 L105.58,215.72 C105.58,217.52 105.58,218.00 104.50,218.00 C103.42,218.00 103.42,217.52 103.42,215.72 L103.91,214.70 L103.42,213.68 C103.42,212.72 103.42,212.00 104.50,212.00Z" fill="#e02222"/>
<path d="M106.90,212.00 C107.98,212.00 107.98,212.72 107.98,213.68 L107.49,214.70 L107.98,215.72 C107.98,217.52 107.98,218.00 106.90,218.00 C105.82,218.00 105.82,217.52 105.82,215.72 L106.31,214.70 L105.82,213.68 C105.82,212.72 105.82,212.00 106.90,212.00Z" fill="#e02222"/>
<path d="M37.25,227.50 C38.38,227.50 38.38,228.22 38.38,229.18 L37.87,230.20 L38.38,231.22 C38.38,233.02 38.38,233.50 37.25,233.50 C36.12,233.50 36.12,233.02 36.12,231.22 L36.63,230.20 L36.12,229.18 C36.12,228.22 36.12,227.50 37.25,227.50Z" fill="#d8d830"/>
<path d="M39.75,227.50 C40.88,227.50 40.88,228.22 40.88,229.18 L40.37,230.20 L40.88,231.22 C40.88,233.02 40.88,233.50 39.75,233.50 C38.62,233.50 38.62,233.02 38.62,231.22 L39.13,230.20 L38.62,229.18 C38.62,228.22 38.62,227.50 39.75,227.50Z" fill="#d8d830"/>
<path d="M47.50,228.00 C48.85,228.00 48.85,228.66 48.85,229.54 L48.24,230.47 L48.85,231.41 C48.85,233.06 48.85,233.50 47.50,233.50 C46.15,233.50 46.15,233.06 46.15,231.41 L46.76,230.47 L46.15,229.54 C46.15,228.66 46.15,228.00 47.50,228.00Z" fill="#d08040"/>
<path d="M50.25,228.00 C51.38,228.00 51.38,228.66 51.38,229.54 L50.87,230.47 L51.38,231.41 C51.38,233.06 51.38,233.50 50.25,233.50 C49.12,233.50 49.12,233.06 49.12,231.41 L49.63,230.47 L49.12,229.54 C49.12,228.66 49.12,228.00 50.25,228.00Z" fill="#d06090"/>
<path d="M52.75,228.00 C53.88,228.00 53.88,228.66 53.88,229.54 L53.37,230.47 L53.88,231.41 C53.88,233.06 53.88,233.50 52.75,233.50 C51.62,233.50 51.62,233.06 51.62,231.41 L52.13,230.47 L51.62,229.54 C51.62,228.66 51.62,228.00 52.75,228.00Z" fill="#80b0c0"/>
<path d="M60.40,228.00 C61.66,228.00 61.66,228.66 61.66,229.54 L61.09,230.47 L61.66,231.41 C61.66,233.06 61.66,233.50 60.40,233.50 C59.14,233.50 59.14,233.06 59.14,231.41 L59.71,230.47 L59.14,229.54 C59.14,228.66 59.14,228.00 60.40,228.00Z" fill="#f08a20"/>
<path d="M62.90,228.00 C63.89,228.00 63.89,228.66 63.89,229.54 L63.44,230.47 L63.89,231.41 C63.89,233.06 63.89,233.50 62.90,233.50 C61.91,233.50 61.91,233.06 61.91,231.41 L62.36,230.47 L61.91,229.54 C61.91,228.66 61.91,228.00 62.90,228.00Z" fill="#6050c0"/>
<path d="M71.58,228.00 C72.54,228.00 72.54,228.66 72.54,229.54 L72.11,230.47 L72.54,231.41 C72.54,233.06 72.54,233.50 71.58,233.50 C70.61,233.50 70.61,233.06 70.61,231.41 L71.04,230.47 L70.61,229.54 C70.61,228.66 70.61,228.00 71.58,228.00Z" fill="#70c050"/>
<path d="M73.72,228.00 C74.69,228.00 74.69,228.66 74.69,229.54 L74.26,230.47 L74.69,231.41 C74.69,233.06 74.69,233.50 73.72,233.50 C72.76,233.50 72.76,233.06 72.76,231.41 L73.19,230.47 L72.76,229.54 C72.76,228.66 72.76,228.00 73.72,228.00Z" fill="#70c050"/>
<path d="M82.88,228.50 C83.93,228.50 83.93,229.10 83.93,229.90 L83.46,230.75 L83.93,231.60 C83.93,233.10 83.93,233.50 82.88,233.50 C81.82,233.50 81.82,233.10 81.82,231.60 L82.29,230.75 L81.82,229.90 C81.82,229.10 81.82,228.50 82.88,228.50Z" fill="#c8c890"/>
<path d="M85.23,228.50 C86.28,228.50 86.28,229.10 86.28,229.90 L85.81,230.75 L86.28,231.60 C86.28,233.10 86.28,233.50 85.23,233.50 C84.17,233.50 84.17,233.10 84.17,231.60 L84.64,230.75 L84.17,229.90 C84.17,229.10 84.17,228.50 85.23,228.50Z" fill="#c8c890"/>
<path d="M94.10,228.00 C95.18,228.00 95.18,228.66 95.18,229.54 L94.69,230.47 L95.18,231.41 C95.18,233.06 95.18,233.50 94.10,233.50 C93.02,233.50 93.02,233.06 93.02,231.41 L93.51,230.47 L93.02,229.54 C93.02,228.66 93.02,228.00 94.10,228.00Z" fill="#b030c0"/>
<path d="M96.50,228.00 C97.58,228.00 97.58,228.66 97.58,229.54 L97.09,230.47 L97.58,231.41 C97.58,233.06 97.58,233.50 96.50,233.50 C95.42,233.50 95.42,233.06 95.42,231.41 L95.91,230.47 L95.42,229.54 C95.42,228.66 95.42,228.00 96.50,228.00Z" fill="#b030c0"/>
<path d="M105.80,228.50 C106.88,228.50 106.88,229.10 106.88,229.90 L106.39,230.75 L106.88,231.60 C106.88,233.10 106.88,233.50 105.80,233.50 C104.72,233.50 104.72,233.10 104.72,231.60 L105.21,230.75 L104.72,229.90 C104.72,229.10 104.72,228.50 105.80,228.50Z" fill="#90d890"/>
<path d="M108.20,228.50 C109.28,228.50 109.28,229.10 109.28,229.90 L108.79,230.75 L109.28,231.60 C109.28,233.10 109.28,233.50 108.20,233.50 C107.12,233.50 107.12,233.10 107.12,231.60 L107.61,230.75 L107.12,229.90 C107.12,229.10 107.12,228.50 108.20,228.50Z" fill="#90d890"/>
<path d="M37.58,243.70 C38.54,243.70 38.54,244.13 38.54,244.71 L38.11,245.32 L38.54,245.93 C38.54,247.01 38.54,247.30 37.58,247.30 C36.61,247.30 36.61,247.01 36.61,245.93 L37.04,245.32 L36.61,244.71 C36.61,244.13 36.61,243.70 37.58,243.70Z" fill="#e8e0f0"/>
<path d="M39.72,243.70 C40.69,243.70 40.69,244.13 40.69,244.71 L40.26,245.32 L40.69,245.93 C40.69,247.01 40.69,247.30 39.72,247.30 C38.76,247.30 38.76,247.01 38.76,245.93 L39.19,245.32 L38.76,244.71 C38.76,244.13 38.76,243.70 39.72,243.70Z" fill="#e8e0f0"/>
<path d="M48.78,243.70 C49.74,243.70 49.74,244.13 49.74,244.71 L49.31,245.32 L49.74,245.93 C49.74,247.01 49.74,247.30 48.78,247.30 C47.81,247.30 47.81,247.01 47.81,245.93 L48.24,245.32 L47.81,244.71 C47.81,244.13 47.81,243.70 48.78,243.70Z" fill="#6a70d0"/>
<path d="M50.92,243.70 C51.89,243.70 51.89,244.13 51.89,244.71 L51.46,245.32 L51.89,245.93 C51.89,247.01 51.89,247.30 50.92,247.30 C49.96,247.30 49.96,247.01 49.96,245.93 L50.39,245.32 L49.96,244.71 C49.96,244.13 49.96,243.70 50.92,243.70Z" fill="#6a70d0"/>
<path d="M60.17,243.50 C61.23,243.50 61.23,243.96 61.23,244.56 L60.76,245.21 L61.23,245.86 C61.23,247.00 61.23,247.30 60.17,247.30 C59.12,247.30 59.12,247.00 59.12,245.86 L59.59,245.21 L59.12,244.56 C59.12,243.96 59.12,243.50 60.17,243.50Z" fill="#e020a0"/>
<path d="M62.53,243.50 C63.58,243.50 63.58,243.96 63.58,244.56 L63.11,245.21 L63.58,245.86 C63.58,247.00 63.58,247.30 62.53,247.30 C61.47,247.30 61.47,247.00 61.47,245.86 L61.94,245.21 L61.47,244.56 C61.47,243.96 61.47,243.50 62.53,243.50Z" fill="#e020a0"/>
<path d="M82.88,242.40 C83.93,242.40 83.93,243.01 83.93,243.83 L83.46,244.69 L83.93,245.56 C83.93,247.09 83.93,247.50 82.88,247.50 C81.82,247.50 81.82,247.09 81.82,245.56 L82.29,244.69 L81.82,243.83 C81.82,243.01 81.82,242.40 82.88,242.40Z" fill="#e8d020"/>
<path d="M85.23,242.40 C86.28,242.40 86.28,243.01 86.28,243.83 L85.81,244.69 L86.28,245.56 C86.28,247.09 86.28,247.50 85.23,247.50 C84.17,247.50 84.17,247.09 84.17,245.56 L84.64,244.69 L84.17,243.83 C84.17,243.01 84.17,242.40 85.23,242.40Z" fill="#e8d020"/>
<path d="M94.10,244.00 C95.18,244.00 95.18,244.40 95.18,244.92 L94.69,245.49 L95.18,246.05 C95.18,247.04 95.18,247.30 94.10,247.30 C93.02,247.30 93.02,247.04 93.02,246.05 L93.51,245.49 L93.02,244.92 C93.02,244.40 93.02,244.00 94.10,244.00Z" fill="#f0a0d0"/>
<path d="M96.50,244.00 C97.58,244.00 97.58,244.40 97.58,244.92 L97.09,245.49 L97.58,246.05 C97.58,247.04 97.58,247.30 96.50,247.30 C95.42,247.30 95.42,247.04 95.42,246.05 L95.91,245.49 L95.42,244.92 C95.42,244.40 95.42,244.00 96.50,244.00Z" fill="#f0a0d0"/>
<path d="M107.00,244.00 C107.99,244.00 107.99,244.40 107.99,244.92 L107.54,245.49 L107.99,246.05 C107.99,247.04 107.99,247.30 107.00,247.30 C106.01,247.30 106.01,247.04 106.01,246.05 L106.46,245.49 L106.01,244.92 C106.01,244.40 106.01,244.00 107.00,244.00Z" fill="#9030c0"/>
<path d="M37.88,260.30 C38.75,260.30 38.75,260.64 38.75,261.08 L38.36,261.56 L38.75,262.04 C38.75,262.88 38.75,263.10 37.88,263.10 C37.00,263.10 37.00,262.88 37.00,262.04 L37.39,261.56 L37.00,261.08 C37.00,260.64 37.00,260.30 37.88,260.30Z" fill="#c040c0"/>
<path d="M39.82,260.30 C40.70,260.30 40.70,260.64 40.70,261.08 L40.31,261.56 L40.70,262.04 C40.70,262.88 40.70,263.10 39.82,263.10 C38.95,263.10 38.95,262.88 38.95,262.04 L39.34,261.56 L38.95,261.08 C38.95,260.64 38.95,260.30 39.82,260.30Z" fill="#c040c0"/>
<path d="M49.90,260.00 C50.71,260.00 50.71,260.37 50.71,260.87 L50.35,261.39 L50.71,261.92 C50.71,262.85 50.71,263.10 49.90,263.10 C49.09,263.10 49.09,262.85 49.09,261.92 L49.45,261.39 L49.09,260.87 C49.09,260.37 49.09,260.00 49.90,260.00Z" fill="#e8e040"/>
<path d="M65.97,260.00 C66.85,260.00 66.85,260.37 66.85,260.87 L66.46,261.39 L66.85,261.92 C66.85,262.85 66.85,263.10 65.97,263.10 C65.10,263.10 65.10,262.85 65.10,261.92 L65.49,261.39 L65.10,260.87 C65.10,260.37 65.10,260.00 65.97,260.00Z" fill="#c0c8f0"/>
<path d="M67.93,260.00 C68.80,260.00 68.80,260.37 68.80,260.87 L68.41,261.39 L68.80,261.92 C68.80,262.85 68.80,263.10 67.93,263.10 C67.05,263.10 67.05,262.85 67.05,261.92 L67.44,261.39 L67.05,260.87 C67.05,260.37 67.05,260.00 67.93,260.00Z" fill="#c0c8f0"/>
<path d="M77.65,260.00 C78.33,260.00 78.33,260.37 78.33,260.87 L78.02,261.39 L78.33,261.92 C78.33,262.85 78.33,263.10 77.65,263.10 C76.98,263.10 76.98,262.85 76.98,261.92 L77.28,261.39 L76.98,260.87 C76.98,260.37 76.98,260.00 77.65,260.00Z" fill="#e02060"/>
<path d="M79.15,260.00 C79.83,260.00 79.83,260.37 79.83,260.87 L79.52,261.39 L79.83,261.92 C79.83,262.85 79.83,263.10 79.15,263.10 C78.48,263.10 78.48,262.85 78.48,261.92 L78.78,261.39 L78.48,260.87 C78.48,260.37 78.48,260.00 79.15,260.00Z" fill="#e02060"/>
<path d="M92.38,257.90 C93.81,257.90 93.81,258.52 93.81,259.36 L93.17,260.24 L93.81,261.12 C93.81,262.68 93.81,263.10 92.38,263.10 C90.96,263.10 90.96,262.68 90.96,261.12 L91.60,260.24 L90.96,259.36 C90.96,258.52 90.96,257.90 92.38,257.90Z" fill="#6090e0"/>
<path d="M95.55,257.90 C96.97,257.90 96.97,258.52 96.97,259.36 L96.33,260.24 L96.97,261.12 C96.97,262.68 96.97,263.10 95.55,263.10 C94.12,263.10 94.12,262.68 94.12,261.12 L94.77,260.24 L94.12,259.36 C94.12,258.52 94.12,257.90 95.55,257.90Z" fill="#6090e0"/>
<path d="M98.72,257.90 C100.14,257.90 100.14,258.52 100.14,259.36 L99.50,260.24 L100.14,261.12 C100.14,262.68 100.14,263.10 98.72,263.10 C97.29,263.10 97.29,262.68 97.29,261.12 L97.93,260.24 L97.29,259.36 C97.29,258.52 97.29,257.90 98.72,257.90Z" fill="#6090e0"/>
<line x1="64.6" y1="248.8" x2="68.5" y2="251.9" stroke="#d8c820" stroke-width="0.8"/>
<line x1="77.8" y1="241.5" x2="82" y2="244" stroke="#d8c820" stroke-width="0.8"/>
<circle cx="83" cy="242.5" r="0.8" fill="#e02090"/>
</g>
<rect x="194.50" y="210.90" width="64.10" height="61.10" fill="#f5f5f5"/>
<g filter="url(#b1)" opacity="0.55">
<line x1="223.52" y1="216.10" x2="225.08" y2="216.10" stroke="#c4c4c4" stroke-width="6" stroke-linecap="round"/>
<line x1="218.98" y1="220.15" x2="219.52" y2="225.45" stroke="#c4c4c4" stroke-width="6" stroke-linecap="round"/>
<line x1="214.42" y1="224.49" x2="215.98" y2="226.51" stroke="#c4c4c4" stroke-width="6" stroke-linecap="round"/>
<line x1="224.44" y1="223.80" x2="225.46" y2="225.90" stroke="#c4c4c4" stroke-width="6" stroke-linecap="round"/>
<line x1="232.99" y1="221.24" x2="237.21" y2="224.36" stroke="#c4c4c4" stroke-width="6" stroke-linecap="round"/>
<line x1="235.04" y1="217.68" x2="235.36" y2="218.22" stroke="#c4c4c4" stroke-width="6" stroke-linecap="round"/>
<line x1="240.86" y1="220.47" x2="243.44" y2="223.13" stroke="#c4c4c4" stroke-width="6" stroke-linecap="round"/>
<line x1="228.45" y1="227.10" x2="229.55" y2="229.20" stroke="#c4c4c4" stroke-width="6" stroke-linecap="round"/>
<line x1="205.57" y1="230.02" x2="206.03" y2="233.68" stroke="#c4c4c4" stroke-width="6" stroke-linecap="round"/>
<line x1="212.04" y1="233.44" x2="212.36" y2="233.76" stroke="#c4c4c4" stroke-width="6" stroke-linecap="round"/>
<line x1="223.29" y1="230.72" x2="225.31" y2="234.38" stroke="#c4c4c4" stroke-width="6" stroke-linecap="round"/>
<line x1="227.59" y1="232.35" x2="231.81" y2="233.45" stroke="#c4c4c4" stroke-width="6" stroke-linecap="round"/>
<line x1="234.29" y1="232.50" x2="238.51" y2="234.60" stroke="#c4c4c4" stroke-width="6" stroke-linecap="round"/>
<line x1="239.40" y1="226.24" x2="241.50" y2="231.46" stroke="#c4c4c4" stroke-width="6" stroke-linecap="round"/>
<line x1="243.40" y1="227.69" x2="245.50" y2="234.01" stroke="#c4c4c4" stroke-width="6" stroke-linecap="round"/>
<line x1="244.64" y1="234.51" x2="245.66" y2="236.69" stroke="#c4c4c4" stroke-width="6" stroke-linecap="round"/>
<line x1="221.36" y1="240.89" x2="223.94" y2="245.11" stroke="#c4c4c4" stroke-width="6" stroke-linecap="round"/>
<line x1="227.14" y1="235.64" x2="228.16" y2="240.86" stroke="#c4c4c4" stroke-width="6" stroke-linecap="round"/>
<line x1="238.63" y1="236.60" x2="240.27" y2="238.70" stroke="#c4c4c4" stroke-width="6" stroke-linecap="round"/>
<line x1="214.72" y1="240.67" x2="218.38" y2="243.33" stroke="#c4c4c4" stroke-width="6" stroke-linecap="round"/>
<line x1="224.44" y1="242.63" x2="225.46" y2="249.97" stroke="#c4c4c4" stroke-width="6" stroke-linecap="round"/>
<line x1="228.60" y1="242.97" x2="230.70" y2="247.73" stroke="#c4c4c4" stroke-width="6" stroke-linecap="round"/>
<line x1="235.15" y1="242.19" x2="236.25" y2="246.41" stroke="#c4c4c4" stroke-width="6" stroke-linecap="round"/>
<line x1="240.79" y1="240.60" x2="242.81" y2="242.70" stroke="#c4c4c4" stroke-width="6" stroke-linecap="round"/>
<line x1="217.64" y1="248.84" x2="222.86" y2="251.96" stroke="#c4c4c4" stroke-width="6" stroke-linecap="round"/>
<line x1="219.49" y1="253.94" x2="223.71" y2="254.96" stroke="#c4c4c4" stroke-width="6" stroke-linecap="round"/>
<line x1="232.69" y1="248.99" x2="234.71" y2="253.21" stroke="#c4c4c4" stroke-width="6" stroke-linecap="round"/>
<line x1="238.99" y1="251.31" x2="243.21" y2="253.49" stroke="#c4c4c4" stroke-width="6" stroke-linecap="round"/>
<line x1="239.54" y1="255.40" x2="242.66" y2="257.50" stroke="#c4c4c4" stroke-width="6" stroke-linecap="round"/>
<line x1="220.96" y1="256.94" x2="225.64" y2="260.06" stroke="#c4c4c4" stroke-width="6" stroke-linecap="round"/>
<line x1="232.62" y1="256.13" x2="234.18" y2="263.47" stroke="#c4c4c4" stroke-width="6" stroke-linecap="round"/>
<line x1="228.75" y1="260.94" x2="231.95" y2="264.06" stroke="#c4c4c4" stroke-width="6" stroke-linecap="round"/>
<line x1="224.07" y1="261.64" x2="224.53" y2="261.96" stroke="#c4c4c4" stroke-width="6" stroke-linecap="round"/>
<line x1="236.62" y1="260.80" x2="238.18" y2="262.90" stroke="#c4c4c4" stroke-width="6" stroke-linecap="round"/>
<line x1="231.22" y1="251.22" x2="232.78" y2="252.78" stroke="#c4c4c4" stroke-width="6" stroke-linecap="round"/>
<line x1="249.67" y1="255.04" x2="250.13" y2="255.36" stroke="#c4c4c4" stroke-width="6" stroke-linecap="round"/>
<line x1="217.04" y1="253.22" x2="218.06" y2="254.78" stroke="#c4c4c4" stroke-width="6" stroke-linecap="round"/>
<line x1="228.14" y1="250.84" x2="228.46" y2="251.16" stroke="#c4c4c4" stroke-width="6" stroke-linecap="round"/>
<line x1="209.66" y1="236.78" x2="210.84" y2="238.72" stroke="#c4c4c4" stroke-width="6" stroke-linecap="round"/>
<line x1="247.66" y1="244.38" x2="248.84" y2="247.12" stroke="#c4c4c4" stroke-width="6" stroke-linecap="round"/>
<line x1="246.16" y1="240.22" x2="247.34" y2="241.78" stroke="#c4c4c4" stroke-width="6" stroke-linecap="round"/>
</g>
<g filter="url(#b04)">
<line x1="223.52" y1="216.10" x2="225.08" y2="216.10" stroke="#767676" stroke-width="3.3" stroke-linecap="round"/>
<line x1="218.98" y1="220.15" x2="219.52" y2="225.45" stroke="#767676" stroke-width="3.3" stroke-linecap="round"/>
<line x1="218.05" y1="221.85" x2="220.24" y2="221.63" stroke="#3a3a3a" stroke-width="0.9" opacity="0.45"/>
<line x1="218.26" y1="223.97" x2="220.45" y2="223.75" stroke="#3a3a3a" stroke-width="0.9" opacity="0.45"/>
<line x1="214.42" y1="224.49" x2="215.98" y2="226.51" stroke="#767676" stroke-width="3.3" stroke-linecap="round"/>
<line x1="214.02" y1="225.77" x2="215.76" y2="224.42" stroke="#3a3a3a" stroke-width="0.9" opacity="0.45"/>
<line x1="214.64" y1="226.58" x2="216.38" y2="225.23" stroke="#3a3a3a" stroke-width="0.9" opacity="0.45"/>
<line x1="224.44" y1="223.80" x2="225.46" y2="225.90" stroke="#767676" stroke-width="3.3" stroke-linecap="round"/>
<line x1="232.99" y1="221.24" x2="237.21" y2="224.36" stroke="#555" stroke-width="3.3" stroke-linecap="round"/>
<line x1="233.60" y1="223.06" x2="234.91" y2="221.29" stroke="#3a3a3a" stroke-width="0.9" opacity="0.45"/>
<line x1="235.29" y1="224.31" x2="236.60" y2="222.54" stroke="#3a3a3a" stroke-width="0.9" opacity="0.45"/>
<line x1="235.04" y1="217.68" x2="235.36" y2="218.22" stroke="#767676" stroke-width="3.3" stroke-linecap="round"/>
<line x1="240.86" y1="220.47" x2="243.44" y2="223.13" stroke="#767676" stroke-width="3.3" stroke-linecap="round"/>
<line x1="240.85" y1="222.04" x2="242.42" y2="220.50" stroke="#3a3a3a" stroke-width="0.9" opacity="0.45"/>
<line x1="241.88" y1="223.10" x2="243.45" y2="221.56" stroke="#3a3a3a" stroke-width="0.9" opacity="0.45"/>
<line x1="228.45" y1="227.10" x2="229.55" y2="229.20" stroke="#767676" stroke-width="3.3" stroke-linecap="round"/>
<line x1="205.57" y1="230.02" x2="206.03" y2="233.68" stroke="#767676" stroke-width="3.3" stroke-linecap="round"/>
<line x1="204.62" y1="231.26" x2="206.80" y2="230.98" stroke="#3a3a3a" stroke-width="0.9" opacity="0.45"/>
<line x1="204.80" y1="232.72" x2="206.98" y2="232.44" stroke="#3a3a3a" stroke-width="0.9" opacity="0.45"/>
<line x1="212.04" y1="233.44" x2="212.36" y2="233.76" stroke="#767676" stroke-width="3.3" stroke-linecap="round"/>
<line x1="223.29" y1="230.72" x2="225.31" y2="234.38" stroke="#767676" stroke-width="3.3" stroke-linecap="round"/>
<line x1="222.93" y1="232.35" x2="224.86" y2="231.28" stroke="#3a3a3a" stroke-width="0.9" opacity="0.45"/>
<line x1="223.74" y1="233.82" x2="225.67" y2="232.75" stroke="#3a3a3a" stroke-width="0.9" opacity="0.45"/>
<line x1="227.59" y1="232.35" x2="231.81" y2="233.45" stroke="#767676" stroke-width="3.3" stroke-linecap="round"/>
<line x1="228.58" y1="233.75" x2="229.13" y2="231.62" stroke="#3a3a3a" stroke-width="0.9" opacity="0.45"/>
<line x1="230.27" y1="234.18" x2="230.82" y2="232.05" stroke="#3a3a3a" stroke-width="0.9" opacity="0.45"/>
<line x1="234.29" y1="232.50" x2="238.51" y2="234.60" stroke="#767676" stroke-width="3.3" stroke-linecap="round"/>
<line x1="235.07" y1="234.11" x2="236.05" y2="232.14" stroke="#3a3a3a" stroke-width="0.9" opacity="0.45"/>
<line x1="236.75" y1="234.96" x2="237.73" y2="232.99" stroke="#3a3a3a" stroke-width="0.9" opacity="0.45"/>
<line x1="239.40" y1="226.24" x2="241.50" y2="231.46" stroke="#767676" stroke-width="3.3" stroke-linecap="round"/>
<line x1="239.01" y1="228.22" x2="241.05" y2="227.39" stroke="#3a3a3a" stroke-width="0.9" opacity="0.45"/>
<line x1="239.85" y1="230.31" x2="241.89" y2="229.48" stroke="#3a3a3a" stroke-width="0.9" opacity="0.45"/>
<line x1="243.40" y1="227.69" x2="245.50" y2="234.01" stroke="#767676" stroke-width="3.3" stroke-linecap="round"/>
<line x1="242.99" y1="229.93" x2="245.07" y2="229.24" stroke="#3a3a3a" stroke-width="0.9" opacity="0.45"/>
<line x1="243.83" y1="232.46" x2="245.91" y2="231.77" stroke="#3a3a3a" stroke-width="0.9" opacity="0.45"/>
<line x1="244.64" y1="234.51" x2="245.66" y2="236.69" stroke="#767676" stroke-width="3.3" stroke-linecap="round"/>
<line x1="221.36" y1="240.89" x2="223.94" y2="245.11" stroke="#767676" stroke-width="3.3" stroke-linecap="round"/>
<line x1="221.20" y1="242.73" x2="223.07" y2="241.58" stroke="#3a3a3a" stroke-width="0.9" opacity="0.45"/>
<line x1="222.23" y1="244.42" x2="224.10" y2="243.27" stroke="#3a3a3a" stroke-width="0.9" opacity="0.45"/>
<line x1="227.14" y1="235.64" x2="228.16" y2="240.86" stroke="#767676" stroke-width="3.3" stroke-linecap="round"/>
<line x1="226.37" y1="237.41" x2="228.53" y2="237.00" stroke="#3a3a3a" stroke-width="0.9" opacity="0.45"/>
<line x1="226.77" y1="239.50" x2="228.93" y2="239.09" stroke="#3a3a3a" stroke-width="0.9" opacity="0.45"/>
<line x1="238.63" y1="236.60" x2="240.27" y2="238.70" stroke="#767676" stroke-width="3.3" stroke-linecap="round"/>
<line x1="238.25" y1="237.90" x2="239.99" y2="236.55" stroke="#3a3a3a" stroke-width="0.9" opacity="0.45"/>
<line x1="238.91" y1="238.75" x2="240.65" y2="237.40" stroke="#3a3a3a" stroke-width="0.9" opacity="0.45"/>
<line x1="214.72" y1="240.67" x2="218.38" y2="243.33" stroke="#767676" stroke-width="3.3" stroke-linecap="round"/>
<line x1="215.17" y1="242.36" x2="216.46" y2="240.58" stroke="#3a3a3a" stroke-width="0.9" opacity="0.45"/>
<line x1="216.64" y1="243.42" x2="217.93" y2="241.64" stroke="#3a3a3a" stroke-width="0.9" opacity="0.45"/>
<line x1="224.44" y1="242.63" x2="225.46" y2="249.97" stroke="#767676" stroke-width="3.3" stroke-linecap="round"/>
<line x1="223.66" y1="244.98" x2="225.84" y2="244.68" stroke="#3a3a3a" stroke-width="0.9" opacity="0.45"/>
<line x1="224.06" y1="247.92" x2="226.24" y2="247.62" stroke="#3a3a3a" stroke-width="0.9" opacity="0.45"/>
<line x1="228.60" y1="242.97" x2="230.70" y2="247.73" stroke="#767676" stroke-width="3.3" stroke-linecap="round"/>
<line x1="228.22" y1="244.84" x2="230.23" y2="243.95" stroke="#3a3a3a" stroke-width="0.9" opacity="0.45"/>
<line x1="229.07" y1="246.75" x2="231.08" y2="245.86" stroke="#3a3a3a" stroke-width="0.9" opacity="0.45"/>
<line x1="235.15" y1="242.19" x2="236.25" y2="246.41" stroke="#3a3a3a" stroke-width="3.3" stroke-linecap="round"/>
<line x1="234.42" y1="243.73" x2="236.55" y2="243.18" stroke="#3a3a3a" stroke-width="0.9" opacity="0.45"/>
<line x1="234.85" y1="245.42" x2="236.98" y2="244.87" stroke="#3a3a3a" stroke-width="0.9" opacity="0.45"/>
<line x1="240.79" y1="240.60" x2="242.81" y2="242.70" stroke="#555" stroke-width="3.3" stroke-linecap="round"/>
<line x1="240.60" y1="241.99" x2="242.19" y2="240.47" stroke="#3a3a3a" stroke-width="0.9" opacity="0.45"/>
<line x1="241.41" y1="242.83" x2="243.00" y2="241.31" stroke="#3a3a3a" stroke-width="0.9" opacity="0.45"/>
<line x1="217.64" y1="248.84" x2="222.86" y2="251.96" stroke="#767676" stroke-width="3.3" stroke-linecap="round"/>
<line x1="218.64" y1="250.72" x2="219.77" y2="248.83" stroke="#3a3a3a" stroke-width="0.9" opacity="0.45"/>
<line x1="220.73" y1="251.97" x2="221.86" y2="250.08" stroke="#3a3a3a" stroke-width="0.9" opacity="0.45"/>
<line x1="219.49" y1="253.94" x2="223.71" y2="254.96" stroke="#767676" stroke-width="3.3" stroke-linecap="round"/>
<line x1="220.50" y1="255.32" x2="221.02" y2="253.18" stroke="#3a3a3a" stroke-width="0.9" opacity="0.45"/>
<line x1="222.18" y1="255.72" x2="222.70" y2="253.58" stroke="#3a3a3a" stroke-width="0.9" opacity="0.45"/>
<line x1="232.69" y1="248.99" x2="234.71" y2="253.21" stroke="#767676" stroke-width="3.3" stroke-linecap="round"/>
<line x1="232.30" y1="250.73" x2="234.29" y2="249.78" stroke="#3a3a3a" stroke-width="0.9" opacity="0.45"/>
<line x1="233.11" y1="252.42" x2="235.10" y2="251.47" stroke="#3a3a3a" stroke-width="0.9" opacity="0.45"/>
<line x1="238.99" y1="251.31" x2="243.21" y2="253.49" stroke="#767676" stroke-width="3.3" stroke-linecap="round"/>
<line x1="239.75" y1="252.94" x2="240.76" y2="250.99" stroke="#3a3a3a" stroke-width="0.9" opacity="0.45"/>
<line x1="241.44" y1="253.81" x2="242.45" y2="251.86" stroke="#3a3a3a" stroke-width="0.9" opacity="0.45"/>
<line x1="239.54" y1="255.40" x2="242.66" y2="257.50" stroke="#767676" stroke-width="3.3" stroke-linecap="round"/>
<line x1="239.86" y1="256.94" x2="241.09" y2="255.12" stroke="#3a3a3a" stroke-width="0.9" opacity="0.45"/>
<line x1="241.11" y1="257.78" x2="242.34" y2="255.96" stroke="#3a3a3a" stroke-width="0.9" opacity="0.45"/>
<line x1="220.96" y1="256.94" x2="225.64" y2="260.06" stroke="#767676" stroke-width="3.3" stroke-linecap="round"/>
<line x1="221.75" y1="258.79" x2="222.97" y2="256.96" stroke="#3a3a3a" stroke-width="0.9" opacity="0.45"/>
<line x1="223.63" y1="260.04" x2="224.85" y2="258.21" stroke="#3a3a3a" stroke-width="0.9" opacity="0.45"/>
<line x1="232.62" y1="256.13" x2="234.18" y2="263.47" stroke="#767676" stroke-width="3.3" stroke-linecap="round"/>
<line x1="232.01" y1="258.56" x2="234.16" y2="258.10" stroke="#3a3a3a" stroke-width="0.9" opacity="0.45"/>
<line x1="232.64" y1="261.50" x2="234.79" y2="261.04" stroke="#3a3a3a" stroke-width="0.9" opacity="0.45"/>
<line x1="228.75" y1="260.94" x2="231.95" y2="264.06" stroke="#767676" stroke-width="3.3" stroke-linecap="round"/>
<line x1="228.94" y1="262.66" x2="230.48" y2="261.09" stroke="#3a3a3a" stroke-width="0.9" opacity="0.45"/>
<line x1="230.22" y1="263.91" x2="231.76" y2="262.34" stroke="#3a3a3a" stroke-width="0.9" opacity="0.45"/>
<line x1="224.07" y1="261.64" x2="224.53" y2="261.96" stroke="#767676" stroke-width="3.3" stroke-linecap="round"/>
<line x1="236.62" y1="260.80" x2="238.18" y2="262.90" stroke="#767676" stroke-width="3.3" stroke-linecap="round"/>
<line x1="236.20" y1="262.08" x2="237.97" y2="260.77" stroke="#3a3a3a" stroke-width="0.9" opacity="0.45"/>
<line x1="236.83" y1="262.93" x2="238.60" y2="261.62" stroke="#3a3a3a" stroke-width="0.9" opacity="0.45"/>
<line x1="231.22" y1="251.22" x2="232.78" y2="252.78" stroke="#767676" stroke-width="3.3" stroke-linecap="round"/>
<line x1="249.67" y1="255.04" x2="250.13" y2="255.36" stroke="#b5b5b5" stroke-width="3.3" stroke-linecap="round"/>
<line x1="217.04" y1="253.22" x2="218.06" y2="254.78" stroke="#767676" stroke-width="3.3" stroke-linecap="round"/>
<line x1="228.14" y1="250.84" x2="228.46" y2="251.16" stroke="#767676" stroke-width="3.3" stroke-linecap="round"/>
<line x1="209.66" y1="236.78" x2="210.84" y2="238.72" stroke="#767676" stroke-width="3.3" stroke-linecap="round"/>
<line x1="247.66" y1="244.38" x2="248.84" y2="247.12" stroke="#767676" stroke-width="3.3" stroke-linecap="round"/>
<line x1="247.00" y1="245.64" x2="249.03" y2="244.77" stroke="#3a3a3a" stroke-width="0.9" opacity="0.45"/>
<line x1="247.47" y1="246.73" x2="249.50" y2="245.86" stroke="#3a3a3a" stroke-width="0.9" opacity="0.45"/>
<line x1="246.16" y1="240.22" x2="247.34" y2="241.78" stroke="#767676" stroke-width="3.3" stroke-linecap="round"/>
</g>
<circle cx="212.2" cy="223.9" r="1.0" fill="#d02020"/>
<circle cx="221.3" cy="234.2" r="1.1" fill="#e0c020"/>
<circle cx="220.8" cy="234.6" r="0.7" fill="#e03010"/>
<circle cx="234.0" cy="239.2" r="1.1" fill="#80c030"/>
<circle cx="234.4" cy="239.6" r="0.7" fill="#e0c020"/>
<text x="169.0" y="228.8" font-size="8.6" textLength="26.0" lengthAdjust="spacingAndGlyphs" fill="#231f20" stroke="#231f20" stroke-width="0.24">der(16)</text>
<line x1="197.8" y1="225.6" x2="203.50325443866154" y2="225.34652202494837" stroke="#231f20" stroke-width="1.1"/>
<path d="M206.80,225.20 L203.09,227.37 L202.91,223.37 Z" fill="#231f20"/>
<text x="196.8" y="248.4" font-size="8.6" textLength="8.6" lengthAdjust="spacingAndGlyphs" fill="#231f20" stroke="#231f20" stroke-width="0.24">15</text>
<line x1="206.0" y1="243.2" x2="211.73274817989454" y2="239.93366673471124" stroke="#231f20" stroke-width="1.1"/>
<path d="M214.60,238.30 L212.29,241.92 L210.31,238.44 Z" fill="#231f20"/>
<text x="245.2" y="253.8" font-size="8.6" textLength="26.0" lengthAdjust="spacingAndGlyphs" fill="#231f20" stroke="#231f20" stroke-width="0.24">der(15)</text>
<line x1="246.0" y1="248.6" x2="239.79347543599457" y2="244.20661744345685" stroke="#231f20" stroke-width="1.1"/>
<path d="M237.10,242.30 L241.36,242.86 L239.05,246.13 Z" fill="#231f20"/>
<line x1="56.6" y1="310.8" x2="56.6" y2="371.4" stroke="#231f20" stroke-width="1.1"/>
<line x1="56.1" y1="371.2" x2="146.2" y2="371.2" stroke="#231f20" stroke-width="1.1"/>
<line x1="53.0" y1="313.5" x2="56.6" y2="313.5" stroke="#231f20" stroke-width="1"/>
<text x="46.6" y="317.1" font-size="7.3" text-anchor="end" textLength="16.8" lengthAdjust="spacingAndGlyphs" fill="#231f20" stroke="#231f20" stroke-width="0.24">4x10</text>
<text x="47.2" y="314.7" font-size="3.8" fill="#231f20" stroke="#231f20" stroke-width="0.1">6</text>
<line x1="53.0" y1="328.0" x2="56.6" y2="328.0" stroke="#231f20" stroke-width="1"/>
<text x="46.6" y="331.6" font-size="7.3" text-anchor="end" textLength="16.8" lengthAdjust="spacingAndGlyphs" fill="#231f20" stroke="#231f20" stroke-width="0.24">3x10</text>
<text x="47.2" y="329.2" font-size="3.8" fill="#231f20" stroke="#231f20" stroke-width="0.1">6</text>
<line x1="53.0" y1="342.4" x2="56.6" y2="342.4" stroke="#231f20" stroke-width="1"/>
<text x="46.6" y="346.0" font-size="7.3" text-anchor="end" textLength="16.8" lengthAdjust="spacingAndGlyphs" fill="#231f20" stroke="#231f20" stroke-width="0.24">2x10</text>
<text x="47.2" y="343.59999999999997" font-size="3.8" fill="#231f20" stroke="#231f20" stroke-width="0.1">6</text>
<line x1="53.0" y1="356.8" x2="56.6" y2="356.8" stroke="#231f20" stroke-width="1"/>
<text x="46.6" y="360.40000000000003" font-size="7.3" text-anchor="end" textLength="16.8" lengthAdjust="spacingAndGlyphs" fill="#231f20" stroke="#231f20" stroke-width="0.24">1x10</text>
<text x="47.2" y="358.0" font-size="3.8" fill="#231f20" stroke="#231f20" stroke-width="0.1">6</text>
<line x1="53.0" y1="371.2" x2="56.6" y2="371.2" stroke="#231f20" stroke-width="1"/>
<text x="49.6" y="373.8" font-size="7.6" text-anchor="end" fill="#231f20" stroke="#231f20" stroke-width="0.24">0</text>
<line x1="56.3" y1="371.2" x2="56.3" y2="374.5" stroke="#231f20" stroke-width="1"/>
<text x="56.3" y="384.0" font-size="7.8" text-anchor="middle" fill="#231f20" stroke="#231f20" stroke-width="0.24">0</text>
<line x1="78.1" y1="371.2" x2="78.1" y2="374.5" stroke="#231f20" stroke-width="1"/>
<text x="78.1" y="384.0" font-size="7.8" text-anchor="middle" fill="#231f20" stroke="#231f20" stroke-width="0.24">1</text>
<line x1="99.7" y1="371.2" x2="99.7" y2="374.5" stroke="#231f20" stroke-width="1"/>
<text x="99.7" y="384.0" font-size="7.8" text-anchor="middle" fill="#231f20" stroke="#231f20" stroke-width="0.24">2</text>
<line x1="121.5" y1="371.2" x2="121.5" y2="374.5" stroke="#231f20" stroke-width="1"/>
<text x="121.5" y="384.0" font-size="7.8" text-anchor="middle" fill="#231f20" stroke="#231f20" stroke-width="0.24">3</text>
<line x1="143.0" y1="371.2" x2="143.0" y2="374.5" stroke="#231f20" stroke-width="1"/>
<text x="143.0" y="384.0" font-size="7.8" text-anchor="middle" fill="#231f20" stroke="#231f20" stroke-width="0.24">4</text>
<text x="24.8" y="371.0" font-size="9.6" textLength="60.0" lengthAdjust="spacingAndGlyphs" transform="rotate(-90 24.8 371.0)" fill="#231f20" stroke="#231f20" stroke-width="0.24">Viable cells (#/ml)</text>
<text x="81.7" y="397.2" font-size="9.6" textLength="39.0" lengthAdjust="spacingAndGlyphs" fill="#231f20" stroke="#231f20" stroke-width="0.24">Time (days)</text>
<polyline points="56.3,370.6 78.1,370.5 99.7,370.8 121.5,370.9 143.0,370.9" fill="none" stroke="#2b4d8c" stroke-width="1.1"/>
<polyline points="56.3,370.3 78.1,369.7 99.7,367.4 121.5,350.8 143.0,328.0" fill="none" stroke="#b5163a" stroke-width="1.1"/>
<circle cx="56.3" cy="370.6" r="1.2" fill="#2b4d8c"/>
<circle cx="78.1" cy="370.5" r="1.2" fill="#2b4d8c"/>
<circle cx="99.7" cy="370.8" r="1.2" fill="#2b4d8c"/>
<circle cx="121.5" cy="370.9" r="1.2" fill="#2b4d8c"/>
<circle cx="143.0" cy="370.9" r="1.2" fill="#2b4d8c"/>
<rect x="55.099999999999994" y="369.1" width="2.4" height="2.4" fill="#b5163a"/>
<rect x="76.89999999999999" y="368.5" width="2.4" height="2.4" fill="#b5163a"/>
<rect x="98.5" y="366.2" width="2.4" height="2.4" fill="#b5163a"/>
<rect x="120.3" y="349.6" width="2.4" height="2.4" fill="#b5163a"/>
<rect x="141.8" y="326.8" width="2.4" height="2.4" fill="#b5163a"/>
<line x1="59.2" y1="317.8" x2="67.4" y2="317.8" stroke="#2b4d8c" stroke-width="1.1"/>
<circle cx="63.3" cy="317.8" r="1.2" fill="#2b4d8c"/>
<line x1="59.2" y1="330.0" x2="67.4" y2="330.0" stroke="#b5163a" stroke-width="1.1"/>
<rect x="62.1" y="328.8" width="2.4" height="2.4" fill="#b5163a"/>
<text x="70.7" y="320.6" font-size="8.6" textLength="71.3" lengthAdjust="spacingAndGlyphs" fill="#231f20" stroke="#231f20" stroke-width="0.24">Ba/F3 empty vector</text>
<text x="70.7" y="332.2" font-size="8.6" textLength="61.8" lengthAdjust="spacingAndGlyphs" fill="#231f20" stroke="#231f20" stroke-width="0.24">Ba/F3 RLTPR-FES</text>
<line x1="204.2" y1="309.6" x2="204.2" y2="371.6" stroke="#231f20" stroke-width="1.1"/>
<line x1="203.7" y1="371.2" x2="295.6" y2="371.2" stroke="#231f20" stroke-width="1.1"/>
<line x1="201.3" y1="311.9" x2="204.2" y2="311.9" stroke="#231f20" stroke-width="1"/>
<text x="197.6" y="315.0" font-size="7.4" text-anchor="end" fill="#231f20" stroke="#231f20" stroke-width="0.24">150</text>
<line x1="201.3" y1="331.7" x2="204.2" y2="331.7" stroke="#231f20" stroke-width="1"/>
<text x="197.6" y="334.8" font-size="7.4" text-anchor="end" fill="#231f20" stroke="#231f20" stroke-width="0.24">100</text>
<line x1="201.3" y1="351.7" x2="204.2" y2="351.7" stroke="#231f20" stroke-width="1"/>
<text x="197.6" y="354.8" font-size="7.4" text-anchor="end" fill="#231f20" stroke="#231f20" stroke-width="0.24">50</text>
<line x1="201.3" y1="371.2" x2="204.2" y2="371.2" stroke="#231f20" stroke-width="1"/>
<text x="197.6" y="374.3" font-size="7.4" text-anchor="end" fill="#231f20" stroke="#231f20" stroke-width="0.24">0</text>
<line x1="204.2" y1="371.2" x2="204.2" y2="374.4" stroke="#231f20" stroke-width="1"/>
<text x="204.2" y="384.0" font-size="7.8" text-anchor="middle" fill="#231f20" stroke="#231f20" stroke-width="0.24">0</text>
<line x1="226.6" y1="371.2" x2="226.6" y2="374.4" stroke="#231f20" stroke-width="1"/>
<text x="226.6" y="384.0" font-size="7.8" text-anchor="middle" fill="#231f20" stroke="#231f20" stroke-width="0.24">1</text>
<line x1="249.0" y1="371.2" x2="249.0" y2="374.4" stroke="#231f20" stroke-width="1"/>
<text x="249.0" y="384.0" font-size="7.8" text-anchor="middle" fill="#231f20" stroke="#231f20" stroke-width="0.24">2</text>
<line x1="271.4" y1="371.2" x2="271.4" y2="374.4" stroke="#231f20" stroke-width="1"/>
<text x="271.4" y="384.0" font-size="7.8" text-anchor="middle" fill="#231f20" stroke="#231f20" stroke-width="0.24">3</text>
<line x1="293.8" y1="371.2" x2="293.8" y2="374.4" stroke="#231f20" stroke-width="1"/>
<text x="293.8" y="384.0" font-size="7.8" text-anchor="middle" fill="#231f20" stroke="#231f20" stroke-width="0.24">4</text>
<text x="180.2" y="359.2" font-size="10.0" textLength="38.5" lengthAdjust="spacingAndGlyphs" transform="rotate(-90 180.2 359.2)" fill="#231f20" stroke="#231f20" stroke-width="0.24">Growth (%)</text>
<text x="213.6" y="396.7" font-size="9.6" textLength="72.7" lengthAdjust="spacingAndGlyphs" fill="#231f20" stroke="#231f20" stroke-width="0.24">log[NVP-TAE684], nM</text>
<path d="M204.2,328.6 C225,329.2 240,330 250,331.6 C258,333 264,336 271.4,342.2" fill="none" stroke="#2a4a8e" stroke-width="1.1"/>
<path d="M204.2,329.6 C212,329.8 218,330.2 221,332 C225,334.5 228,342 232,356 C235,366 238,370.5 244,371.0 L249,371.1" fill="none" stroke="#5db138" stroke-width="1.1"/>
<path d="M204.2,331.2 C225,331.2 245,331.2 252,331.8 C257,332.5 259,336 261,346 C263,358 265,368 268,370.8 L271.4,371.1" fill="none" stroke="#b8163e" stroke-width="1.2"/>
<line x1="204.2" y1="323.4" x2="204.2" y2="334" stroke="#5db138" stroke-width="0.9"/>
<line x1="203.0" y1="323.4" x2="205.39999999999998" y2="323.4" stroke="#5db138" stroke-width="0.8"/>
<line x1="203.0" y1="334" x2="205.39999999999998" y2="334" stroke="#5db138" stroke-width="0.8"/>
<line x1="219.6" y1="326.4" x2="219.6" y2="340.6" stroke="#5db138" stroke-width="0.9"/>
<line x1="218.4" y1="326.4" x2="220.79999999999998" y2="326.4" stroke="#5db138" stroke-width="0.8"/>
<line x1="218.4" y1="340.6" x2="220.79999999999998" y2="340.6" stroke="#5db138" stroke-width="0.8"/>
<line x1="219.6" y1="326.8" x2="219.6" y2="336.2" stroke="#b8163e" stroke-width="0.9"/>
<line x1="218.4" y1="326.8" x2="220.79999999999998" y2="326.8" stroke="#b8163e" stroke-width="0.8"/>
<line x1="218.4" y1="336.2" x2="220.79999999999998" y2="336.2" stroke="#b8163e" stroke-width="0.8"/>
<line x1="226.3" y1="333.4" x2="226.3" y2="343.0" stroke="#5db138" stroke-width="0.9"/>
<line x1="225.10000000000002" y1="333.4" x2="227.5" y2="333.4" stroke="#5db138" stroke-width="0.8"/>
<line x1="225.10000000000002" y1="343.0" x2="227.5" y2="343.0" stroke="#5db138" stroke-width="0.8"/>
<line x1="226.3" y1="329.2" x2="226.3" y2="333.8" stroke="#b8163e" stroke-width="0.9"/>
<line x1="225.10000000000002" y1="329.2" x2="227.5" y2="329.2" stroke="#b8163e" stroke-width="0.8"/>
<line x1="225.10000000000002" y1="333.8" x2="227.5" y2="333.8" stroke="#b8163e" stroke-width="0.8"/>
<line x1="242.0" y1="329.0" x2="242.0" y2="333.0" stroke="#2a4a8e" stroke-width="0.9"/>
<line x1="240.8" y1="329.0" x2="243.2" y2="329.0" stroke="#2a4a8e" stroke-width="0.8"/>
<line x1="240.8" y1="333.0" x2="243.2" y2="333.0" stroke="#2a4a8e" stroke-width="0.8"/>
<line x1="248.8" y1="331.0" x2="248.8" y2="335.0" stroke="#2a4a8e" stroke-width="0.9"/>
<line x1="247.60000000000002" y1="331.0" x2="250.0" y2="331.0" stroke="#2a4a8e" stroke-width="0.8"/>
<line x1="247.60000000000002" y1="335.0" x2="250.0" y2="335.0" stroke="#2a4a8e" stroke-width="0.8"/>
<line x1="248.8" y1="329.0" x2="248.8" y2="335.0" stroke="#b8163e" stroke-width="0.9"/>
<line x1="247.60000000000002" y1="329.0" x2="250.0" y2="329.0" stroke="#b8163e" stroke-width="0.8"/>
<line x1="247.60000000000002" y1="335.0" x2="250.0" y2="335.0" stroke="#b8163e" stroke-width="0.8"/>
<line x1="264.3" y1="357.0" x2="264.3" y2="369.0" stroke="#b8163e" stroke-width="0.9"/>
<line x1="263.1" y1="357.0" x2="265.5" y2="357.0" stroke="#b8163e" stroke-width="0.8"/>
<line x1="263.1" y1="369.0" x2="265.5" y2="369.0" stroke="#b8163e" stroke-width="0.8"/>
<line x1="226.3" y1="329.0" x2="226.3" y2="333.5" stroke="#2a4a8e" stroke-width="0.9"/>
<line x1="225.10000000000002" y1="329.0" x2="227.5" y2="329.0" stroke="#2a4a8e" stroke-width="0.8"/>
<line x1="225.10000000000002" y1="333.5" x2="227.5" y2="333.5" stroke="#2a4a8e" stroke-width="0.8"/>
<circle cx="204.2" cy="328.8" r="1.2" fill="#2a4a8e"/>
<circle cx="219.6" cy="330.0" r="1.2" fill="#2a4a8e"/>
<circle cx="226.3" cy="330.8" r="1.2" fill="#2a4a8e"/>
<circle cx="242.0" cy="331.0" r="1.2" fill="#2a4a8e"/>
<circle cx="248.8" cy="332.5" r="1.2" fill="#2a4a8e"/>
<circle cx="264.4" cy="334.0" r="1.2" fill="#2a4a8e"/>
<circle cx="271.2" cy="342.2" r="1.2" fill="#2a4a8e"/>
<rect x="203.1" y="326.4" width="2.2" height="2.2" fill="#5db138"/>
<rect x="218.5" y="330.5" width="2.2" height="2.2" fill="#5db138"/>
<rect x="225.20000000000002" y="336.09999999999997" width="2.2" height="2.2" fill="#5db138"/>
<rect x="240.20000000000002" y="369.9" width="2.2" height="2.2" fill="#5db138"/>
<rect x="247.6" y="369.9" width="2.2" height="2.2" fill="#5db138"/>
<rect x="262.7" y="369.9" width="2.2" height="2.2" fill="#5db138"/>
<path d="M204.2,333.4 L202.89999999999998,331.0 L205.5,331.0 Z" fill="#b8163e"/>
<path d="M219.6,332.9 L218.29999999999998,330.5 L220.9,330.5 Z" fill="#b8163e"/>
<path d="M226.3,332.9 L225.0,330.5 L227.60000000000002,330.5 Z" fill="#b8163e"/>
<path d="M242.0,332.59999999999997 L240.7,330.2 L243.3,330.2 Z" fill="#b8163e"/>
<path d="M248.8,333.59999999999997 L247.5,331.2 L250.10000000000002,331.2 Z" fill="#b8163e"/>
<path d="M264.3,362.9 L263.0,360.5 L265.6,360.5 Z" fill="#b8163e"/>
<path d="M270.0,372.4 L268.7,370.0 L271.3,370.0 Z" fill="#b8163e"/>
<line x1="263.5" y1="304.2" x2="271.2" y2="304.2" stroke="#2a4a8e" stroke-width="1.1"/>
<circle cx="267.4" cy="304.2" r="1.2" fill="#2a4a8e"/>
<line x1="263.5" y1="316.2" x2="271.2" y2="316.2" stroke="#5db138" stroke-width="1.1"/>
<rect x="266.3" y="315.1" width="2.2" height="2.2" fill="#5db138"/>
<line x1="263.5" y1="327.7" x2="271.2" y2="327.7" stroke="#b8163e" stroke-width="1.1"/>
<path d="M267.4,329.1 L266.1,326.7 L268.7,326.7 Z" fill="#b8163e"/>
<text x="274.6" y="307.0" font-size="8.6" textLength="71.3" lengthAdjust="spacingAndGlyphs" fill="#231f20" stroke="#231f20" stroke-width="0.24">Ba/F3 empty vector</text>
<text x="274.6" y="319.0" font-size="8.6" textLength="70.6" lengthAdjust="spacingAndGlyphs" fill="#231f20" stroke="#231f20" stroke-width="0.24">Ba/F3 SEC31A-ALK</text>
<text x="274.6" y="330.5" font-size="8.6" textLength="62.3" lengthAdjust="spacingAndGlyphs" fill="#231f20" stroke="#231f20" stroke-width="0.24">Ba/F3 RLTPR-FES</text>
<text x="94.2" y="435.1" font-size="8.0" textLength="48.1" lengthAdjust="spacingAndGlyphs" fill="#231f20" stroke="#231f20" stroke-width="0.24">Empty vector</text>
<text x="170.0" y="435.1" font-size="8.0" textLength="38.9" lengthAdjust="spacingAndGlyphs" fill="#231f20" stroke="#231f20" stroke-width="0.24">RLTPR-FES</text>
<line x1="83.4" y1="440.0" x2="152.8" y2="440.0" stroke="#6d6e70" stroke-width="1.5"/>
<line x1="154.9" y1="440.0" x2="224.3" y2="440.0" stroke="#6d6e70" stroke-width="1.5"/>
<text x="9.7" y="458.9" font-size="8.0" textLength="70.0" lengthAdjust="spacingAndGlyphs" fill="#231f20" stroke="#231f20" stroke-width="0.24">[NVP-TAE684] (nM)</text>
<text x="90.6" y="460.4" font-size="8.2" transform="rotate(-90 90.6 460.4)" fill="#231f20" stroke="#231f20" stroke-width="0.25">0</text>
<text x="101.1" y="460.4" font-size="8.2" transform="rotate(-90 101.1 460.4)" fill="#231f20" stroke="#231f20" stroke-width="0.25">1</text>
<text x="113.39999999999999" y="460.4" font-size="8.2" transform="rotate(-90 113.39999999999999 460.4)" fill="#231f20" stroke="#231f20" stroke-width="0.25">10</text>
<text x="124.89999999999999" y="460.4" font-size="8.2" transform="rotate(-90 124.89999999999999 460.4)" fill="#231f20" stroke="#231f20" stroke-width="0.25">100</text>
<text x="136.4" y="460.4" font-size="8.2" transform="rotate(-90 136.4 460.4)" fill="#231f20" stroke="#231f20" stroke-width="0.25">500</text>
<text x="148.79999999999998" y="460.4" font-size="8.2" transform="rotate(-90 148.79999999999998 460.4)" fill="#231f20" stroke="#231f20" stroke-width="0.25">1000</text>
<text x="161.1" y="460.4" font-size="8.2" transform="rotate(-90 161.1 460.4)" fill="#231f20" stroke="#231f20" stroke-width="0.25">0</text>
<text x="171.79999999999998" y="460.4" font-size="8.2" transform="rotate(-90 171.79999999999998 460.4)" fill="#231f20" stroke="#231f20" stroke-width="0.25">1</text>
<text x="184.1" y="460.4" font-size="8.2" transform="rotate(-90 184.1 460.4)" fill="#231f20" stroke="#231f20" stroke-width="0.25">10</text>
<text x="194.9" y="460.4" font-size="8.2" transform="rotate(-90 194.9 460.4)" fill="#231f20" stroke="#231f20" stroke-width="0.25">100</text>
<text x="207.2" y="460.4" font-size="8.2" transform="rotate(-90 207.2 460.4)" fill="#231f20" stroke="#231f20" stroke-width="0.25">500</text>
<text x="219.5" y="460.4" font-size="8.2" transform="rotate(-90 219.5 460.4)" fill="#231f20" stroke="#231f20" stroke-width="0.25">1000</text>
<path d="M84.6,477.2 L153.5,464.3 L153.5,477.2 Z" fill="#a50e2d"/>
<path d="M155.4,477.2 L224.6,464.3 L224.6,477.2 Z" fill="#a50e2d"/>
<text x="82.7" y="495.2" font-size="8.6" text-anchor="end" textLength="64.0" lengthAdjust="spacingAndGlyphs" fill="#231f20" stroke="#231f20" stroke-width="0.24">p-Tyr (RLTPR-FES)</text>
<text x="82.7" y="508.0" font-size="8.6" text-anchor="end" textLength="28.6" lengthAdjust="spacingAndGlyphs" fill="#231f20" stroke="#231f20" stroke-width="0.24">p-STAT3</text>
<text x="82.7" y="521.2" font-size="8.6" text-anchor="end" textLength="21.8" lengthAdjust="spacingAndGlyphs" fill="#231f20" stroke="#231f20" stroke-width="0.24">STAT3</text>
<text x="82.7" y="533.7" font-size="8.6" text-anchor="end" textLength="18.6" lengthAdjust="spacingAndGlyphs" fill="#231f20" stroke="#231f20" stroke-width="0.24">Actin</text>
<text x="82.7" y="547.5" font-size="8.6" text-anchor="end" textLength="28.6" lengthAdjust="spacingAndGlyphs" fill="#231f20" stroke="#231f20" stroke-width="0.24">p-STAT5</text>
<text x="82.7" y="560.6" font-size="8.6" text-anchor="end" textLength="21.8" lengthAdjust="spacingAndGlyphs" fill="#231f20" stroke="#231f20" stroke-width="0.24">STAT5</text>
<text x="82.7" y="573.5" font-size="8.6" text-anchor="end" textLength="22.0" lengthAdjust="spacingAndGlyphs" fill="#231f20" stroke="#231f20" stroke-width="0.24">p-AKT</text>
<text x="82.7" y="586.5" font-size="8.6" text-anchor="end" textLength="15.0" lengthAdjust="spacingAndGlyphs" fill="#231f20" stroke="#231f20" stroke-width="0.24">AKT</text>
<text x="82.7" y="599.4" font-size="8.6" text-anchor="end" textLength="18.6" lengthAdjust="spacingAndGlyphs" fill="#231f20" stroke="#231f20" stroke-width="0.24">Actin</text>
<g>
<rect x="85.80" y="487.40" width="134.20" height="9.80" fill="#909090"/>
<line x1="85.8" y1="487.7" x2="220.0" y2="487.7" stroke="#6a6a6a" stroke-width="0.6"/>
<rect x="152.51" y="488.50" width="10.37" height="1.40" rx="0.70" fill="#444" opacity="0.57" filter="url(#b04)"/>
<rect x="152.51" y="490.60" width="10.37" height="2.00" rx="1.00" fill="#1a1a1a" opacity="0.95" filter="url(#b04)"/>
<rect x="152.51" y="493.30" width="10.37" height="3.00" rx="1.50" fill="#151515" opacity="0.95" filter="url(#b04)"/>
<rect x="163.31" y="488.50" width="10.37" height="1.40" rx="0.70" fill="#444" opacity="0.57" filter="url(#b04)"/>
<rect x="163.31" y="490.60" width="10.37" height="2.00" rx="1.00" fill="#1a1a1a" opacity="0.95" filter="url(#b04)"/>
<rect x="163.31" y="493.30" width="10.37" height="3.00" rx="1.50" fill="#151515" opacity="0.95" filter="url(#b04)"/>
<rect x="174.01" y="488.50" width="10.37" height="1.40" rx="0.70" fill="#444" opacity="0.54" filter="url(#b04)"/>
<rect x="174.01" y="490.60" width="10.37" height="2.00" rx="1.00" fill="#1a1a1a" opacity="0.90" filter="url(#b04)"/>
<rect x="174.01" y="493.30" width="10.37" height="3.00" rx="1.50" fill="#151515" opacity="0.90" filter="url(#b04)"/>
<rect x="185.62" y="488.50" width="10.37" height="1.40" rx="0.70" fill="#444" opacity="0.51" filter="url(#b04)"/>
<rect x="185.62" y="490.60" width="10.37" height="2.00" rx="1.00" fill="#1a1a1a" opacity="0.85" filter="url(#b04)"/>
<rect x="185.62" y="493.30" width="10.37" height="3.00" rx="1.50" fill="#151515" opacity="0.85" filter="url(#b04)"/>
<rect x="196.31" y="488.50" width="10.37" height="1.40" rx="0.70" fill="#444" opacity="0.21" filter="url(#b04)"/>
<rect x="196.31" y="490.60" width="10.37" height="2.00" rx="1.00" fill="#1a1a1a" opacity="0.35" filter="url(#b04)"/>
<rect x="196.31" y="493.30" width="10.37" height="3.00" rx="1.50" fill="#151515" opacity="0.35" filter="url(#b04)"/>
<rect x="207.81" y="488.50" width="10.37" height="1.40" rx="0.70" fill="#444" opacity="0.06" filter="url(#b04)"/>
<rect x="207.81" y="490.60" width="10.37" height="2.00" rx="1.00" fill="#1a1a1a" opacity="0.10" filter="url(#b04)"/>
<rect x="207.81" y="493.30" width="10.37" height="3.00" rx="1.50" fill="#151515" opacity="0.10" filter="url(#b04)"/>
<line x1="163.2" y1="487.9" x2="163.2" y2="496.7" stroke="#4a4a4a" stroke-width="0.8"/>
<line x1="174.0" y1="487.9" x2="174.0" y2="496.7" stroke="#4a4a4a" stroke-width="0.8"/>
<line x1="184.7" y1="487.9" x2="184.7" y2="496.7" stroke="#4a4a4a" stroke-width="0.8"/>
<line x1="196.3" y1="487.9" x2="196.3" y2="496.7" stroke="#4a4a4a" stroke-width="0.8"/>
<rect x="85.80" y="500.80" width="134.20" height="10.00" fill="#a9a9a9"/>
<rect x="152.51" y="502.60" width="10.37" height="2.60" rx="1.30" fill="#151515" opacity="0.95" filter="url(#b04)"/>
<rect x="152.51" y="506.70" width="10.37" height="2.20" rx="1.10" fill="#151515" opacity="0.95" filter="url(#b04)"/>
<rect x="163.31" y="502.60" width="10.37" height="2.60" rx="1.30" fill="#151515" opacity="0.95" filter="url(#b04)"/>
<rect x="163.31" y="506.70" width="10.37" height="2.20" rx="1.10" fill="#151515" opacity="0.95" filter="url(#b04)"/>
<rect x="174.01" y="502.60" width="10.37" height="2.60" rx="1.30" fill="#151515" opacity="0.90" filter="url(#b04)"/>
<rect x="174.01" y="506.70" width="10.37" height="2.20" rx="1.10" fill="#151515" opacity="0.90" filter="url(#b04)"/>
<rect x="185.62" y="502.60" width="10.37" height="2.60" rx="1.30" fill="#151515" opacity="0.55" filter="url(#b04)"/>
<rect x="185.62" y="506.70" width="10.37" height="2.20" rx="1.10" fill="#151515" opacity="0.55" filter="url(#b04)"/>
<rect x="196.31" y="502.60" width="10.37" height="2.60" rx="1.30" fill="#151515" opacity="0.15" filter="url(#b04)"/>
<rect x="196.31" y="506.70" width="10.37" height="2.20" rx="1.10" fill="#151515" opacity="0.15" filter="url(#b04)"/>
<rect x="207.81" y="502.60" width="10.37" height="2.60" rx="1.30" fill="#151515" opacity="0.05" filter="url(#b04)"/>
<rect x="207.81" y="506.70" width="10.37" height="2.20" rx="1.10" fill="#151515" opacity="0.05" filter="url(#b04)"/>
<rect x="85.80" y="513.00" width="134.20" height="11.40" fill="#c0c0c0"/>
<rect x="85.50" y="518.20" width="10.60" height="2.80" rx="1.40" fill="#202020" opacity="0.60" filter="url(#b04)"/>
<rect x="97.70" y="518.20" width="10.60" height="2.80" rx="1.40" fill="#202020" opacity="0.55" filter="url(#b04)"/>
<rect x="109.30" y="518.20" width="10.60" height="2.80" rx="1.40" fill="#202020" opacity="0.50" filter="url(#b04)"/>
<rect x="120.70" y="518.20" width="10.60" height="2.80" rx="1.40" fill="#202020" opacity="0.60" filter="url(#b04)"/>
<rect x="131.70" y="518.20" width="10.60" height="2.80" rx="1.40" fill="#202020" opacity="0.65" filter="url(#b04)"/>
<rect x="142.40" y="518.20" width="10.60" height="2.80" rx="1.40" fill="#202020" opacity="0.55" filter="url(#b04)"/>
<rect x="152.40" y="518.20" width="10.60" height="2.80" rx="1.40" fill="#202020" opacity="0.80" filter="url(#b04)"/>
<rect x="163.20" y="518.20" width="10.60" height="2.80" rx="1.40" fill="#202020" opacity="0.80" filter="url(#b04)"/>
<rect x="173.90" y="518.20" width="10.60" height="2.80" rx="1.40" fill="#202020" opacity="0.70" filter="url(#b04)"/>
<rect x="185.50" y="518.20" width="10.60" height="2.80" rx="1.40" fill="#202020" opacity="0.85" filter="url(#b04)"/>
<rect x="196.20" y="516.40" width="10.60" height="2.80" rx="1.40" fill="#202020" opacity="0.95" filter="url(#b04)"/>
<rect x="207.70" y="516.40" width="10.60" height="2.80" rx="1.40" fill="#202020" opacity="0.90" filter="url(#b04)"/>
<rect x="85.80" y="527.00" width="134.20" height="10.00" fill="#b6b6b6"/>
<rect x="85.50" y="529.10" width="10.60" height="3.00" rx="1.50" fill="#1a1a1a" opacity="0.95" filter="url(#b04)"/>
<rect x="97.70" y="529.10" width="10.60" height="3.00" rx="1.50" fill="#1a1a1a" opacity="0.85" filter="url(#b04)"/>
<rect x="109.30" y="529.10" width="10.60" height="3.00" rx="1.50" fill="#1a1a1a" opacity="0.75" filter="url(#b04)"/>
<rect x="120.70" y="530.50" width="10.60" height="3.00" rx="1.50" fill="#1a1a1a" opacity="0.65" filter="url(#b04)"/>
<rect x="131.70" y="530.50" width="10.60" height="3.00" rx="1.50" fill="#1a1a1a" opacity="0.65" filter="url(#b04)"/>
<rect x="142.40" y="530.50" width="10.60" height="3.00" rx="1.50" fill="#1a1a1a" opacity="0.65" filter="url(#b04)"/>
<rect x="152.40" y="530.50" width="10.60" height="3.00" rx="1.50" fill="#1a1a1a" opacity="0.75" filter="url(#b04)"/>
<rect x="163.20" y="530.50" width="10.60" height="3.00" rx="1.50" fill="#1a1a1a" opacity="0.75" filter="url(#b04)"/>
<rect x="173.90" y="530.50" width="10.60" height="3.00" rx="1.50" fill="#1a1a1a" opacity="0.75" filter="url(#b04)"/>
<rect x="185.50" y="530.50" width="10.60" height="3.00" rx="1.50" fill="#1a1a1a" opacity="0.75" filter="url(#b04)"/>
<rect x="196.20" y="530.50" width="10.60" height="3.00" rx="1.50" fill="#1a1a1a" opacity="0.80" filter="url(#b04)"/>
<rect x="207.70" y="530.50" width="10.60" height="3.00" rx="1.50" fill="#1a1a1a" opacity="0.80" filter="url(#b04)"/>
<rect x="85.80" y="539.80" width="66.20" height="11.40" fill="#949494"/>
<rect x="153.40" y="539.80" width="66.60" height="11.40" fill="#8c8c8c"/>
<rect x="85.50" y="542.00" width="10.60" height="3.20" rx="1.50" fill="#121212" opacity="0.95" filter="url(#b04)"/>
<rect x="85.50" y="546.10" width="10.60" height="2.60" rx="1.30" fill="#666" opacity="0.50" filter="url(#b04)"/>
<rect x="97.70" y="542.00" width="10.60" height="3.20" rx="1.50" fill="#121212" opacity="0.95" filter="url(#b04)"/>
<rect x="97.70" y="546.10" width="10.60" height="2.60" rx="1.30" fill="#666" opacity="0.50" filter="url(#b04)"/>
<rect x="109.30" y="542.00" width="10.60" height="3.20" rx="1.50" fill="#121212" opacity="0.95" filter="url(#b04)"/>
<rect x="109.30" y="546.10" width="10.60" height="2.60" rx="1.30" fill="#666" opacity="0.50" filter="url(#b04)"/>
<rect x="120.70" y="542.00" width="10.60" height="3.20" rx="1.50" fill="#121212" opacity="0.95" filter="url(#b04)"/>
<rect x="120.70" y="546.10" width="10.60" height="2.60" rx="1.30" fill="#666" opacity="0.50" filter="url(#b04)"/>
<rect x="131.70" y="542.00" width="10.60" height="3.20" rx="1.50" fill="#121212" opacity="0.95" filter="url(#b04)"/>
<rect x="131.70" y="546.10" width="10.60" height="2.60" rx="1.30" fill="#666" opacity="0.50" filter="url(#b04)"/>
<rect x="142.40" y="542.00" width="10.60" height="3.20" rx="1.50" fill="#121212" opacity="0.95" filter="url(#b04)"/>
<rect x="142.40" y="546.10" width="10.60" height="2.60" rx="1.30" fill="#666" opacity="0.50" filter="url(#b04)"/>
<rect x="85.80" y="553.40" width="66.20" height="10.70" fill="#cdcdcd"/>
<rect x="153.40" y="553.40" width="66.60" height="10.70" fill="#d0d0d0"/>
<rect x="85.50" y="556.10" width="10.60" height="2.20" rx="1.10" fill="#151515" opacity="0.95" filter="url(#b04)"/>
<rect x="85.50" y="558.60" width="10.60" height="2.40" rx="1.20" fill="#888" opacity="0.38" filter="url(#b04)"/>
<rect x="97.70" y="556.10" width="10.60" height="2.20" rx="1.10" fill="#151515" opacity="0.90" filter="url(#b04)"/>
<rect x="97.70" y="558.60" width="10.60" height="2.40" rx="1.20" fill="#888" opacity="0.36" filter="url(#b04)"/>
<rect x="109.30" y="556.10" width="10.60" height="2.20" rx="1.10" fill="#151515" opacity="0.90" filter="url(#b04)"/>
<rect x="109.30" y="558.60" width="10.60" height="2.40" rx="1.20" fill="#888" opacity="0.36" filter="url(#b04)"/>
<rect x="120.70" y="556.10" width="10.60" height="2.20" rx="1.10" fill="#151515" opacity="0.90" filter="url(#b04)"/>
<rect x="120.70" y="558.60" width="10.60" height="2.40" rx="1.20" fill="#888" opacity="0.36" filter="url(#b04)"/>
<rect x="131.70" y="556.10" width="10.60" height="2.20" rx="1.10" fill="#151515" opacity="0.85" filter="url(#b04)"/>
<rect x="131.70" y="558.60" width="10.60" height="2.40" rx="1.20" fill="#888" opacity="0.34" filter="url(#b04)"/>
<rect x="142.40" y="556.10" width="10.60" height="2.20" rx="1.10" fill="#151515" opacity="0.60" filter="url(#b04)"/>
<rect x="142.40" y="558.60" width="10.60" height="2.40" rx="1.20" fill="#888" opacity="0.24" filter="url(#b04)"/>
<rect x="152.40" y="556.10" width="10.60" height="2.20" rx="1.10" fill="#151515" opacity="0.80" filter="url(#b04)"/>
<rect x="152.40" y="558.60" width="10.60" height="2.40" rx="1.20" fill="#888" opacity="0.32" filter="url(#b04)"/>
<rect x="163.20" y="556.10" width="10.60" height="2.20" rx="1.10" fill="#151515" opacity="0.85" filter="url(#b04)"/>
<rect x="163.20" y="558.60" width="10.60" height="2.40" rx="1.20" fill="#888" opacity="0.34" filter="url(#b04)"/>
<rect x="173.90" y="556.10" width="10.60" height="2.20" rx="1.10" fill="#151515" opacity="0.90" filter="url(#b04)"/>
<rect x="173.90" y="558.60" width="10.60" height="2.40" rx="1.20" fill="#888" opacity="0.36" filter="url(#b04)"/>
<rect x="185.50" y="556.10" width="10.60" height="2.20" rx="1.10" fill="#151515" opacity="0.90" filter="url(#b04)"/>
<rect x="185.50" y="558.60" width="10.60" height="2.40" rx="1.20" fill="#888" opacity="0.36" filter="url(#b04)"/>
<rect x="196.20" y="556.10" width="10.60" height="2.20" rx="1.10" fill="#151515" opacity="0.90" filter="url(#b04)"/>
<rect x="196.20" y="558.60" width="10.60" height="2.40" rx="1.20" fill="#888" opacity="0.36" filter="url(#b04)"/>
<rect x="207.70" y="556.10" width="10.60" height="2.20" rx="1.10" fill="#151515" opacity="0.85" filter="url(#b04)"/>
<rect x="207.70" y="558.60" width="10.60" height="2.40" rx="1.20" fill="#888" opacity="0.34" filter="url(#b04)"/>
<rect x="85.80" y="566.80" width="66.20" height="10.80" fill="#8d8d8d"/>
<rect x="153.40" y="566.80" width="66.60" height="10.80" fill="#8e8e8e"/>
<rect x="85.50" y="572.50" width="10.60" height="1.80" rx="0.90" fill="#d0d0d0" opacity="0.00" filter="url(#b04)"/>
<rect x="97.70" y="572.50" width="10.60" height="1.80" rx="0.90" fill="#d0d0d0" opacity="0.15" filter="url(#b04)"/>
<rect x="109.30" y="572.50" width="10.60" height="1.80" rx="0.90" fill="#d0d0d0" opacity="0.30" filter="url(#b04)"/>
<rect x="120.70" y="572.50" width="10.60" height="1.80" rx="0.90" fill="#d0d0d0" opacity="0.35" filter="url(#b04)"/>
<rect x="131.70" y="572.50" width="10.60" height="1.80" rx="0.90" fill="#d0d0d0" opacity="0.25" filter="url(#b04)"/>
<rect x="142.40" y="572.50" width="10.60" height="1.80" rx="0.90" fill="#d0d0d0" opacity="0.20" filter="url(#b04)"/>
<rect x="152.40" y="572.50" width="10.60" height="1.80" rx="0.90" fill="#d0d0d0" opacity="0.35" filter="url(#b04)"/>
<rect x="163.20" y="572.50" width="10.60" height="1.80" rx="0.90" fill="#d0d0d0" opacity="0.30" filter="url(#b04)"/>
<rect x="173.90" y="572.50" width="10.60" height="1.80" rx="0.90" fill="#d0d0d0" opacity="0.35" filter="url(#b04)"/>
<rect x="185.50" y="572.50" width="10.60" height="1.80" rx="0.90" fill="#d0d0d0" opacity="0.30" filter="url(#b04)"/>
<rect x="196.20" y="572.50" width="10.60" height="1.80" rx="0.90" fill="#d0d0d0" opacity="0.30" filter="url(#b04)"/>
<rect x="207.70" y="572.50" width="10.60" height="1.80" rx="0.90" fill="#d0d0d0" opacity="0.30" filter="url(#b04)"/>
<rect x="85.80" y="580.30" width="66.20" height="10.80" fill="#dadada"/>
<rect x="153.40" y="580.30" width="66.60" height="10.80" fill="#dcdcdc"/>
<rect x="85.50" y="584.70" width="10.60" height="1.80" rx="0.90" fill="#202020" opacity="0.70" filter="url(#b04)"/>
<rect x="97.70" y="584.70" width="10.60" height="1.80" rx="0.90" fill="#202020" opacity="0.75" filter="url(#b04)"/>
<rect x="109.30" y="584.70" width="10.60" height="1.80" rx="0.90" fill="#202020" opacity="0.80" filter="url(#b04)"/>
<rect x="120.70" y="584.70" width="10.60" height="1.80" rx="0.90" fill="#202020" opacity="0.75" filter="url(#b04)"/>
<rect x="131.70" y="584.70" width="10.60" height="1.80" rx="0.90" fill="#202020" opacity="0.75" filter="url(#b04)"/>
<rect x="142.40" y="584.70" width="10.60" height="1.80" rx="0.90" fill="#202020" opacity="0.75" filter="url(#b04)"/>
<rect x="152.40" y="584.70" width="10.60" height="1.80" rx="0.90" fill="#202020" opacity="0.75" filter="url(#b04)"/>
<rect x="163.20" y="584.70" width="10.60" height="1.80" rx="0.90" fill="#202020" opacity="0.65" filter="url(#b04)"/>
<rect x="173.90" y="584.70" width="10.60" height="1.80" rx="0.90" fill="#202020" opacity="0.65" filter="url(#b04)"/>
<rect x="185.50" y="584.70" width="10.60" height="1.80" rx="0.90" fill="#202020" opacity="0.60" filter="url(#b04)"/>
<rect x="196.20" y="584.70" width="10.60" height="1.80" rx="0.90" fill="#202020" opacity="0.55" filter="url(#b04)"/>
<rect x="207.70" y="584.70" width="10.60" height="1.80" rx="0.90" fill="#202020" opacity="0.35" filter="url(#b04)"/>
<rect x="85.80" y="593.40" width="66.20" height="11.00" fill="#939393"/>
<rect x="153.40" y="593.40" width="66.60" height="11.00" fill="#939393"/>
<rect x="85.50" y="597.10" width="10.60" height="3.00" rx="1.50" fill="#0c0c0c" opacity="0.95" filter="url(#b04)"/>
<rect x="97.70" y="597.10" width="10.60" height="3.00" rx="1.50" fill="#0c0c0c" opacity="0.95" filter="url(#b04)"/>
<rect x="109.30" y="597.10" width="10.60" height="3.00" rx="1.50" fill="#0c0c0c" opacity="0.95" filter="url(#b04)"/>
<rect x="120.70" y="597.10" width="10.60" height="3.00" rx="1.50" fill="#0c0c0c" opacity="0.95" filter="url(#b04)"/>
<rect x="131.70" y="597.10" width="10.60" height="3.00" rx="1.50" fill="#0c0c0c" opacity="0.95" filter="url(#b04)"/>
<rect x="142.40" y="597.10" width="10.60" height="3.00" rx="1.50" fill="#0c0c0c" opacity="0.95" filter="url(#b04)"/>
<rect x="152.40" y="597.10" width="10.60" height="3.00" rx="1.50" fill="#0c0c0c" opacity="0.95" filter="url(#b04)"/>
<rect x="163.20" y="597.10" width="10.60" height="3.00" rx="1.50" fill="#0c0c0c" opacity="0.95" filter="url(#b04)"/>
<rect x="173.90" y="597.10" width="10.60" height="3.00" rx="1.50" fill="#0c0c0c" opacity="0.95" filter="url(#b04)"/>
<rect x="185.50" y="597.10" width="10.60" height="3.00" rx="1.50" fill="#0c0c0c" opacity="0.95" filter="url(#b04)"/>
<rect x="196.20" y="597.10" width="10.60" height="3.00" rx="1.50" fill="#0c0c0c" opacity="0.95" filter="url(#b04)"/>
<rect x="207.70" y="597.10" width="10.60" height="3.00" rx="1.50" fill="#0c0c0c" opacity="0.95" filter="url(#b04)"/>
</g>
<rect x="252.90" y="430.30" width="43.10" height="8.00" fill="url(#zg)"/>
<line x1="252.9" y1="438.1" x2="296.0" y2="438.1" stroke="#111" stroke-width="0.6"/>
<line x1="258.2" y1="438.3" x2="258.2" y2="441.2" stroke="#222" stroke-width="0.9"/>
<text x="257.0" y="447.3" font-size="6.0" text-anchor="middle" fill="#231f20" stroke="#231f20" stroke-width="0.12">−2</text>
<line x1="266.3" y1="438.3" x2="266.3" y2="441.2" stroke="#222" stroke-width="0.9"/>
<text x="265.1" y="447.3" font-size="6.0" text-anchor="middle" fill="#231f20" stroke="#231f20" stroke-width="0.12">−1</text>
<line x1="274.5" y1="438.3" x2="274.5" y2="441.2" stroke="#222" stroke-width="0.9"/>
<text x="274.5" y="447.3" font-size="6.0" text-anchor="middle" fill="#231f20" stroke="#231f20" stroke-width="0.12">0</text>
<line x1="282.7" y1="438.3" x2="282.7" y2="441.2" stroke="#222" stroke-width="0.9"/>
<text x="282.7" y="447.3" font-size="6.0" text-anchor="middle" fill="#231f20" stroke="#231f20" stroke-width="0.12">1</text>
<line x1="290.9" y1="438.3" x2="290.9" y2="441.2" stroke="#222" stroke-width="0.9"/>
<text x="290.9" y="447.3" font-size="6.0" text-anchor="middle" fill="#231f20" stroke="#231f20" stroke-width="0.12">2</text>
<text x="259.1" y="456.6" font-size="7.6" textLength="30.8" lengthAdjust="spacingAndGlyphs" fill="#231f20" stroke="#231f20" stroke-width="0.15">Row z-score</text>
<g shape-rendering="crispEdges">
<rect x="299.60" y="455.80" width="141.90" height="127.20" fill="#000"/>
<path d="M299.60 471.70h4.76v1.35h-4.76zM304.33 458.45h4.76v1.35h-4.76zM318.52 536.62h4.76v1.35h-4.76zM332.71 500.85h4.76v1.35h-4.76zM346.90 541.92h4.76v1.35h-4.76zM356.36 461.10h4.76v1.35h-4.76zM356.36 467.73h4.76v1.35h-4.76zM356.36 496.88h4.76v1.35h-4.76zM356.36 504.82h4.76v1.35h-4.76zM356.36 507.48h4.76v1.35h-4.76zM356.36 522.05h4.76v1.35h-4.76zM356.36 552.52h4.76v1.35h-4.76zM361.09 475.68h4.76v1.35h-4.76zM361.09 483.62h4.76v1.35h-4.76zM361.09 487.60h4.76v1.35h-4.76zM361.09 507.48h4.76v1.35h-4.76zM365.82 572.40h4.76v1.35h-4.76zM375.28 498.20h4.76v1.35h-4.76zM384.74 518.08h4.76v1.35h-4.76zM394.20 461.10h4.76v1.35h-4.76zM394.20 467.73h4.76v1.35h-4.76zM394.20 469.05h4.76v1.35h-4.76zM394.20 494.23h4.76v1.35h-4.76zM394.20 495.55h4.76v1.35h-4.76zM398.93 462.43h4.76v1.35h-4.76zM403.66 462.43h4.76v1.35h-4.76zM408.39 466.40h4.76v1.35h-4.76zM413.12 494.23h4.76v1.35h-4.76zM436.77 467.73h4.76v1.35h-4.76z" fill="#242171"/>
<path d="M304.33 552.52h4.76v1.35h-4.76zM318.52 579.02h4.76v1.35h-4.76zM337.44 548.55h4.76v1.35h-4.76zM356.36 457.12h4.76v1.35h-4.76zM356.36 458.45h4.76v1.35h-4.76zM356.36 462.43h4.76v1.35h-4.76zM356.36 484.95h4.76v1.35h-4.76zM356.36 528.67h4.76v1.35h-4.76zM361.09 457.12h4.76v1.35h-4.76zM361.09 504.82h4.76v1.35h-4.76zM361.09 512.77h4.76v1.35h-4.76zM375.28 519.40h4.76v1.35h-4.76zM380.01 498.20h4.76v1.35h-4.76zM394.20 458.45h4.76v1.35h-4.76zM394.20 477.00h4.76v1.35h-4.76zM394.20 478.32h4.76v1.35h-4.76zM394.20 487.60h4.76v1.35h-4.76zM394.20 488.93h4.76v1.35h-4.76zM394.20 498.20h4.76v1.35h-4.76zM403.66 457.12h4.76v1.35h-4.76zM403.66 467.73h4.76v1.35h-4.76zM408.39 484.95h4.76v1.35h-4.76zM408.39 508.80h4.76v1.35h-4.76z" fill="#211e67"/>
<path d="M299.60 465.07h4.76v1.35h-4.76zM313.79 527.35h4.76v1.35h-4.76zM313.79 531.33h4.76v1.35h-4.76zM313.79 532.65h4.76v1.35h-4.76zM318.52 462.43h4.76v1.35h-4.76zM318.52 528.67h4.76v1.35h-4.76zM337.44 571.08h4.76v1.35h-4.76zM346.90 537.95h4.76v1.35h-4.76zM351.63 539.27h4.76v1.35h-4.76zM356.36 465.07h4.76v1.35h-4.76zM356.36 477.00h4.76v1.35h-4.76zM356.36 516.75h4.76v1.35h-4.76zM361.09 459.78h4.76v1.35h-4.76zM361.09 461.10h4.76v1.35h-4.76zM361.09 463.75h4.76v1.35h-4.76zM361.09 480.98h4.76v1.35h-4.76zM361.09 506.15h4.76v1.35h-4.76zM361.09 523.38h4.76v1.35h-4.76zM361.09 532.65h4.76v1.35h-4.76zM361.09 545.90h4.76v1.35h-4.76zM375.28 503.50h4.76v1.35h-4.76zM375.28 506.15h4.76v1.35h-4.76zM375.28 510.12h4.76v1.35h-4.76zM375.28 575.05h4.76v1.35h-4.76zM384.74 504.82h4.76v1.35h-4.76zM394.20 483.62h4.76v1.35h-4.76zM398.93 458.45h4.76v1.35h-4.76zM398.93 463.75h4.76v1.35h-4.76zM398.93 478.32h4.76v1.35h-4.76zM408.39 461.10h4.76v1.35h-4.76zM408.39 469.05h4.76v1.35h-4.76zM408.39 471.70h4.76v1.35h-4.76zM408.39 496.88h4.76v1.35h-4.76zM408.39 498.20h4.76v1.35h-4.76zM436.77 475.68h4.76v1.35h-4.76z" fill="#1e1b5e"/>
<path d="M299.60 475.68h4.76v1.35h-4.76zM304.33 477.00h4.76v1.35h-4.76zM304.33 547.23h4.76v1.35h-4.76zM309.06 465.07h4.76v1.35h-4.76zM309.06 475.68h4.76v1.35h-4.76zM309.06 483.62h4.76v1.35h-4.76zM313.79 541.92h4.76v1.35h-4.76zM332.71 548.55h4.76v1.35h-4.76zM337.44 528.67h4.76v1.35h-4.76zM337.44 537.95h4.76v1.35h-4.76zM337.44 551.20h4.76v1.35h-4.76zM356.36 479.65h4.76v1.35h-4.76zM356.36 498.20h4.76v1.35h-4.76zM356.36 500.85h4.76v1.35h-4.76zM356.36 508.80h4.76v1.35h-4.76zM356.36 520.73h4.76v1.35h-4.76zM361.09 462.43h4.76v1.35h-4.76zM361.09 467.73h4.76v1.35h-4.76zM361.09 498.20h4.76v1.35h-4.76zM361.09 500.85h4.76v1.35h-4.76zM365.82 474.35h4.76v1.35h-4.76zM365.82 498.20h4.76v1.35h-4.76zM370.55 567.10h4.76v1.35h-4.76zM375.28 579.02h4.76v1.35h-4.76zM380.01 499.53h4.76v1.35h-4.76zM380.01 564.45h4.76v1.35h-4.76zM384.74 502.18h4.76v1.35h-4.76zM389.47 498.20h4.76v1.35h-4.76zM389.47 516.75h4.76v1.35h-4.76zM398.93 461.10h4.76v1.35h-4.76zM398.93 477.00h4.76v1.35h-4.76zM398.93 488.93h4.76v1.35h-4.76zM398.93 492.90h4.76v1.35h-4.76zM403.66 483.62h4.76v1.35h-4.76zM403.66 499.53h4.76v1.35h-4.76zM408.39 465.07h4.76v1.35h-4.76zM408.39 492.90h4.76v1.35h-4.76zM408.39 495.55h4.76v1.35h-4.76zM408.39 522.05h4.76v1.35h-4.76zM417.85 462.43h4.76v1.35h-4.76z" fill="#1b1955"/>
<path d="M299.60 462.43h4.76v1.35h-4.76zM299.60 530.00h4.76v1.35h-4.76zM304.33 462.43h4.76v1.35h-4.76zM304.33 471.70h4.76v1.35h-4.76zM304.33 474.35h4.76v1.35h-4.76zM309.06 462.43h4.76v1.35h-4.76zM313.79 479.65h4.76v1.35h-4.76zM313.79 539.27h4.76v1.35h-4.76zM313.79 552.52h4.76v1.35h-4.76zM323.25 537.95h4.76v1.35h-4.76zM327.98 483.62h4.76v1.35h-4.76zM332.71 528.67h4.76v1.35h-4.76zM337.44 463.75h4.76v1.35h-4.76zM337.44 483.62h4.76v1.35h-4.76zM337.44 516.75h4.76v1.35h-4.76zM351.63 545.90h4.76v1.35h-4.76zM356.36 469.05h4.76v1.35h-4.76zM356.36 492.90h4.76v1.35h-4.76zM356.36 502.18h4.76v1.35h-4.76zM356.36 515.42h4.76v1.35h-4.76zM356.36 541.92h4.76v1.35h-4.76zM361.09 470.38h4.76v1.35h-4.76zM361.09 486.28h4.76v1.35h-4.76zM361.09 494.23h4.76v1.35h-4.76zM361.09 496.88h4.76v1.35h-4.76zM361.09 524.70h4.76v1.35h-4.76zM361.09 539.27h4.76v1.35h-4.76zM365.82 552.52h4.76v1.35h-4.76zM365.82 565.77h4.76v1.35h-4.76zM370.55 557.83h4.76v1.35h-4.76zM370.55 561.80h4.76v1.35h-4.76zM375.28 457.12h4.76v1.35h-4.76zM375.28 500.85h4.76v1.35h-4.76zM375.28 559.15h4.76v1.35h-4.76zM375.28 564.45h4.76v1.35h-4.76zM375.28 571.08h4.76v1.35h-4.76zM380.01 561.80h4.76v1.35h-4.76zM389.47 499.53h4.76v1.35h-4.76zM389.47 506.15h4.76v1.35h-4.76zM394.20 455.80h4.76v1.35h-4.76zM394.20 463.75h4.76v1.35h-4.76zM394.20 470.38h4.76v1.35h-4.76zM394.20 514.10h4.76v1.35h-4.76zM394.20 522.05h4.76v1.35h-4.76zM394.20 564.45h4.76v1.35h-4.76zM398.93 490.25h4.76v1.35h-4.76zM398.93 496.88h4.76v1.35h-4.76zM398.93 499.53h4.76v1.35h-4.76zM403.66 455.80h4.76v1.35h-4.76zM403.66 470.38h4.76v1.35h-4.76zM403.66 474.35h4.76v1.35h-4.76zM403.66 482.30h4.76v1.35h-4.76zM408.39 457.12h4.76v1.35h-4.76zM408.39 467.73h4.76v1.35h-4.76zM408.39 483.62h4.76v1.35h-4.76zM408.39 519.40h4.76v1.35h-4.76zM417.85 555.17h4.76v1.35h-4.76zM422.58 498.20h4.76v1.35h-4.76zM422.58 512.77h4.76v1.35h-4.76zM427.31 507.48h4.76v1.35h-4.76zM436.77 496.88h4.76v1.35h-4.76z" fill="#18164b"/>
<path d="M299.60 463.75h4.76v1.35h-4.76zM299.60 466.40h4.76v1.35h-4.76zM299.60 528.67h4.76v1.35h-4.76zM299.60 537.95h4.76v1.35h-4.76zM304.33 461.10h4.76v1.35h-4.76zM304.33 467.73h4.76v1.35h-4.76zM304.33 475.68h4.76v1.35h-4.76zM304.33 495.55h4.76v1.35h-4.76zM304.33 532.65h4.76v1.35h-4.76zM309.06 455.80h4.76v1.35h-4.76zM309.06 491.57h4.76v1.35h-4.76zM309.06 552.52h4.76v1.35h-4.76zM313.79 530.00h4.76v1.35h-4.76zM313.79 533.98h4.76v1.35h-4.76zM327.98 462.43h4.76v1.35h-4.76zM327.98 537.95h4.76v1.35h-4.76zM337.44 498.20h4.76v1.35h-4.76zM337.44 532.65h4.76v1.35h-4.76zM337.44 533.98h4.76v1.35h-4.76zM346.90 544.58h4.76v1.35h-4.76zM351.63 541.92h4.76v1.35h-4.76zM351.63 552.52h4.76v1.35h-4.76zM356.36 480.98h4.76v1.35h-4.76zM356.36 490.25h4.76v1.35h-4.76zM356.36 499.53h4.76v1.35h-4.76zM356.36 503.50h4.76v1.35h-4.76zM356.36 531.33h4.76v1.35h-4.76zM361.09 492.90h4.76v1.35h-4.76zM361.09 520.73h4.76v1.35h-4.76zM361.09 552.52h4.76v1.35h-4.76zM361.09 564.45h4.76v1.35h-4.76zM361.09 565.77h4.76v1.35h-4.76zM365.82 536.62h4.76v1.35h-4.76zM365.82 553.85h4.76v1.35h-4.76zM370.55 555.17h4.76v1.35h-4.76zM370.55 559.15h4.76v1.35h-4.76zM370.55 564.45h4.76v1.35h-4.76zM375.28 504.82h4.76v1.35h-4.76zM375.28 522.05h4.76v1.35h-4.76zM380.01 500.85h4.76v1.35h-4.76zM380.01 581.67h4.76v1.35h-4.76zM384.74 498.20h4.76v1.35h-4.76zM384.74 499.53h4.76v1.35h-4.76zM384.74 519.40h4.76v1.35h-4.76zM389.47 500.85h4.76v1.35h-4.76zM389.47 515.42h4.76v1.35h-4.76zM389.47 575.05h4.76v1.35h-4.76zM394.20 462.43h4.76v1.35h-4.76zM394.20 471.70h4.76v1.35h-4.76zM394.20 473.03h4.76v1.35h-4.76zM394.20 474.35h4.76v1.35h-4.76zM394.20 480.98h4.76v1.35h-4.76zM394.20 484.95h4.76v1.35h-4.76zM394.20 496.88h4.76v1.35h-4.76zM394.20 527.35h4.76v1.35h-4.76zM394.20 555.17h4.76v1.35h-4.76zM398.93 471.70h4.76v1.35h-4.76zM398.93 475.68h4.76v1.35h-4.76zM398.93 480.98h4.76v1.35h-4.76zM398.93 483.62h4.76v1.35h-4.76zM398.93 498.20h4.76v1.35h-4.76zM403.66 466.40h4.76v1.35h-4.76zM403.66 490.25h4.76v1.35h-4.76zM403.66 511.45h4.76v1.35h-4.76zM408.39 473.03h4.76v1.35h-4.76zM408.39 477.00h4.76v1.35h-4.76zM408.39 478.32h4.76v1.35h-4.76zM408.39 488.93h4.76v1.35h-4.76zM408.39 494.23h4.76v1.35h-4.76zM408.39 502.18h4.76v1.35h-4.76zM417.85 459.78h4.76v1.35h-4.76zM436.77 520.73h4.76v1.35h-4.76zM436.77 567.10h4.76v1.35h-4.76z" fill="#151342"/>
<path d="M299.60 457.12h4.76v1.35h-4.76zM299.60 459.78h4.76v1.35h-4.76zM299.60 480.98h4.76v1.35h-4.76zM299.60 488.93h4.76v1.35h-4.76zM299.60 491.57h4.76v1.35h-4.76zM299.60 535.30h4.76v1.35h-4.76zM304.33 455.80h4.76v1.35h-4.76zM304.33 465.07h4.76v1.35h-4.76zM304.33 470.38h4.76v1.35h-4.76zM304.33 473.03h4.76v1.35h-4.76zM304.33 487.60h4.76v1.35h-4.76zM304.33 527.35h4.76v1.35h-4.76zM304.33 530.00h4.76v1.35h-4.76zM304.33 531.33h4.76v1.35h-4.76zM304.33 539.27h4.76v1.35h-4.76zM304.33 541.92h4.76v1.35h-4.76zM304.33 543.25h4.76v1.35h-4.76zM304.33 548.55h4.76v1.35h-4.76zM309.06 461.10h4.76v1.35h-4.76zM309.06 473.03h4.76v1.35h-4.76zM309.06 536.62h4.76v1.35h-4.76zM309.06 541.92h4.76v1.35h-4.76zM313.79 536.62h4.76v1.35h-4.76zM313.79 537.95h4.76v1.35h-4.76zM313.79 544.58h4.76v1.35h-4.76zM313.79 545.90h4.76v1.35h-4.76zM318.52 463.75h4.76v1.35h-4.76zM318.52 466.40h4.76v1.35h-4.76zM318.52 527.35h4.76v1.35h-4.76zM318.52 555.17h4.76v1.35h-4.76zM318.52 564.45h4.76v1.35h-4.76zM323.25 541.92h4.76v1.35h-4.76zM323.25 551.20h4.76v1.35h-4.76zM323.25 580.35h4.76v1.35h-4.76zM327.98 488.93h4.76v1.35h-4.76zM327.98 494.23h4.76v1.35h-4.76zM327.98 507.48h4.76v1.35h-4.76zM327.98 547.23h4.76v1.35h-4.76zM332.71 502.18h4.76v1.35h-4.76zM337.44 465.07h4.76v1.35h-4.76zM337.44 500.85h4.76v1.35h-4.76zM337.44 527.35h4.76v1.35h-4.76zM337.44 531.33h4.76v1.35h-4.76zM337.44 541.92h4.76v1.35h-4.76zM342.17 511.45h4.76v1.35h-4.76zM342.17 528.67h4.76v1.35h-4.76zM346.90 527.35h4.76v1.35h-4.76zM346.90 539.27h4.76v1.35h-4.76zM356.36 459.78h4.76v1.35h-4.76zM356.36 473.03h4.76v1.35h-4.76zM356.36 482.30h4.76v1.35h-4.76zM356.36 526.02h4.76v1.35h-4.76zM356.36 532.65h4.76v1.35h-4.76zM356.36 533.98h4.76v1.35h-4.76zM361.09 455.80h4.76v1.35h-4.76zM361.09 469.05h4.76v1.35h-4.76zM361.09 471.70h4.76v1.35h-4.76zM361.09 479.65h4.76v1.35h-4.76zM361.09 482.30h4.76v1.35h-4.76zM361.09 484.95h4.76v1.35h-4.76zM361.09 490.25h4.76v1.35h-4.76zM361.09 516.75h4.76v1.35h-4.76zM361.09 518.08h4.76v1.35h-4.76zM361.09 526.02h4.76v1.35h-4.76zM361.09 541.92h4.76v1.35h-4.76zM365.82 559.15h4.76v1.35h-4.76zM365.82 567.10h4.76v1.35h-4.76zM370.55 553.85h4.76v1.35h-4.76zM375.28 502.18h4.76v1.35h-4.76zM375.28 511.45h4.76v1.35h-4.76zM375.28 555.17h4.76v1.35h-4.76zM375.28 580.35h4.76v1.35h-4.76zM380.01 518.08h4.76v1.35h-4.76zM380.01 522.05h4.76v1.35h-4.76zM380.01 523.38h4.76v1.35h-4.76zM389.47 507.48h4.76v1.35h-4.76zM389.47 522.05h4.76v1.35h-4.76zM394.20 457.12h4.76v1.35h-4.76zM394.20 482.30h4.76v1.35h-4.76zM394.20 492.90h4.76v1.35h-4.76zM394.20 519.40h4.76v1.35h-4.76zM398.93 457.12h4.76v1.35h-4.76zM398.93 465.07h4.76v1.35h-4.76zM398.93 467.73h4.76v1.35h-4.76zM398.93 500.85h4.76v1.35h-4.76zM398.93 514.10h4.76v1.35h-4.76zM398.93 516.75h4.76v1.35h-4.76zM398.93 564.45h4.76v1.35h-4.76zM403.66 469.05h4.76v1.35h-4.76zM403.66 473.03h4.76v1.35h-4.76zM403.66 500.85h4.76v1.35h-4.76zM403.66 519.40h4.76v1.35h-4.76zM408.39 455.80h4.76v1.35h-4.76zM408.39 479.65h4.76v1.35h-4.76zM408.39 480.98h4.76v1.35h-4.76zM417.85 463.75h4.76v1.35h-4.76zM417.85 469.05h4.76v1.35h-4.76zM417.85 474.35h4.76v1.35h-4.76zM417.85 498.20h4.76v1.35h-4.76zM422.58 507.48h4.76v1.35h-4.76zM432.04 457.12h4.76v1.35h-4.76zM436.77 498.20h4.76v1.35h-4.76zM436.77 552.52h4.76v1.35h-4.76z" fill="#121038"/>
<path d="M299.60 474.35h4.76v1.35h-4.76zM299.60 541.92h4.76v1.35h-4.76zM299.60 545.90h4.76v1.35h-4.76zM299.60 547.23h4.76v1.35h-4.76zM304.33 482.30h4.76v1.35h-4.76zM304.33 496.88h4.76v1.35h-4.76zM304.33 553.85h4.76v1.35h-4.76zM309.06 466.40h4.76v1.35h-4.76zM309.06 530.00h4.76v1.35h-4.76zM309.06 564.45h4.76v1.35h-4.76zM313.79 491.57h4.76v1.35h-4.76zM313.79 575.05h4.76v1.35h-4.76zM318.52 458.45h4.76v1.35h-4.76zM318.52 474.35h4.76v1.35h-4.76zM318.52 549.88h4.76v1.35h-4.76zM318.52 561.80h4.76v1.35h-4.76zM318.52 568.42h4.76v1.35h-4.76zM318.52 572.40h4.76v1.35h-4.76zM318.52 573.73h4.76v1.35h-4.76zM323.25 458.45h4.76v1.35h-4.76zM323.25 528.67h4.76v1.35h-4.76zM323.25 547.23h4.76v1.35h-4.76zM323.25 573.73h4.76v1.35h-4.76zM327.98 528.67h4.76v1.35h-4.76zM327.98 532.65h4.76v1.35h-4.76zM332.71 508.80h4.76v1.35h-4.76zM332.71 523.38h4.76v1.35h-4.76zM332.71 527.35h4.76v1.35h-4.76zM332.71 535.30h4.76v1.35h-4.76zM332.71 536.62h4.76v1.35h-4.76zM337.44 470.38h4.76v1.35h-4.76zM337.44 490.25h4.76v1.35h-4.76zM337.44 491.57h4.76v1.35h-4.76zM337.44 512.77h4.76v1.35h-4.76zM337.44 530.00h4.76v1.35h-4.76zM337.44 536.62h4.76v1.35h-4.76zM337.44 552.52h4.76v1.35h-4.76zM337.44 557.83h4.76v1.35h-4.76zM337.44 560.48h4.76v1.35h-4.76zM342.17 539.27h4.76v1.35h-4.76zM346.90 528.67h4.76v1.35h-4.76zM346.90 535.30h4.76v1.35h-4.76zM351.63 527.35h4.76v1.35h-4.76zM351.63 537.95h4.76v1.35h-4.76zM351.63 547.23h4.76v1.35h-4.76zM351.63 555.17h4.76v1.35h-4.76zM351.63 556.50h4.76v1.35h-4.76zM356.36 466.40h4.76v1.35h-4.76zM356.36 471.70h4.76v1.35h-4.76zM356.36 483.62h4.76v1.35h-4.76zM356.36 486.28h4.76v1.35h-4.76zM356.36 495.55h4.76v1.35h-4.76zM356.36 511.45h4.76v1.35h-4.76zM356.36 519.40h4.76v1.35h-4.76zM356.36 524.70h4.76v1.35h-4.76zM356.36 530.00h4.76v1.35h-4.76zM356.36 535.30h4.76v1.35h-4.76zM356.36 537.95h4.76v1.35h-4.76zM361.09 465.07h4.76v1.35h-4.76zM361.09 474.35h4.76v1.35h-4.76zM361.09 502.18h4.76v1.35h-4.76zM361.09 508.80h4.76v1.35h-4.76zM361.09 510.12h4.76v1.35h-4.76zM361.09 519.40h4.76v1.35h-4.76zM361.09 522.05h4.76v1.35h-4.76zM361.09 535.30h4.76v1.35h-4.76zM361.09 536.62h4.76v1.35h-4.76zM361.09 543.25h4.76v1.35h-4.76zM361.09 551.20h4.76v1.35h-4.76zM365.82 500.85h4.76v1.35h-4.76zM365.82 556.50h4.76v1.35h-4.76zM365.82 557.83h4.76v1.35h-4.76zM365.82 564.45h4.76v1.35h-4.76zM365.82 581.67h4.76v1.35h-4.76zM370.55 571.08h4.76v1.35h-4.76zM375.28 499.53h4.76v1.35h-4.76zM375.28 508.80h4.76v1.35h-4.76zM375.28 514.10h4.76v1.35h-4.76zM375.28 515.42h4.76v1.35h-4.76zM375.28 520.73h4.76v1.35h-4.76zM375.28 524.70h4.76v1.35h-4.76zM375.28 561.80h4.76v1.35h-4.76zM380.01 508.80h4.76v1.35h-4.76zM380.01 514.10h4.76v1.35h-4.76zM380.01 519.40h4.76v1.35h-4.76zM384.74 511.45h4.76v1.35h-4.76zM384.74 524.70h4.76v1.35h-4.76zM389.47 486.28h4.76v1.35h-4.76zM389.47 502.18h4.76v1.35h-4.76zM389.47 514.10h4.76v1.35h-4.76zM389.47 571.08h4.76v1.35h-4.76zM394.20 475.68h4.76v1.35h-4.76zM394.20 479.65h4.76v1.35h-4.76zM394.20 504.82h4.76v1.35h-4.76zM394.20 515.42h4.76v1.35h-4.76zM394.20 516.75h4.76v1.35h-4.76zM394.20 573.73h4.76v1.35h-4.76zM398.93 470.38h4.76v1.35h-4.76zM398.93 484.95h4.76v1.35h-4.76zM398.93 494.23h4.76v1.35h-4.76zM398.93 502.18h4.76v1.35h-4.76zM398.93 537.95h4.76v1.35h-4.76zM403.66 465.07h4.76v1.35h-4.76zM403.66 471.70h4.76v1.35h-4.76zM403.66 477.00h4.76v1.35h-4.76zM403.66 492.90h4.76v1.35h-4.76zM403.66 520.73h4.76v1.35h-4.76zM403.66 528.67h4.76v1.35h-4.76zM408.39 459.78h4.76v1.35h-4.76zM408.39 462.43h4.76v1.35h-4.76zM408.39 491.57h4.76v1.35h-4.76zM408.39 503.50h4.76v1.35h-4.76zM408.39 504.82h4.76v1.35h-4.76zM408.39 516.75h4.76v1.35h-4.76zM408.39 524.70h4.76v1.35h-4.76zM408.39 540.60h4.76v1.35h-4.76zM413.12 478.32h4.76v1.35h-4.76zM413.12 495.55h4.76v1.35h-4.76zM413.12 571.08h4.76v1.35h-4.76zM417.85 500.85h4.76v1.35h-4.76zM417.85 503.50h4.76v1.35h-4.76zM417.85 504.82h4.76v1.35h-4.76zM427.31 466.40h4.76v1.35h-4.76zM427.31 541.92h4.76v1.35h-4.76zM432.04 483.62h4.76v1.35h-4.76zM432.04 512.77h4.76v1.35h-4.76zM436.77 462.43h4.76v1.35h-4.76zM436.77 577.70h4.76v1.35h-4.76z" fill="#0f0d2f"/>
<path d="M299.60 477.00h4.76v1.35h-4.76zM299.60 484.95h4.76v1.35h-4.76zM299.60 539.27h4.76v1.35h-4.76zM299.60 543.25h4.76v1.35h-4.76zM299.60 548.55h4.76v1.35h-4.76zM299.60 551.20h4.76v1.35h-4.76zM299.60 552.52h4.76v1.35h-4.76zM304.33 469.05h4.76v1.35h-4.76zM304.33 486.28h4.76v1.35h-4.76zM304.33 488.93h4.76v1.35h-4.76zM304.33 494.23h4.76v1.35h-4.76zM304.33 536.62h4.76v1.35h-4.76zM304.33 555.17h4.76v1.35h-4.76zM304.33 563.12h4.76v1.35h-4.76zM304.33 577.70h4.76v1.35h-4.76zM309.06 463.75h4.76v1.35h-4.76zM309.06 467.73h4.76v1.35h-4.76zM309.06 528.67h4.76v1.35h-4.76zM309.06 539.27h4.76v1.35h-4.76zM313.79 483.62h4.76v1.35h-4.76zM313.79 494.23h4.76v1.35h-4.76zM313.79 577.70h4.76v1.35h-4.76zM313.79 579.02h4.76v1.35h-4.76zM313.79 581.67h4.76v1.35h-4.76zM318.52 533.98h4.76v1.35h-4.76zM318.52 537.95h4.76v1.35h-4.76zM318.52 540.60h4.76v1.35h-4.76zM318.52 544.58h4.76v1.35h-4.76zM318.52 545.90h4.76v1.35h-4.76zM318.52 548.55h4.76v1.35h-4.76zM323.25 455.80h4.76v1.35h-4.76zM323.25 469.05h4.76v1.35h-4.76zM323.25 494.23h4.76v1.35h-4.76zM323.25 519.40h4.76v1.35h-4.76zM323.25 539.27h4.76v1.35h-4.76zM323.25 543.25h4.76v1.35h-4.76zM323.25 544.58h4.76v1.35h-4.76zM323.25 567.10h4.76v1.35h-4.76zM323.25 577.70h4.76v1.35h-4.76zM327.98 539.27h4.76v1.35h-4.76zM327.98 545.90h4.76v1.35h-4.76zM327.98 577.70h4.76v1.35h-4.76zM332.71 488.93h4.76v1.35h-4.76zM332.71 492.90h4.76v1.35h-4.76zM332.71 495.55h4.76v1.35h-4.76zM332.71 498.20h4.76v1.35h-4.76zM332.71 539.27h4.76v1.35h-4.76zM332.71 544.58h4.76v1.35h-4.76zM332.71 555.17h4.76v1.35h-4.76zM337.44 458.45h4.76v1.35h-4.76zM337.44 487.60h4.76v1.35h-4.76zM337.44 522.05h4.76v1.35h-4.76zM337.44 524.70h4.76v1.35h-4.76zM337.44 543.25h4.76v1.35h-4.76zM337.44 555.17h4.76v1.35h-4.76zM337.44 580.35h4.76v1.35h-4.76zM342.17 498.20h4.76v1.35h-4.76zM342.17 576.38h4.76v1.35h-4.76zM351.63 536.62h4.76v1.35h-4.76zM351.63 561.80h4.76v1.35h-4.76zM351.63 563.12h4.76v1.35h-4.76zM356.36 455.80h4.76v1.35h-4.76zM356.36 475.68h4.76v1.35h-4.76zM356.36 487.60h4.76v1.35h-4.76zM356.36 488.93h4.76v1.35h-4.76zM356.36 494.23h4.76v1.35h-4.76zM356.36 543.25h4.76v1.35h-4.76zM356.36 563.12h4.76v1.35h-4.76zM361.09 488.93h4.76v1.35h-4.76zM361.09 511.45h4.76v1.35h-4.76zM361.09 527.35h4.76v1.35h-4.76zM361.09 528.67h4.76v1.35h-4.76zM361.09 530.00h4.76v1.35h-4.76zM361.09 548.55h4.76v1.35h-4.76zM365.82 462.43h4.76v1.35h-4.76zM370.55 528.67h4.76v1.35h-4.76zM370.55 545.90h4.76v1.35h-4.76zM370.55 548.55h4.76v1.35h-4.76zM370.55 556.50h4.76v1.35h-4.76zM370.55 575.05h4.76v1.35h-4.76zM375.28 461.10h4.76v1.35h-4.76zM375.28 471.70h4.76v1.35h-4.76zM375.28 483.62h4.76v1.35h-4.76zM375.28 516.75h4.76v1.35h-4.76zM375.28 518.08h4.76v1.35h-4.76zM375.28 556.50h4.76v1.35h-4.76zM375.28 581.67h4.76v1.35h-4.76zM380.01 502.18h4.76v1.35h-4.76zM384.74 462.43h4.76v1.35h-4.76zM384.74 561.80h4.76v1.35h-4.76zM389.47 508.80h4.76v1.35h-4.76zM389.47 510.12h4.76v1.35h-4.76zM389.47 518.08h4.76v1.35h-4.76zM389.47 519.40h4.76v1.35h-4.76zM389.47 524.70h4.76v1.35h-4.76zM394.20 466.40h4.76v1.35h-4.76zM394.20 507.48h4.76v1.35h-4.76zM394.20 545.90h4.76v1.35h-4.76zM394.20 548.55h4.76v1.35h-4.76zM398.93 479.65h4.76v1.35h-4.76zM398.93 482.30h4.76v1.35h-4.76zM398.93 487.60h4.76v1.35h-4.76zM398.93 491.57h4.76v1.35h-4.76zM398.93 504.82h4.76v1.35h-4.76zM398.93 541.92h4.76v1.35h-4.76zM398.93 551.20h4.76v1.35h-4.76zM403.66 461.10h4.76v1.35h-4.76zM403.66 463.75h4.76v1.35h-4.76zM403.66 475.68h4.76v1.35h-4.76zM403.66 479.65h4.76v1.35h-4.76zM403.66 486.28h4.76v1.35h-4.76zM403.66 494.23h4.76v1.35h-4.76zM403.66 496.88h4.76v1.35h-4.76zM403.66 503.50h4.76v1.35h-4.76zM403.66 527.35h4.76v1.35h-4.76zM403.66 533.98h4.76v1.35h-4.76zM403.66 537.95h4.76v1.35h-4.76zM408.39 475.68h4.76v1.35h-4.76zM408.39 500.85h4.76v1.35h-4.76zM408.39 507.48h4.76v1.35h-4.76zM408.39 520.73h4.76v1.35h-4.76zM413.12 484.95h4.76v1.35h-4.76zM413.12 496.88h4.76v1.35h-4.76zM413.12 579.02h4.76v1.35h-4.76zM417.85 457.12h4.76v1.35h-4.76zM417.85 506.15h4.76v1.35h-4.76zM417.85 512.77h4.76v1.35h-4.76zM422.58 466.40h4.76v1.35h-4.76zM422.58 499.53h4.76v1.35h-4.76zM422.58 508.80h4.76v1.35h-4.76zM422.58 523.38h4.76v1.35h-4.76zM422.58 524.70h4.76v1.35h-4.76zM422.58 565.77h4.76v1.35h-4.76zM427.31 475.68h4.76v1.35h-4.76zM427.31 527.35h4.76v1.35h-4.76zM432.04 577.70h4.76v1.35h-4.76zM436.77 473.03h4.76v1.35h-4.76z" fill="#0c0b25"/>
<path d="M299.60 469.05h4.76v1.35h-4.76zM299.60 473.03h4.76v1.35h-4.76zM299.60 494.23h4.76v1.35h-4.76zM299.60 496.88h4.76v1.35h-4.76zM299.60 532.65h4.76v1.35h-4.76zM299.60 564.45h4.76v1.35h-4.76zM304.33 483.62h4.76v1.35h-4.76zM304.33 522.05h4.76v1.35h-4.76zM304.33 528.67h4.76v1.35h-4.76zM309.06 457.12h4.76v1.35h-4.76zM309.06 459.78h4.76v1.35h-4.76zM309.06 474.35h4.76v1.35h-4.76zM309.06 479.65h4.76v1.35h-4.76zM309.06 492.90h4.76v1.35h-4.76zM309.06 535.30h4.76v1.35h-4.76zM309.06 544.58h4.76v1.35h-4.76zM309.06 547.23h4.76v1.35h-4.76zM309.06 551.20h4.76v1.35h-4.76zM313.79 462.43h4.76v1.35h-4.76zM313.79 475.68h4.76v1.35h-4.76zM313.79 488.93h4.76v1.35h-4.76zM313.79 528.67h4.76v1.35h-4.76zM313.79 555.17h4.76v1.35h-4.76zM318.52 539.27h4.76v1.35h-4.76zM318.52 547.23h4.76v1.35h-4.76zM318.52 560.48h4.76v1.35h-4.76zM318.52 576.38h4.76v1.35h-4.76zM323.25 475.68h4.76v1.35h-4.76zM323.25 490.25h4.76v1.35h-4.76zM323.25 495.55h4.76v1.35h-4.76zM323.25 524.70h4.76v1.35h-4.76zM323.25 536.62h4.76v1.35h-4.76zM323.25 549.88h4.76v1.35h-4.76zM323.25 552.52h4.76v1.35h-4.76zM323.25 557.83h4.76v1.35h-4.76zM323.25 560.48h4.76v1.35h-4.76zM327.98 502.18h4.76v1.35h-4.76zM327.98 523.38h4.76v1.35h-4.76zM327.98 527.35h4.76v1.35h-4.76zM332.71 511.45h4.76v1.35h-4.76zM332.71 540.60h4.76v1.35h-4.76zM332.71 541.92h4.76v1.35h-4.76zM332.71 551.20h4.76v1.35h-4.76zM332.71 557.83h4.76v1.35h-4.76zM332.71 563.12h4.76v1.35h-4.76zM332.71 571.08h4.76v1.35h-4.76zM332.71 581.67h4.76v1.35h-4.76zM337.44 507.48h4.76v1.35h-4.76zM337.44 511.45h4.76v1.35h-4.76zM337.44 519.40h4.76v1.35h-4.76zM337.44 526.02h4.76v1.35h-4.76zM337.44 575.05h4.76v1.35h-4.76zM342.17 552.52h4.76v1.35h-4.76zM342.17 565.77h4.76v1.35h-4.76zM346.90 520.73h4.76v1.35h-4.76zM346.90 523.38h4.76v1.35h-4.76zM346.90 530.00h4.76v1.35h-4.76zM346.90 531.33h4.76v1.35h-4.76zM346.90 545.90h4.76v1.35h-4.76zM346.90 555.17h4.76v1.35h-4.76zM351.63 494.23h4.76v1.35h-4.76zM351.63 548.55h4.76v1.35h-4.76zM351.63 559.15h4.76v1.35h-4.76zM356.36 463.75h4.76v1.35h-4.76zM356.36 491.57h4.76v1.35h-4.76zM356.36 510.12h4.76v1.35h-4.76zM356.36 512.77h4.76v1.35h-4.76zM356.36 518.08h4.76v1.35h-4.76zM356.36 527.35h4.76v1.35h-4.76zM356.36 539.27h4.76v1.35h-4.76zM361.09 491.57h4.76v1.35h-4.76zM361.09 495.55h4.76v1.35h-4.76zM361.09 537.95h4.76v1.35h-4.76zM361.09 544.58h4.76v1.35h-4.76zM361.09 573.73h4.76v1.35h-4.76zM361.09 576.38h4.76v1.35h-4.76zM361.09 580.35h4.76v1.35h-4.76zM365.82 458.45h4.76v1.35h-4.76zM365.82 507.48h4.76v1.35h-4.76zM365.82 532.65h4.76v1.35h-4.76zM365.82 548.55h4.76v1.35h-4.76zM365.82 561.80h4.76v1.35h-4.76zM365.82 577.70h4.76v1.35h-4.76zM365.82 579.02h4.76v1.35h-4.76zM370.55 466.40h4.76v1.35h-4.76zM370.55 544.58h4.76v1.35h-4.76zM370.55 580.35h4.76v1.35h-4.76zM375.28 484.95h4.76v1.35h-4.76zM375.28 553.85h4.76v1.35h-4.76zM375.28 573.73h4.76v1.35h-4.76zM380.01 496.88h4.76v1.35h-4.76zM380.01 503.50h4.76v1.35h-4.76zM380.01 520.73h4.76v1.35h-4.76zM380.01 540.60h4.76v1.35h-4.76zM380.01 577.70h4.76v1.35h-4.76zM384.74 507.48h4.76v1.35h-4.76zM384.74 508.80h4.76v1.35h-4.76zM384.74 510.12h4.76v1.35h-4.76zM384.74 514.10h4.76v1.35h-4.76zM384.74 516.75h4.76v1.35h-4.76zM384.74 523.38h4.76v1.35h-4.76zM389.47 465.07h4.76v1.35h-4.76zM389.47 494.23h4.76v1.35h-4.76zM389.47 555.17h4.76v1.35h-4.76zM389.47 557.83h4.76v1.35h-4.76zM394.20 490.25h4.76v1.35h-4.76zM394.20 508.80h4.76v1.35h-4.76zM394.20 523.38h4.76v1.35h-4.76zM394.20 541.92h4.76v1.35h-4.76zM394.20 567.10h4.76v1.35h-4.76zM394.20 577.70h4.76v1.35h-4.76zM398.93 495.55h4.76v1.35h-4.76zM398.93 506.15h4.76v1.35h-4.76zM398.93 518.08h4.76v1.35h-4.76zM398.93 540.60h4.76v1.35h-4.76zM403.66 484.95h4.76v1.35h-4.76zM403.66 488.93h4.76v1.35h-4.76zM403.66 502.18h4.76v1.35h-4.76zM403.66 504.82h4.76v1.35h-4.76zM403.66 506.15h4.76v1.35h-4.76zM403.66 548.55h4.76v1.35h-4.76zM403.66 573.73h4.76v1.35h-4.76zM408.39 499.53h4.76v1.35h-4.76zM408.39 541.92h4.76v1.35h-4.76zM413.12 477.00h4.76v1.35h-4.76zM413.12 482.30h4.76v1.35h-4.76zM413.12 483.62h4.76v1.35h-4.76zM413.12 528.67h4.76v1.35h-4.76zM413.12 541.92h4.76v1.35h-4.76zM413.12 552.52h4.76v1.35h-4.76zM417.85 458.45h4.76v1.35h-4.76zM417.85 473.03h4.76v1.35h-4.76zM417.85 475.68h4.76v1.35h-4.76zM417.85 520.73h4.76v1.35h-4.76zM417.85 522.05h4.76v1.35h-4.76zM417.85 523.38h4.76v1.35h-4.76zM417.85 524.70h4.76v1.35h-4.76zM422.58 504.82h4.76v1.35h-4.76zM427.31 457.12h4.76v1.35h-4.76zM427.31 463.75h4.76v1.35h-4.76zM432.04 459.78h4.76v1.35h-4.76zM432.04 466.40h4.76v1.35h-4.76zM432.04 471.70h4.76v1.35h-4.76zM432.04 475.68h4.76v1.35h-4.76zM432.04 571.08h4.76v1.35h-4.76zM436.77 486.28h4.76v1.35h-4.76zM436.77 504.82h4.76v1.35h-4.76zM436.77 572.40h4.76v1.35h-4.76z" fill="#09081c"/>
<path d="M299.60 455.80h4.76v1.35h-4.76zM299.60 470.38h4.76v1.35h-4.76zM299.60 482.30h4.76v1.35h-4.76zM299.60 486.28h4.76v1.35h-4.76zM299.60 504.82h4.76v1.35h-4.76zM299.60 531.33h4.76v1.35h-4.76zM299.60 533.98h4.76v1.35h-4.76zM299.60 556.50h4.76v1.35h-4.76zM304.33 459.78h4.76v1.35h-4.76zM304.33 479.65h4.76v1.35h-4.76zM304.33 500.85h4.76v1.35h-4.76zM304.33 540.60h4.76v1.35h-4.76zM304.33 551.20h4.76v1.35h-4.76zM304.33 561.80h4.76v1.35h-4.76zM309.06 499.53h4.76v1.35h-4.76zM309.06 526.02h4.76v1.35h-4.76zM309.06 527.35h4.76v1.35h-4.76zM309.06 533.98h4.76v1.35h-4.76zM309.06 568.42h4.76v1.35h-4.76zM309.06 579.02h4.76v1.35h-4.76zM313.79 465.07h4.76v1.35h-4.76zM313.79 471.70h4.76v1.35h-4.76zM313.79 474.35h4.76v1.35h-4.76zM313.79 477.00h4.76v1.35h-4.76zM313.79 547.23h4.76v1.35h-4.76zM313.79 548.55h4.76v1.35h-4.76zM313.79 551.20h4.76v1.35h-4.76zM313.79 553.85h4.76v1.35h-4.76zM313.79 561.80h4.76v1.35h-4.76zM313.79 569.75h4.76v1.35h-4.76zM318.52 455.80h4.76v1.35h-4.76zM318.52 467.73h4.76v1.35h-4.76zM318.52 532.65h4.76v1.35h-4.76zM318.52 565.77h4.76v1.35h-4.76zM323.25 483.62h4.76v1.35h-4.76zM323.25 530.00h4.76v1.35h-4.76zM323.25 576.38h4.76v1.35h-4.76zM323.25 579.02h4.76v1.35h-4.76zM327.98 480.98h4.76v1.35h-4.76zM327.98 486.28h4.76v1.35h-4.76zM327.98 487.60h4.76v1.35h-4.76zM327.98 490.25h4.76v1.35h-4.76zM327.98 492.90h4.76v1.35h-4.76zM327.98 496.88h4.76v1.35h-4.76zM327.98 526.02h4.76v1.35h-4.76zM327.98 536.62h4.76v1.35h-4.76zM327.98 541.92h4.76v1.35h-4.76zM327.98 543.25h4.76v1.35h-4.76zM327.98 548.55h4.76v1.35h-4.76zM327.98 551.20h4.76v1.35h-4.76zM327.98 555.17h4.76v1.35h-4.76zM332.71 475.68h4.76v1.35h-4.76zM332.71 504.82h4.76v1.35h-4.76zM332.71 506.15h4.76v1.35h-4.76zM332.71 507.48h4.76v1.35h-4.76zM332.71 510.12h4.76v1.35h-4.76zM332.71 516.75h4.76v1.35h-4.76zM332.71 520.73h4.76v1.35h-4.76zM332.71 545.90h4.76v1.35h-4.76zM332.71 553.85h4.76v1.35h-4.76zM337.44 466.40h4.76v1.35h-4.76zM337.44 477.00h4.76v1.35h-4.76zM337.44 480.98h4.76v1.35h-4.76zM337.44 492.90h4.76v1.35h-4.76zM337.44 502.18h4.76v1.35h-4.76zM337.44 504.82h4.76v1.35h-4.76zM337.44 523.38h4.76v1.35h-4.76zM337.44 535.30h4.76v1.35h-4.76zM337.44 545.90h4.76v1.35h-4.76zM337.44 549.88h4.76v1.35h-4.76zM337.44 561.80h4.76v1.35h-4.76zM337.44 565.77h4.76v1.35h-4.76zM342.17 527.35h4.76v1.35h-4.76zM342.17 563.12h4.76v1.35h-4.76zM346.90 480.98h4.76v1.35h-4.76zM346.90 483.62h4.76v1.35h-4.76zM346.90 547.23h4.76v1.35h-4.76zM346.90 549.88h4.76v1.35h-4.76zM346.90 551.20h4.76v1.35h-4.76zM346.90 564.45h4.76v1.35h-4.76zM346.90 572.40h4.76v1.35h-4.76zM346.90 576.38h4.76v1.35h-4.76zM351.63 564.45h4.76v1.35h-4.76zM356.36 470.38h4.76v1.35h-4.76zM356.36 474.35h4.76v1.35h-4.76zM356.36 523.38h4.76v1.35h-4.76zM356.36 536.62h4.76v1.35h-4.76zM356.36 544.58h4.76v1.35h-4.76zM356.36 565.77h4.76v1.35h-4.76zM356.36 567.10h4.76v1.35h-4.76zM361.09 473.03h4.76v1.35h-4.76zM361.09 514.10h4.76v1.35h-4.76zM361.09 515.42h4.76v1.35h-4.76zM361.09 531.33h4.76v1.35h-4.76zM361.09 547.23h4.76v1.35h-4.76zM361.09 561.80h4.76v1.35h-4.76zM365.82 461.10h4.76v1.35h-4.76zM365.82 506.15h4.76v1.35h-4.76zM365.82 516.75h4.76v1.35h-4.76zM365.82 528.67h4.76v1.35h-4.76zM365.82 541.92h4.76v1.35h-4.76zM365.82 545.90h4.76v1.35h-4.76zM365.82 551.20h4.76v1.35h-4.76zM365.82 575.05h4.76v1.35h-4.76zM370.55 514.10h4.76v1.35h-4.76zM370.55 537.95h4.76v1.35h-4.76zM370.55 563.12h4.76v1.35h-4.76zM370.55 569.75h4.76v1.35h-4.76zM375.28 455.80h4.76v1.35h-4.76zM375.28 463.75h4.76v1.35h-4.76zM375.28 466.40h4.76v1.35h-4.76zM375.28 474.35h4.76v1.35h-4.76zM375.28 507.48h4.76v1.35h-4.76zM375.28 543.25h4.76v1.35h-4.76zM375.28 560.48h4.76v1.35h-4.76zM375.28 568.42h4.76v1.35h-4.76zM375.28 572.40h4.76v1.35h-4.76zM380.01 474.35h4.76v1.35h-4.76zM380.01 510.12h4.76v1.35h-4.76zM380.01 511.45h4.76v1.35h-4.76zM380.01 563.12h4.76v1.35h-4.76zM380.01 579.02h4.76v1.35h-4.76zM384.74 496.88h4.76v1.35h-4.76zM389.47 466.40h4.76v1.35h-4.76zM389.47 512.77h4.76v1.35h-4.76zM389.47 556.50h4.76v1.35h-4.76zM389.47 573.73h4.76v1.35h-4.76zM389.47 579.02h4.76v1.35h-4.76zM389.47 581.67h4.76v1.35h-4.76zM394.20 520.73h4.76v1.35h-4.76zM394.20 532.65h4.76v1.35h-4.76zM394.20 537.95h4.76v1.35h-4.76zM394.20 552.52h4.76v1.35h-4.76zM394.20 557.83h4.76v1.35h-4.76zM394.20 576.38h4.76v1.35h-4.76zM398.93 455.80h4.76v1.35h-4.76zM398.93 459.78h4.76v1.35h-4.76zM398.93 466.40h4.76v1.35h-4.76zM398.93 469.05h4.76v1.35h-4.76zM398.93 544.58h4.76v1.35h-4.76zM398.93 567.10h4.76v1.35h-4.76zM403.66 458.45h4.76v1.35h-4.76zM403.66 459.78h4.76v1.35h-4.76zM403.66 478.32h4.76v1.35h-4.76zM403.66 480.98h4.76v1.35h-4.76zM403.66 491.57h4.76v1.35h-4.76zM403.66 510.12h4.76v1.35h-4.76zM403.66 516.75h4.76v1.35h-4.76zM403.66 555.17h4.76v1.35h-4.76zM403.66 563.12h4.76v1.35h-4.76zM408.39 458.45h4.76v1.35h-4.76zM408.39 474.35h4.76v1.35h-4.76zM408.39 490.25h4.76v1.35h-4.76zM408.39 518.08h4.76v1.35h-4.76zM408.39 560.48h4.76v1.35h-4.76zM413.12 457.12h4.76v1.35h-4.76zM413.12 480.98h4.76v1.35h-4.76zM413.12 498.20h4.76v1.35h-4.76zM413.12 515.42h4.76v1.35h-4.76zM413.12 537.95h4.76v1.35h-4.76zM413.12 564.45h4.76v1.35h-4.76zM417.85 465.07h4.76v1.35h-4.76zM417.85 466.40h4.76v1.35h-4.76zM417.85 486.28h4.76v1.35h-4.76zM417.85 510.12h4.76v1.35h-4.76zM417.85 564.45h4.76v1.35h-4.76zM422.58 459.78h4.76v1.35h-4.76zM422.58 465.07h4.76v1.35h-4.76zM422.58 474.35h4.76v1.35h-4.76zM422.58 480.98h4.76v1.35h-4.76zM422.58 527.35h4.76v1.35h-4.76zM427.31 462.43h4.76v1.35h-4.76zM427.31 500.85h4.76v1.35h-4.76zM427.31 524.70h4.76v1.35h-4.76zM427.31 547.23h4.76v1.35h-4.76zM427.31 565.77h4.76v1.35h-4.76zM432.04 467.73h4.76v1.35h-4.76zM432.04 500.85h4.76v1.35h-4.76zM432.04 504.82h4.76v1.35h-4.76zM432.04 506.15h4.76v1.35h-4.76zM432.04 520.73h4.76v1.35h-4.76zM432.04 567.10h4.76v1.35h-4.76zM436.77 461.10h4.76v1.35h-4.76zM436.77 465.07h4.76v1.35h-4.76zM436.77 471.70h4.76v1.35h-4.76zM436.77 483.62h4.76v1.35h-4.76zM436.77 491.57h4.76v1.35h-4.76zM436.77 528.67h4.76v1.35h-4.76zM436.77 573.73h4.76v1.35h-4.76zM436.77 579.02h4.76v1.35h-4.76z" fill="#060512"/>
<path d="M299.60 467.73h4.76v1.35h-4.76zM299.60 527.35h4.76v1.35h-4.76zM299.60 536.62h4.76v1.35h-4.76zM299.60 568.42h4.76v1.35h-4.76zM304.33 549.88h4.76v1.35h-4.76zM309.06 486.28h4.76v1.35h-4.76zM309.06 510.12h4.76v1.35h-4.76zM309.06 543.25h4.76v1.35h-4.76zM309.06 545.90h4.76v1.35h-4.76zM309.06 553.85h4.76v1.35h-4.76zM309.06 555.17h4.76v1.35h-4.76zM313.79 455.80h4.76v1.35h-4.76zM313.79 487.60h4.76v1.35h-4.76zM313.79 496.88h4.76v1.35h-4.76zM313.79 515.42h4.76v1.35h-4.76zM313.79 564.45h4.76v1.35h-4.76zM313.79 567.10h4.76v1.35h-4.76zM313.79 572.40h4.76v1.35h-4.76zM318.52 457.12h4.76v1.35h-4.76zM318.52 471.70h4.76v1.35h-4.76zM318.52 473.03h4.76v1.35h-4.76zM318.52 484.95h4.76v1.35h-4.76zM318.52 502.18h4.76v1.35h-4.76zM318.52 526.02h4.76v1.35h-4.76zM318.52 577.70h4.76v1.35h-4.76zM323.25 457.12h4.76v1.35h-4.76zM323.25 461.10h4.76v1.35h-4.76zM323.25 465.07h4.76v1.35h-4.76zM323.25 467.73h4.76v1.35h-4.76zM323.25 479.65h4.76v1.35h-4.76zM323.25 532.65h4.76v1.35h-4.76zM323.25 535.30h4.76v1.35h-4.76zM323.25 545.90h4.76v1.35h-4.76zM323.25 553.85h4.76v1.35h-4.76zM323.25 555.17h4.76v1.35h-4.76zM323.25 564.45h4.76v1.35h-4.76zM323.25 565.77h4.76v1.35h-4.76zM323.25 568.42h4.76v1.35h-4.76zM323.25 571.08h4.76v1.35h-4.76zM327.98 482.30h4.76v1.35h-4.76zM327.98 498.20h4.76v1.35h-4.76zM327.98 510.12h4.76v1.35h-4.76zM327.98 511.45h4.76v1.35h-4.76zM327.98 540.60h4.76v1.35h-4.76zM327.98 559.15h4.76v1.35h-4.76zM327.98 561.80h4.76v1.35h-4.76zM327.98 567.10h4.76v1.35h-4.76zM327.98 573.73h4.76v1.35h-4.76zM332.71 482.30h4.76v1.35h-4.76zM332.71 483.62h4.76v1.35h-4.76zM332.71 496.88h4.76v1.35h-4.76zM332.71 503.50h4.76v1.35h-4.76zM332.71 518.08h4.76v1.35h-4.76zM332.71 519.40h4.76v1.35h-4.76zM332.71 522.05h4.76v1.35h-4.76zM332.71 526.02h4.76v1.35h-4.76zM332.71 543.25h4.76v1.35h-4.76zM332.71 547.23h4.76v1.35h-4.76zM332.71 579.02h4.76v1.35h-4.76zM337.44 457.12h4.76v1.35h-4.76zM337.44 462.43h4.76v1.35h-4.76zM337.44 467.73h4.76v1.35h-4.76zM337.44 471.70h4.76v1.35h-4.76zM337.44 474.35h4.76v1.35h-4.76zM337.44 475.68h4.76v1.35h-4.76zM337.44 484.95h4.76v1.35h-4.76zM337.44 495.55h4.76v1.35h-4.76zM337.44 496.88h4.76v1.35h-4.76zM337.44 499.53h4.76v1.35h-4.76zM337.44 508.80h4.76v1.35h-4.76zM337.44 539.27h4.76v1.35h-4.76zM337.44 540.60h4.76v1.35h-4.76zM337.44 564.45h4.76v1.35h-4.76zM337.44 568.42h4.76v1.35h-4.76zM337.44 573.73h4.76v1.35h-4.76zM337.44 579.02h4.76v1.35h-4.76zM342.17 466.40h4.76v1.35h-4.76zM342.17 520.73h4.76v1.35h-4.76zM342.17 537.95h4.76v1.35h-4.76zM342.17 544.58h4.76v1.35h-4.76zM342.17 545.90h4.76v1.35h-4.76zM342.17 548.55h4.76v1.35h-4.76zM342.17 551.20h4.76v1.35h-4.76zM342.17 568.42h4.76v1.35h-4.76zM342.17 577.70h4.76v1.35h-4.76zM346.90 526.02h4.76v1.35h-4.76zM346.90 552.52h4.76v1.35h-4.76zM346.90 560.48h4.76v1.35h-4.76zM346.90 561.80h4.76v1.35h-4.76zM346.90 565.77h4.76v1.35h-4.76zM346.90 568.42h4.76v1.35h-4.76zM351.63 528.67h4.76v1.35h-4.76zM351.63 543.25h4.76v1.35h-4.76zM351.63 549.88h4.76v1.35h-4.76zM351.63 551.20h4.76v1.35h-4.76zM351.63 565.77h4.76v1.35h-4.76zM356.36 514.10h4.76v1.35h-4.76zM356.36 557.83h4.76v1.35h-4.76zM356.36 571.08h4.76v1.35h-4.76zM356.36 572.40h4.76v1.35h-4.76zM356.36 576.38h4.76v1.35h-4.76zM356.36 577.70h4.76v1.35h-4.76zM356.36 581.67h4.76v1.35h-4.76zM361.09 466.40h4.76v1.35h-4.76zM361.09 477.00h4.76v1.35h-4.76zM361.09 478.32h4.76v1.35h-4.76zM361.09 533.98h4.76v1.35h-4.76zM361.09 556.50h4.76v1.35h-4.76zM361.09 571.08h4.76v1.35h-4.76zM365.82 504.82h4.76v1.35h-4.76zM365.82 508.80h4.76v1.35h-4.76zM365.82 535.30h4.76v1.35h-4.76zM365.82 563.12h4.76v1.35h-4.76zM365.82 569.75h4.76v1.35h-4.76zM370.55 495.55h4.76v1.35h-4.76zM370.55 510.12h4.76v1.35h-4.76zM370.55 524.70h4.76v1.35h-4.76zM370.55 541.92h4.76v1.35h-4.76zM370.55 543.25h4.76v1.35h-4.76zM370.55 547.23h4.76v1.35h-4.76zM370.55 568.42h4.76v1.35h-4.76zM370.55 573.73h4.76v1.35h-4.76zM375.28 479.65h4.76v1.35h-4.76zM375.28 537.95h4.76v1.35h-4.76zM375.28 545.90h4.76v1.35h-4.76zM380.01 504.82h4.76v1.35h-4.76zM380.01 506.15h4.76v1.35h-4.76zM380.01 515.42h4.76v1.35h-4.76zM380.01 557.83h4.76v1.35h-4.76zM380.01 568.42h4.76v1.35h-4.76zM380.01 572.40h4.76v1.35h-4.76zM384.74 500.85h4.76v1.35h-4.76zM384.74 503.50h4.76v1.35h-4.76zM384.74 515.42h4.76v1.35h-4.76zM384.74 555.17h4.76v1.35h-4.76zM384.74 569.75h4.76v1.35h-4.76zM389.47 457.12h4.76v1.35h-4.76zM389.47 458.45h4.76v1.35h-4.76zM389.47 503.50h4.76v1.35h-4.76zM389.47 504.82h4.76v1.35h-4.76zM389.47 520.73h4.76v1.35h-4.76zM389.47 537.95h4.76v1.35h-4.76zM389.47 559.15h4.76v1.35h-4.76zM389.47 564.45h4.76v1.35h-4.76zM389.47 572.40h4.76v1.35h-4.76zM394.20 459.78h4.76v1.35h-4.76zM394.20 465.07h4.76v1.35h-4.76zM394.20 502.18h4.76v1.35h-4.76zM394.20 511.45h4.76v1.35h-4.76zM394.20 540.60h4.76v1.35h-4.76zM398.93 474.35h4.76v1.35h-4.76zM398.93 486.28h4.76v1.35h-4.76zM398.93 510.12h4.76v1.35h-4.76zM398.93 526.02h4.76v1.35h-4.76zM398.93 527.35h4.76v1.35h-4.76zM398.93 533.98h4.76v1.35h-4.76zM398.93 553.85h4.76v1.35h-4.76zM398.93 560.48h4.76v1.35h-4.76zM398.93 577.70h4.76v1.35h-4.76zM403.66 515.42h4.76v1.35h-4.76zM403.66 522.05h4.76v1.35h-4.76zM403.66 559.15h4.76v1.35h-4.76zM403.66 579.02h4.76v1.35h-4.76zM403.66 581.67h4.76v1.35h-4.76zM408.39 463.75h4.76v1.35h-4.76zM408.39 486.28h4.76v1.35h-4.76zM408.39 487.60h4.76v1.35h-4.76zM408.39 528.67h4.76v1.35h-4.76zM408.39 552.52h4.76v1.35h-4.76zM408.39 572.40h4.76v1.35h-4.76zM413.12 488.93h4.76v1.35h-4.76zM413.12 491.57h4.76v1.35h-4.76zM413.12 499.53h4.76v1.35h-4.76zM413.12 507.48h4.76v1.35h-4.76zM413.12 533.98h4.76v1.35h-4.76zM417.85 461.10h4.76v1.35h-4.76zM417.85 487.60h4.76v1.35h-4.76zM417.85 511.45h4.76v1.35h-4.76zM417.85 516.75h4.76v1.35h-4.76zM417.85 518.08h4.76v1.35h-4.76zM417.85 532.65h4.76v1.35h-4.76zM417.85 579.02h4.76v1.35h-4.76zM417.85 581.67h4.76v1.35h-4.76zM422.58 502.18h4.76v1.35h-4.76zM422.58 515.42h4.76v1.35h-4.76zM422.58 520.73h4.76v1.35h-4.76zM422.58 543.25h4.76v1.35h-4.76zM422.58 544.58h4.76v1.35h-4.76zM422.58 564.45h4.76v1.35h-4.76zM422.58 569.75h4.76v1.35h-4.76zM427.31 461.10h4.76v1.35h-4.76zM427.31 469.05h4.76v1.35h-4.76zM427.31 474.35h4.76v1.35h-4.76zM427.31 495.55h4.76v1.35h-4.76zM427.31 498.20h4.76v1.35h-4.76zM427.31 545.90h4.76v1.35h-4.76zM427.31 564.45h4.76v1.35h-4.76zM432.04 458.45h4.76v1.35h-4.76zM432.04 461.10h4.76v1.35h-4.76zM432.04 462.43h4.76v1.35h-4.76zM432.04 496.88h4.76v1.35h-4.76zM432.04 519.40h4.76v1.35h-4.76zM432.04 541.92h4.76v1.35h-4.76zM436.77 499.53h4.76v1.35h-4.76zM436.77 519.40h4.76v1.35h-4.76zM436.77 531.33h4.76v1.35h-4.76zM436.77 555.17h4.76v1.35h-4.76zM436.77 565.77h4.76v1.35h-4.76z" fill="#030209"/>
<path d="M299.60 458.45h4.76v1.35h-4.76zM299.60 483.62h4.76v1.35h-4.76zM299.60 499.53h4.76v1.35h-4.76zM299.60 526.02h4.76v1.35h-4.76zM299.60 540.60h4.76v1.35h-4.76zM299.60 572.40h4.76v1.35h-4.76zM304.33 463.75h4.76v1.35h-4.76zM304.33 490.25h4.76v1.35h-4.76zM304.33 491.57h4.76v1.35h-4.76zM304.33 508.80h4.76v1.35h-4.76zM304.33 519.40h4.76v1.35h-4.76zM304.33 533.98h4.76v1.35h-4.76zM309.06 470.38h4.76v1.35h-4.76zM309.06 471.70h4.76v1.35h-4.76zM309.06 477.00h4.76v1.35h-4.76zM309.06 484.95h4.76v1.35h-4.76zM309.06 487.60h4.76v1.35h-4.76zM309.06 488.93h4.76v1.35h-4.76zM309.06 494.23h4.76v1.35h-4.76zM309.06 532.65h4.76v1.35h-4.76zM309.06 548.55h4.76v1.35h-4.76zM309.06 556.50h4.76v1.35h-4.76zM313.79 480.98h4.76v1.35h-4.76zM313.79 482.30h4.76v1.35h-4.76zM313.79 495.55h4.76v1.35h-4.76zM313.79 540.60h4.76v1.35h-4.76zM313.79 557.83h4.76v1.35h-4.76zM318.52 465.07h4.76v1.35h-4.76zM318.52 477.00h4.76v1.35h-4.76zM318.52 479.65h4.76v1.35h-4.76zM318.52 498.20h4.76v1.35h-4.76zM318.52 511.45h4.76v1.35h-4.76zM318.52 524.70h4.76v1.35h-4.76zM318.52 530.00h4.76v1.35h-4.76zM318.52 543.25h4.76v1.35h-4.76zM318.52 563.12h4.76v1.35h-4.76zM323.25 463.75h4.76v1.35h-4.76zM323.25 471.70h4.76v1.35h-4.76zM323.25 473.03h4.76v1.35h-4.76zM323.25 474.35h4.76v1.35h-4.76zM323.25 496.88h4.76v1.35h-4.76zM323.25 500.85h4.76v1.35h-4.76zM323.25 502.18h4.76v1.35h-4.76zM323.25 503.50h4.76v1.35h-4.76zM323.25 506.15h4.76v1.35h-4.76zM323.25 507.48h4.76v1.35h-4.76zM323.25 520.73h4.76v1.35h-4.76zM323.25 526.02h4.76v1.35h-4.76zM323.25 531.33h4.76v1.35h-4.76zM323.25 533.98h4.76v1.35h-4.76zM323.25 548.55h4.76v1.35h-4.76zM323.25 559.15h4.76v1.35h-4.76zM323.25 563.12h4.76v1.35h-4.76zM327.98 459.78h4.76v1.35h-4.76zM327.98 475.68h4.76v1.35h-4.76zM327.98 479.65h4.76v1.35h-4.76zM327.98 503.50h4.76v1.35h-4.76zM327.98 504.82h4.76v1.35h-4.76zM332.71 458.45h4.76v1.35h-4.76zM332.71 474.35h4.76v1.35h-4.76zM332.71 477.00h4.76v1.35h-4.76zM332.71 480.98h4.76v1.35h-4.76zM332.71 490.25h4.76v1.35h-4.76zM332.71 524.70h4.76v1.35h-4.76zM332.71 531.33h4.76v1.35h-4.76zM332.71 559.15h4.76v1.35h-4.76zM332.71 561.80h4.76v1.35h-4.76zM332.71 564.45h4.76v1.35h-4.76zM332.71 565.77h4.76v1.35h-4.76zM337.44 469.05h4.76v1.35h-4.76zM337.44 486.28h4.76v1.35h-4.76zM337.44 488.93h4.76v1.35h-4.76zM337.44 515.42h4.76v1.35h-4.76zM337.44 553.85h4.76v1.35h-4.76zM337.44 563.12h4.76v1.35h-4.76zM342.17 488.93h4.76v1.35h-4.76zM342.17 526.02h4.76v1.35h-4.76zM342.17 535.30h4.76v1.35h-4.76zM342.17 536.62h4.76v1.35h-4.76zM342.17 547.23h4.76v1.35h-4.76zM342.17 561.80h4.76v1.35h-4.76zM346.90 471.70h4.76v1.35h-4.76zM346.90 474.35h4.76v1.35h-4.76zM346.90 495.55h4.76v1.35h-4.76zM346.90 498.20h4.76v1.35h-4.76zM346.90 510.12h4.76v1.35h-4.76zM346.90 557.83h4.76v1.35h-4.76zM346.90 567.10h4.76v1.35h-4.76zM346.90 579.02h4.76v1.35h-4.76zM351.63 491.57h4.76v1.35h-4.76zM351.63 503.50h4.76v1.35h-4.76zM351.63 504.82h4.76v1.35h-4.76zM351.63 520.73h4.76v1.35h-4.76zM351.63 530.00h4.76v1.35h-4.76zM351.63 532.65h4.76v1.35h-4.76zM351.63 533.98h4.76v1.35h-4.76zM351.63 553.85h4.76v1.35h-4.76zM351.63 560.48h4.76v1.35h-4.76zM356.36 540.60h4.76v1.35h-4.76zM356.36 545.90h4.76v1.35h-4.76zM356.36 548.55h4.76v1.35h-4.76zM361.09 540.60h4.76v1.35h-4.76zM361.09 555.17h4.76v1.35h-4.76zM361.09 567.10h4.76v1.35h-4.76zM361.09 579.02h4.76v1.35h-4.76zM365.82 482.30h4.76v1.35h-4.76zM365.82 491.57h4.76v1.35h-4.76zM365.82 496.88h4.76v1.35h-4.76zM365.82 510.12h4.76v1.35h-4.76zM365.82 514.10h4.76v1.35h-4.76zM365.82 519.40h4.76v1.35h-4.76zM365.82 555.17h4.76v1.35h-4.76zM365.82 571.08h4.76v1.35h-4.76zM370.55 487.60h4.76v1.35h-4.76zM370.55 498.20h4.76v1.35h-4.76zM370.55 506.15h4.76v1.35h-4.76zM370.55 522.05h4.76v1.35h-4.76zM370.55 532.65h4.76v1.35h-4.76zM370.55 539.27h4.76v1.35h-4.76zM370.55 552.52h4.76v1.35h-4.76zM370.55 576.38h4.76v1.35h-4.76zM370.55 579.02h4.76v1.35h-4.76zM375.28 458.45h4.76v1.35h-4.76zM375.28 491.57h4.76v1.35h-4.76zM375.28 496.88h4.76v1.35h-4.76zM375.28 531.33h4.76v1.35h-4.76zM375.28 533.98h4.76v1.35h-4.76zM375.28 547.23h4.76v1.35h-4.76zM375.28 548.55h4.76v1.35h-4.76zM375.28 565.77h4.76v1.35h-4.76zM375.28 569.75h4.76v1.35h-4.76zM375.28 576.38h4.76v1.35h-4.76zM380.01 458.45h4.76v1.35h-4.76zM380.01 459.78h4.76v1.35h-4.76zM380.01 528.67h4.76v1.35h-4.76zM380.01 555.17h4.76v1.35h-4.76zM380.01 559.15h4.76v1.35h-4.76zM380.01 576.38h4.76v1.35h-4.76zM380.01 580.35h4.76v1.35h-4.76zM384.74 463.75h4.76v1.35h-4.76zM384.74 467.73h4.76v1.35h-4.76zM384.74 479.65h4.76v1.35h-4.76zM384.74 522.05h4.76v1.35h-4.76zM384.74 547.23h4.76v1.35h-4.76zM389.47 488.93h4.76v1.35h-4.76zM389.47 495.55h4.76v1.35h-4.76zM389.47 539.27h4.76v1.35h-4.76zM394.20 510.12h4.76v1.35h-4.76zM394.20 518.08h4.76v1.35h-4.76zM394.20 528.67h4.76v1.35h-4.76zM394.20 531.33h4.76v1.35h-4.76zM394.20 551.20h4.76v1.35h-4.76zM394.20 556.50h4.76v1.35h-4.76zM394.20 565.77h4.76v1.35h-4.76zM394.20 575.05h4.76v1.35h-4.76zM398.93 507.48h4.76v1.35h-4.76zM398.93 520.73h4.76v1.35h-4.76zM398.93 522.05h4.76v1.35h-4.76zM398.93 523.38h4.76v1.35h-4.76zM398.93 571.08h4.76v1.35h-4.76zM398.93 579.02h4.76v1.35h-4.76zM398.93 581.67h4.76v1.35h-4.76zM403.66 530.00h4.76v1.35h-4.76zM403.66 536.62h4.76v1.35h-4.76zM403.66 560.48h4.76v1.35h-4.76zM403.66 567.10h4.76v1.35h-4.76zM403.66 575.05h4.76v1.35h-4.76zM403.66 577.70h4.76v1.35h-4.76zM403.66 580.35h4.76v1.35h-4.76zM408.39 482.30h4.76v1.35h-4.76zM408.39 510.12h4.76v1.35h-4.76zM408.39 527.35h4.76v1.35h-4.76zM408.39 533.98h4.76v1.35h-4.76zM408.39 536.62h4.76v1.35h-4.76zM408.39 537.95h4.76v1.35h-4.76zM408.39 551.20h4.76v1.35h-4.76zM408.39 567.10h4.76v1.35h-4.76zM408.39 575.05h4.76v1.35h-4.76zM408.39 577.70h4.76v1.35h-4.76zM413.12 490.25h4.76v1.35h-4.76zM413.12 502.18h4.76v1.35h-4.76zM413.12 523.38h4.76v1.35h-4.76zM413.12 527.35h4.76v1.35h-4.76zM413.12 535.30h4.76v1.35h-4.76zM413.12 548.55h4.76v1.35h-4.76zM413.12 561.80h4.76v1.35h-4.76zM413.12 567.10h4.76v1.35h-4.76zM417.85 470.38h4.76v1.35h-4.76zM417.85 483.62h4.76v1.35h-4.76zM417.85 494.23h4.76v1.35h-4.76zM417.85 528.67h4.76v1.35h-4.76zM417.85 545.90h4.76v1.35h-4.76zM417.85 563.12h4.76v1.35h-4.76zM417.85 571.08h4.76v1.35h-4.76zM417.85 577.70h4.76v1.35h-4.76zM422.58 488.93h4.76v1.35h-4.76zM422.58 518.08h4.76v1.35h-4.76zM422.58 541.92h4.76v1.35h-4.76zM422.58 549.88h4.76v1.35h-4.76zM422.58 559.15h4.76v1.35h-4.76zM422.58 563.12h4.76v1.35h-4.76zM422.58 573.73h4.76v1.35h-4.76zM427.31 455.80h4.76v1.35h-4.76zM427.31 465.07h4.76v1.35h-4.76zM427.31 480.98h4.76v1.35h-4.76zM427.31 482.30h4.76v1.35h-4.76zM427.31 491.57h4.76v1.35h-4.76zM427.31 515.42h4.76v1.35h-4.76zM427.31 553.85h4.76v1.35h-4.76zM427.31 575.05h4.76v1.35h-4.76zM427.31 579.02h4.76v1.35h-4.76zM432.04 455.80h4.76v1.35h-4.76zM432.04 474.35h4.76v1.35h-4.76zM432.04 488.93h4.76v1.35h-4.76zM432.04 553.85h4.76v1.35h-4.76zM432.04 580.35h4.76v1.35h-4.76zM436.77 457.12h4.76v1.35h-4.76zM436.77 474.35h4.76v1.35h-4.76zM436.77 494.23h4.76v1.35h-4.76zM436.77 495.55h4.76v1.35h-4.76zM436.77 506.15h4.76v1.35h-4.76zM436.77 536.62h4.76v1.35h-4.76zM436.77 544.58h4.76v1.35h-4.76zM436.77 551.20h4.76v1.35h-4.76zM436.77 557.83h4.76v1.35h-4.76zM436.77 559.15h4.76v1.35h-4.76z" fill="#0e0e03"/>
<path d="M299.60 514.10h4.76v1.35h-4.76zM299.60 560.48h4.76v1.35h-4.76zM299.60 567.10h4.76v1.35h-4.76zM299.60 576.38h4.76v1.35h-4.76zM299.60 580.35h4.76v1.35h-4.76zM304.33 457.12h4.76v1.35h-4.76zM304.33 466.40h4.76v1.35h-4.76zM304.33 560.48h4.76v1.35h-4.76zM304.33 564.45h4.76v1.35h-4.76zM304.33 573.73h4.76v1.35h-4.76zM309.06 458.45h4.76v1.35h-4.76zM309.06 490.25h4.76v1.35h-4.76zM309.06 518.08h4.76v1.35h-4.76zM309.06 522.05h4.76v1.35h-4.76zM309.06 567.10h4.76v1.35h-4.76zM309.06 572.40h4.76v1.35h-4.76zM309.06 575.05h4.76v1.35h-4.76zM313.79 478.32h4.76v1.35h-4.76zM313.79 498.20h4.76v1.35h-4.76zM313.79 503.50h4.76v1.35h-4.76zM313.79 508.80h4.76v1.35h-4.76zM313.79 543.25h4.76v1.35h-4.76zM313.79 573.73h4.76v1.35h-4.76zM318.52 475.68h4.76v1.35h-4.76zM318.52 494.23h4.76v1.35h-4.76zM318.52 514.10h4.76v1.35h-4.76zM318.52 553.85h4.76v1.35h-4.76zM323.25 466.40h4.76v1.35h-4.76zM323.25 492.90h4.76v1.35h-4.76zM323.25 498.20h4.76v1.35h-4.76zM323.25 511.45h4.76v1.35h-4.76zM323.25 512.77h4.76v1.35h-4.76zM323.25 575.05h4.76v1.35h-4.76zM323.25 581.67h4.76v1.35h-4.76zM327.98 466.40h4.76v1.35h-4.76zM327.98 467.73h4.76v1.35h-4.76zM327.98 512.77h4.76v1.35h-4.76zM327.98 515.42h4.76v1.35h-4.76zM327.98 533.98h4.76v1.35h-4.76zM327.98 544.58h4.76v1.35h-4.76zM327.98 556.50h4.76v1.35h-4.76zM327.98 565.77h4.76v1.35h-4.76zM332.71 459.78h4.76v1.35h-4.76zM332.71 463.75h4.76v1.35h-4.76zM332.71 465.07h4.76v1.35h-4.76zM332.71 469.05h4.76v1.35h-4.76zM332.71 499.53h4.76v1.35h-4.76zM332.71 512.77h4.76v1.35h-4.76zM332.71 533.98h4.76v1.35h-4.76zM332.71 580.35h4.76v1.35h-4.76zM337.44 459.78h4.76v1.35h-4.76zM337.44 478.32h4.76v1.35h-4.76zM337.44 559.15h4.76v1.35h-4.76zM337.44 581.67h4.76v1.35h-4.76zM342.17 457.12h4.76v1.35h-4.76zM342.17 494.23h4.76v1.35h-4.76zM342.17 503.50h4.76v1.35h-4.76zM342.17 512.77h4.76v1.35h-4.76zM342.17 514.10h4.76v1.35h-4.76zM342.17 533.98h4.76v1.35h-4.76zM342.17 555.17h4.76v1.35h-4.76zM342.17 567.10h4.76v1.35h-4.76zM342.17 573.73h4.76v1.35h-4.76zM346.90 455.80h4.76v1.35h-4.76zM346.90 482.30h4.76v1.35h-4.76zM346.90 511.45h4.76v1.35h-4.76zM346.90 536.62h4.76v1.35h-4.76zM346.90 556.50h4.76v1.35h-4.76zM346.90 563.12h4.76v1.35h-4.76zM351.63 457.12h4.76v1.35h-4.76zM351.63 458.45h4.76v1.35h-4.76zM351.63 459.78h4.76v1.35h-4.76zM351.63 461.10h4.76v1.35h-4.76zM351.63 465.07h4.76v1.35h-4.76zM351.63 466.40h4.76v1.35h-4.76zM351.63 470.38h4.76v1.35h-4.76zM351.63 498.20h4.76v1.35h-4.76zM351.63 502.18h4.76v1.35h-4.76zM351.63 511.45h4.76v1.35h-4.76zM351.63 524.70h4.76v1.35h-4.76zM351.63 535.30h4.76v1.35h-4.76zM351.63 575.05h4.76v1.35h-4.76zM356.36 549.88h4.76v1.35h-4.76zM356.36 555.17h4.76v1.35h-4.76zM356.36 569.75h4.76v1.35h-4.76zM361.09 458.45h4.76v1.35h-4.76zM361.09 549.88h4.76v1.35h-4.76zM361.09 553.85h4.76v1.35h-4.76zM361.09 572.40h4.76v1.35h-4.76zM361.09 577.70h4.76v1.35h-4.76zM365.82 477.00h4.76v1.35h-4.76zM365.82 480.98h4.76v1.35h-4.76zM365.82 486.28h4.76v1.35h-4.76zM365.82 499.53h4.76v1.35h-4.76zM365.82 520.73h4.76v1.35h-4.76zM365.82 537.95h4.76v1.35h-4.76zM365.82 540.60h4.76v1.35h-4.76zM365.82 549.88h4.76v1.35h-4.76zM365.82 560.48h4.76v1.35h-4.76zM365.82 568.42h4.76v1.35h-4.76zM365.82 573.73h4.76v1.35h-4.76zM365.82 580.35h4.76v1.35h-4.76zM370.55 470.38h4.76v1.35h-4.76zM370.55 496.88h4.76v1.35h-4.76zM370.55 499.53h4.76v1.35h-4.76zM370.55 533.98h4.76v1.35h-4.76zM370.55 535.30h4.76v1.35h-4.76zM370.55 549.88h4.76v1.35h-4.76zM370.55 560.48h4.76v1.35h-4.76zM375.28 465.07h4.76v1.35h-4.76zM375.28 467.73h4.76v1.35h-4.76zM375.28 469.05h4.76v1.35h-4.76zM375.28 470.38h4.76v1.35h-4.76zM375.28 473.03h4.76v1.35h-4.76zM375.28 486.28h4.76v1.35h-4.76zM375.28 488.93h4.76v1.35h-4.76zM375.28 495.55h4.76v1.35h-4.76zM375.28 539.27h4.76v1.35h-4.76zM375.28 567.10h4.76v1.35h-4.76zM380.01 455.80h4.76v1.35h-4.76zM380.01 484.95h4.76v1.35h-4.76zM380.01 524.70h4.76v1.35h-4.76zM380.01 533.98h4.76v1.35h-4.76zM380.01 547.23h4.76v1.35h-4.76zM380.01 552.52h4.76v1.35h-4.76zM380.01 556.50h4.76v1.35h-4.76zM380.01 560.48h4.76v1.35h-4.76zM384.74 470.38h4.76v1.35h-4.76zM384.74 484.95h4.76v1.35h-4.76zM384.74 490.25h4.76v1.35h-4.76zM384.74 506.15h4.76v1.35h-4.76zM384.74 541.92h4.76v1.35h-4.76zM384.74 548.55h4.76v1.35h-4.76zM384.74 551.20h4.76v1.35h-4.76zM384.74 560.48h4.76v1.35h-4.76zM384.74 571.08h4.76v1.35h-4.76zM384.74 575.05h4.76v1.35h-4.76zM389.47 565.77h4.76v1.35h-4.76zM389.47 576.38h4.76v1.35h-4.76zM394.20 506.15h4.76v1.35h-4.76zM394.20 568.42h4.76v1.35h-4.76zM398.93 511.45h4.76v1.35h-4.76zM398.93 515.42h4.76v1.35h-4.76zM398.93 519.40h4.76v1.35h-4.76zM398.93 536.62h4.76v1.35h-4.76zM398.93 545.90h4.76v1.35h-4.76zM398.93 548.55h4.76v1.35h-4.76zM398.93 559.15h4.76v1.35h-4.76zM398.93 563.12h4.76v1.35h-4.76zM398.93 573.73h4.76v1.35h-4.76zM398.93 575.05h4.76v1.35h-4.76zM403.66 495.55h4.76v1.35h-4.76zM403.66 498.20h4.76v1.35h-4.76zM403.66 541.92h4.76v1.35h-4.76zM403.66 551.20h4.76v1.35h-4.76zM408.39 470.38h4.76v1.35h-4.76zM408.39 532.65h4.76v1.35h-4.76zM408.39 543.25h4.76v1.35h-4.76zM408.39 548.55h4.76v1.35h-4.76zM408.39 564.45h4.76v1.35h-4.76zM408.39 576.38h4.76v1.35h-4.76zM413.12 458.45h4.76v1.35h-4.76zM413.12 504.82h4.76v1.35h-4.76zM413.12 508.80h4.76v1.35h-4.76zM413.12 516.75h4.76v1.35h-4.76zM413.12 551.20h4.76v1.35h-4.76zM413.12 572.40h4.76v1.35h-4.76zM413.12 573.73h4.76v1.35h-4.76zM413.12 581.67h4.76v1.35h-4.76zM417.85 467.73h4.76v1.35h-4.76zM417.85 480.98h4.76v1.35h-4.76zM417.85 484.95h4.76v1.35h-4.76zM417.85 492.90h4.76v1.35h-4.76zM417.85 495.55h4.76v1.35h-4.76zM417.85 496.88h4.76v1.35h-4.76zM417.85 507.48h4.76v1.35h-4.76zM417.85 561.80h4.76v1.35h-4.76zM422.58 462.43h4.76v1.35h-4.76zM422.58 478.32h4.76v1.35h-4.76zM422.58 479.65h4.76v1.35h-4.76zM422.58 494.23h4.76v1.35h-4.76zM422.58 503.50h4.76v1.35h-4.76zM422.58 532.65h4.76v1.35h-4.76zM422.58 540.60h4.76v1.35h-4.76zM422.58 552.52h4.76v1.35h-4.76zM422.58 561.80h4.76v1.35h-4.76zM422.58 571.08h4.76v1.35h-4.76zM427.31 483.62h4.76v1.35h-4.76zM427.31 492.90h4.76v1.35h-4.76zM427.31 510.12h4.76v1.35h-4.76zM427.31 528.67h4.76v1.35h-4.76zM427.31 533.98h4.76v1.35h-4.76zM427.31 537.95h4.76v1.35h-4.76zM427.31 551.20h4.76v1.35h-4.76zM427.31 552.52h4.76v1.35h-4.76zM427.31 555.17h4.76v1.35h-4.76zM427.31 557.83h4.76v1.35h-4.76zM427.31 573.73h4.76v1.35h-4.76zM427.31 576.38h4.76v1.35h-4.76zM432.04 463.75h4.76v1.35h-4.76zM432.04 469.05h4.76v1.35h-4.76zM432.04 473.03h4.76v1.35h-4.76zM432.04 482.30h4.76v1.35h-4.76zM432.04 492.90h4.76v1.35h-4.76zM432.04 499.53h4.76v1.35h-4.76zM432.04 522.05h4.76v1.35h-4.76zM432.04 533.98h4.76v1.35h-4.76zM432.04 552.52h4.76v1.35h-4.76zM432.04 559.15h4.76v1.35h-4.76zM432.04 561.80h4.76v1.35h-4.76zM432.04 575.05h4.76v1.35h-4.76zM436.77 515.42h4.76v1.35h-4.76zM436.77 541.92h4.76v1.35h-4.76zM436.77 556.50h4.76v1.35h-4.76z" fill="#1d1c07"/>
<path d="M299.60 492.90h4.76v1.35h-4.76zM299.60 519.40h4.76v1.35h-4.76zM299.60 544.58h4.76v1.35h-4.76zM299.60 549.88h4.76v1.35h-4.76zM299.60 571.08h4.76v1.35h-4.76zM304.33 510.12h4.76v1.35h-4.76zM304.33 516.75h4.76v1.35h-4.76zM304.33 526.02h4.76v1.35h-4.76zM304.33 544.58h4.76v1.35h-4.76zM304.33 557.83h4.76v1.35h-4.76zM304.33 575.05h4.76v1.35h-4.76zM304.33 576.38h4.76v1.35h-4.76zM304.33 579.02h4.76v1.35h-4.76zM304.33 581.67h4.76v1.35h-4.76zM309.06 469.05h4.76v1.35h-4.76zM309.06 478.32h4.76v1.35h-4.76zM309.06 482.30h4.76v1.35h-4.76zM309.06 506.15h4.76v1.35h-4.76zM309.06 549.88h4.76v1.35h-4.76zM309.06 559.15h4.76v1.35h-4.76zM309.06 563.12h4.76v1.35h-4.76zM309.06 577.70h4.76v1.35h-4.76zM309.06 580.35h4.76v1.35h-4.76zM313.79 457.12h4.76v1.35h-4.76zM313.79 470.38h4.76v1.35h-4.76zM313.79 473.03h4.76v1.35h-4.76zM313.79 484.95h4.76v1.35h-4.76zM313.79 486.28h4.76v1.35h-4.76zM313.79 490.25h4.76v1.35h-4.76zM313.79 522.05h4.76v1.35h-4.76zM313.79 535.30h4.76v1.35h-4.76zM313.79 571.08h4.76v1.35h-4.76zM318.52 470.38h4.76v1.35h-4.76zM318.52 480.98h4.76v1.35h-4.76zM318.52 482.30h4.76v1.35h-4.76zM318.52 488.93h4.76v1.35h-4.76zM318.52 500.85h4.76v1.35h-4.76zM318.52 507.48h4.76v1.35h-4.76zM318.52 520.73h4.76v1.35h-4.76zM318.52 531.33h4.76v1.35h-4.76zM318.52 535.30h4.76v1.35h-4.76zM318.52 551.20h4.76v1.35h-4.76zM318.52 567.10h4.76v1.35h-4.76zM323.25 470.38h4.76v1.35h-4.76zM323.25 482.30h4.76v1.35h-4.76zM323.25 491.57h4.76v1.35h-4.76zM323.25 508.80h4.76v1.35h-4.76zM323.25 540.60h4.76v1.35h-4.76zM323.25 561.80h4.76v1.35h-4.76zM323.25 569.75h4.76v1.35h-4.76zM327.98 457.12h4.76v1.35h-4.76zM327.98 461.10h4.76v1.35h-4.76zM327.98 477.00h4.76v1.35h-4.76zM327.98 484.95h4.76v1.35h-4.76zM327.98 495.55h4.76v1.35h-4.76zM327.98 499.53h4.76v1.35h-4.76zM327.98 522.05h4.76v1.35h-4.76zM327.98 531.33h4.76v1.35h-4.76zM327.98 535.30h4.76v1.35h-4.76zM327.98 568.42h4.76v1.35h-4.76zM327.98 576.38h4.76v1.35h-4.76zM332.71 467.73h4.76v1.35h-4.76zM332.71 514.10h4.76v1.35h-4.76zM332.71 552.52h4.76v1.35h-4.76zM337.44 455.80h4.76v1.35h-4.76zM337.44 482.30h4.76v1.35h-4.76zM337.44 494.23h4.76v1.35h-4.76zM337.44 503.50h4.76v1.35h-4.76zM337.44 556.50h4.76v1.35h-4.76zM342.17 499.53h4.76v1.35h-4.76zM342.17 500.85h4.76v1.35h-4.76zM342.17 524.70h4.76v1.35h-4.76zM342.17 530.00h4.76v1.35h-4.76zM342.17 541.92h4.76v1.35h-4.76zM342.17 559.15h4.76v1.35h-4.76zM342.17 581.67h4.76v1.35h-4.76zM346.90 459.78h4.76v1.35h-4.76zM346.90 462.43h4.76v1.35h-4.76zM346.90 469.05h4.76v1.35h-4.76zM346.90 475.68h4.76v1.35h-4.76zM346.90 479.65h4.76v1.35h-4.76zM346.90 486.28h4.76v1.35h-4.76zM346.90 504.82h4.76v1.35h-4.76zM346.90 516.75h4.76v1.35h-4.76zM346.90 522.05h4.76v1.35h-4.76zM346.90 524.70h4.76v1.35h-4.76zM346.90 533.98h4.76v1.35h-4.76zM346.90 571.08h4.76v1.35h-4.76zM346.90 577.70h4.76v1.35h-4.76zM351.63 455.80h4.76v1.35h-4.76zM351.63 469.05h4.76v1.35h-4.76zM351.63 523.38h4.76v1.35h-4.76zM351.63 526.02h4.76v1.35h-4.76zM351.63 531.33h4.76v1.35h-4.76zM351.63 569.75h4.76v1.35h-4.76zM351.63 579.02h4.76v1.35h-4.76zM356.36 556.50h4.76v1.35h-4.76zM356.36 573.73h4.76v1.35h-4.76zM356.36 575.05h4.76v1.35h-4.76zM361.09 560.48h4.76v1.35h-4.76zM361.09 568.42h4.76v1.35h-4.76zM365.82 502.18h4.76v1.35h-4.76zM365.82 503.50h4.76v1.35h-4.76zM370.55 457.12h4.76v1.35h-4.76zM370.55 467.73h4.76v1.35h-4.76zM370.55 473.03h4.76v1.35h-4.76zM370.55 483.62h4.76v1.35h-4.76zM370.55 488.93h4.76v1.35h-4.76zM370.55 494.23h4.76v1.35h-4.76zM370.55 530.00h4.76v1.35h-4.76zM375.28 482.30h4.76v1.35h-4.76zM375.28 487.60h4.76v1.35h-4.76zM375.28 541.92h4.76v1.35h-4.76zM375.28 544.58h4.76v1.35h-4.76zM375.28 557.83h4.76v1.35h-4.76zM380.01 457.12h4.76v1.35h-4.76zM380.01 465.07h4.76v1.35h-4.76zM380.01 478.32h4.76v1.35h-4.76zM380.01 480.98h4.76v1.35h-4.76zM380.01 487.60h4.76v1.35h-4.76zM380.01 512.77h4.76v1.35h-4.76zM380.01 516.75h4.76v1.35h-4.76zM380.01 544.58h4.76v1.35h-4.76zM380.01 567.10h4.76v1.35h-4.76zM384.74 457.12h4.76v1.35h-4.76zM384.74 477.00h4.76v1.35h-4.76zM384.74 480.98h4.76v1.35h-4.76zM384.74 530.00h4.76v1.35h-4.76zM384.74 533.98h4.76v1.35h-4.76zM384.74 539.27h4.76v1.35h-4.76zM384.74 556.50h4.76v1.35h-4.76zM384.74 559.15h4.76v1.35h-4.76zM384.74 563.12h4.76v1.35h-4.76zM384.74 564.45h4.76v1.35h-4.76zM384.74 565.77h4.76v1.35h-4.76zM384.74 576.38h4.76v1.35h-4.76zM389.47 462.43h4.76v1.35h-4.76zM389.47 469.05h4.76v1.35h-4.76zM389.47 487.60h4.76v1.35h-4.76zM389.47 543.25h4.76v1.35h-4.76zM389.47 561.80h4.76v1.35h-4.76zM389.47 580.35h4.76v1.35h-4.76zM394.20 535.30h4.76v1.35h-4.76zM394.20 536.62h4.76v1.35h-4.76zM394.20 543.25h4.76v1.35h-4.76zM394.20 571.08h4.76v1.35h-4.76zM398.93 547.23h4.76v1.35h-4.76zM398.93 561.80h4.76v1.35h-4.76zM398.93 572.40h4.76v1.35h-4.76zM403.66 518.08h4.76v1.35h-4.76zM403.66 569.75h4.76v1.35h-4.76zM408.39 511.45h4.76v1.35h-4.76zM408.39 539.27h4.76v1.35h-4.76zM408.39 545.90h4.76v1.35h-4.76zM408.39 559.15h4.76v1.35h-4.76zM408.39 573.73h4.76v1.35h-4.76zM413.12 462.43h4.76v1.35h-4.76zM413.12 479.65h4.76v1.35h-4.76zM413.12 486.28h4.76v1.35h-4.76zM413.12 487.60h4.76v1.35h-4.76zM413.12 492.90h4.76v1.35h-4.76zM413.12 518.08h4.76v1.35h-4.76zM413.12 524.70h4.76v1.35h-4.76zM413.12 539.27h4.76v1.35h-4.76zM413.12 544.58h4.76v1.35h-4.76zM413.12 545.90h4.76v1.35h-4.76zM413.12 553.85h4.76v1.35h-4.76zM413.12 555.17h4.76v1.35h-4.76zM413.12 576.38h4.76v1.35h-4.76zM417.85 490.25h4.76v1.35h-4.76zM417.85 530.00h4.76v1.35h-4.76zM417.85 531.33h4.76v1.35h-4.76zM417.85 552.52h4.76v1.35h-4.76zM417.85 556.50h4.76v1.35h-4.76zM417.85 557.83h4.76v1.35h-4.76zM417.85 573.73h4.76v1.35h-4.76zM422.58 469.05h4.76v1.35h-4.76zM422.58 506.15h4.76v1.35h-4.76zM422.58 510.12h4.76v1.35h-4.76zM422.58 516.75h4.76v1.35h-4.76zM422.58 533.98h4.76v1.35h-4.76zM422.58 545.90h4.76v1.35h-4.76zM422.58 548.55h4.76v1.35h-4.76zM422.58 572.40h4.76v1.35h-4.76zM422.58 577.70h4.76v1.35h-4.76zM422.58 581.67h4.76v1.35h-4.76zM427.31 459.78h4.76v1.35h-4.76zM427.31 473.03h4.76v1.35h-4.76zM427.31 477.00h4.76v1.35h-4.76zM427.31 499.53h4.76v1.35h-4.76zM427.31 516.75h4.76v1.35h-4.76zM427.31 518.08h4.76v1.35h-4.76zM427.31 519.40h4.76v1.35h-4.76zM427.31 536.62h4.76v1.35h-4.76zM427.31 568.42h4.76v1.35h-4.76zM432.04 477.00h4.76v1.35h-4.76zM432.04 484.95h4.76v1.35h-4.76zM432.04 486.28h4.76v1.35h-4.76zM432.04 495.55h4.76v1.35h-4.76zM432.04 507.48h4.76v1.35h-4.76zM432.04 508.80h4.76v1.35h-4.76zM432.04 510.12h4.76v1.35h-4.76zM432.04 564.45h4.76v1.35h-4.76zM432.04 568.42h4.76v1.35h-4.76zM432.04 573.73h4.76v1.35h-4.76zM432.04 579.02h4.76v1.35h-4.76zM436.77 463.75h4.76v1.35h-4.76zM436.77 510.12h4.76v1.35h-4.76zM436.77 511.45h4.76v1.35h-4.76zM436.77 516.75h4.76v1.35h-4.76zM436.77 522.05h4.76v1.35h-4.76zM436.77 533.98h4.76v1.35h-4.76zM436.77 537.95h4.76v1.35h-4.76zM436.77 547.23h4.76v1.35h-4.76zM436.77 553.85h4.76v1.35h-4.76zM436.77 571.08h4.76v1.35h-4.76z" fill="#2b2a0a"/>
<path d="M299.60 500.85h4.76v1.35h-4.76zM299.60 557.83h4.76v1.35h-4.76zM299.60 559.15h4.76v1.35h-4.76zM299.60 565.77h4.76v1.35h-4.76zM304.33 492.90h4.76v1.35h-4.76zM304.33 518.08h4.76v1.35h-4.76zM304.33 565.77h4.76v1.35h-4.76zM304.33 572.40h4.76v1.35h-4.76zM309.06 569.75h4.76v1.35h-4.76zM309.06 571.08h4.76v1.35h-4.76zM313.79 458.45h4.76v1.35h-4.76zM313.79 556.50h4.76v1.35h-4.76zM313.79 565.77h4.76v1.35h-4.76zM318.52 461.10h4.76v1.35h-4.76zM318.52 495.55h4.76v1.35h-4.76zM318.52 496.88h4.76v1.35h-4.76zM318.52 504.82h4.76v1.35h-4.76zM318.52 510.12h4.76v1.35h-4.76zM318.52 518.08h4.76v1.35h-4.76zM323.25 459.78h4.76v1.35h-4.76zM323.25 486.28h4.76v1.35h-4.76zM323.25 499.53h4.76v1.35h-4.76zM323.25 514.10h4.76v1.35h-4.76zM323.25 522.05h4.76v1.35h-4.76zM327.98 473.03h4.76v1.35h-4.76zM327.98 491.57h4.76v1.35h-4.76zM327.98 518.08h4.76v1.35h-4.76zM327.98 557.83h4.76v1.35h-4.76zM327.98 572.40h4.76v1.35h-4.76zM332.71 479.65h4.76v1.35h-4.76zM332.71 532.65h4.76v1.35h-4.76zM332.71 549.88h4.76v1.35h-4.76zM332.71 572.40h4.76v1.35h-4.76zM337.44 479.65h4.76v1.35h-4.76zM337.44 510.12h4.76v1.35h-4.76zM337.44 544.58h4.76v1.35h-4.76zM342.17 455.80h4.76v1.35h-4.76zM342.17 467.73h4.76v1.35h-4.76zM342.17 474.35h4.76v1.35h-4.76zM342.17 487.60h4.76v1.35h-4.76zM342.17 531.33h4.76v1.35h-4.76zM342.17 540.60h4.76v1.35h-4.76zM342.17 549.88h4.76v1.35h-4.76zM342.17 556.50h4.76v1.35h-4.76zM342.17 560.48h4.76v1.35h-4.76zM342.17 572.40h4.76v1.35h-4.76zM346.90 458.45h4.76v1.35h-4.76zM346.90 470.38h4.76v1.35h-4.76zM346.90 477.00h4.76v1.35h-4.76zM346.90 484.95h4.76v1.35h-4.76zM346.90 487.60h4.76v1.35h-4.76zM346.90 490.25h4.76v1.35h-4.76zM346.90 494.23h4.76v1.35h-4.76zM346.90 512.77h4.76v1.35h-4.76zM346.90 532.65h4.76v1.35h-4.76zM346.90 540.60h4.76v1.35h-4.76zM346.90 548.55h4.76v1.35h-4.76zM346.90 559.15h4.76v1.35h-4.76zM346.90 575.05h4.76v1.35h-4.76zM351.63 462.43h4.76v1.35h-4.76zM351.63 473.03h4.76v1.35h-4.76zM351.63 490.25h4.76v1.35h-4.76zM351.63 499.53h4.76v1.35h-4.76zM351.63 557.83h4.76v1.35h-4.76zM351.63 568.42h4.76v1.35h-4.76zM351.63 573.73h4.76v1.35h-4.76zM356.36 553.85h4.76v1.35h-4.76zM356.36 560.48h4.76v1.35h-4.76zM356.36 561.80h4.76v1.35h-4.76zM356.36 568.42h4.76v1.35h-4.76zM361.09 499.53h4.76v1.35h-4.76zM361.09 563.12h4.76v1.35h-4.76zM361.09 569.75h4.76v1.35h-4.76zM361.09 575.05h4.76v1.35h-4.76zM365.82 467.73h4.76v1.35h-4.76zM365.82 479.65h4.76v1.35h-4.76zM365.82 522.05h4.76v1.35h-4.76zM365.82 526.02h4.76v1.35h-4.76zM365.82 539.27h4.76v1.35h-4.76zM365.82 544.58h4.76v1.35h-4.76zM370.55 502.18h4.76v1.35h-4.76zM370.55 504.82h4.76v1.35h-4.76zM370.55 551.20h4.76v1.35h-4.76zM370.55 581.67h4.76v1.35h-4.76zM375.28 477.00h4.76v1.35h-4.76zM375.28 526.02h4.76v1.35h-4.76zM375.28 530.00h4.76v1.35h-4.76zM375.28 563.12h4.76v1.35h-4.76zM380.01 463.75h4.76v1.35h-4.76zM380.01 467.73h4.76v1.35h-4.76zM380.01 488.93h4.76v1.35h-4.76zM380.01 492.90h4.76v1.35h-4.76zM380.01 507.48h4.76v1.35h-4.76zM380.01 532.65h4.76v1.35h-4.76zM380.01 535.30h4.76v1.35h-4.76zM380.01 539.27h4.76v1.35h-4.76zM380.01 543.25h4.76v1.35h-4.76zM380.01 553.85h4.76v1.35h-4.76zM380.01 565.77h4.76v1.35h-4.76zM380.01 575.05h4.76v1.35h-4.76zM384.74 459.78h4.76v1.35h-4.76zM384.74 568.42h4.76v1.35h-4.76zM384.74 572.40h4.76v1.35h-4.76zM384.74 577.70h4.76v1.35h-4.76zM389.47 455.80h4.76v1.35h-4.76zM389.47 459.78h4.76v1.35h-4.76zM389.47 473.03h4.76v1.35h-4.76zM389.47 480.98h4.76v1.35h-4.76zM389.47 491.57h4.76v1.35h-4.76zM389.47 551.20h4.76v1.35h-4.76zM394.20 499.53h4.76v1.35h-4.76zM394.20 500.85h4.76v1.35h-4.76zM394.20 533.98h4.76v1.35h-4.76zM394.20 544.58h4.76v1.35h-4.76zM394.20 549.88h4.76v1.35h-4.76zM394.20 561.80h4.76v1.35h-4.76zM394.20 580.35h4.76v1.35h-4.76zM398.93 473.03h4.76v1.35h-4.76zM398.93 512.77h4.76v1.35h-4.76zM398.93 524.70h4.76v1.35h-4.76zM398.93 565.77h4.76v1.35h-4.76zM403.66 526.02h4.76v1.35h-4.76zM403.66 540.60h4.76v1.35h-4.76zM403.66 552.52h4.76v1.35h-4.76zM403.66 553.85h4.76v1.35h-4.76zM403.66 564.45h4.76v1.35h-4.76zM408.39 512.77h4.76v1.35h-4.76zM408.39 556.50h4.76v1.35h-4.76zM408.39 561.80h4.76v1.35h-4.76zM408.39 563.12h4.76v1.35h-4.76zM408.39 569.75h4.76v1.35h-4.76zM413.12 500.85h4.76v1.35h-4.76zM413.12 514.10h4.76v1.35h-4.76zM413.12 522.05h4.76v1.35h-4.76zM413.12 549.88h4.76v1.35h-4.76zM413.12 557.83h4.76v1.35h-4.76zM417.85 478.32h4.76v1.35h-4.76zM417.85 488.93h4.76v1.35h-4.76zM417.85 499.53h4.76v1.35h-4.76zM417.85 502.18h4.76v1.35h-4.76zM417.85 514.10h4.76v1.35h-4.76zM417.85 515.42h4.76v1.35h-4.76zM417.85 543.25h4.76v1.35h-4.76zM417.85 544.58h4.76v1.35h-4.76zM417.85 575.05h4.76v1.35h-4.76zM417.85 576.38h4.76v1.35h-4.76zM417.85 580.35h4.76v1.35h-4.76zM422.58 461.10h4.76v1.35h-4.76zM422.58 463.75h4.76v1.35h-4.76zM422.58 471.70h4.76v1.35h-4.76zM422.58 482.30h4.76v1.35h-4.76zM422.58 526.02h4.76v1.35h-4.76zM422.58 535.30h4.76v1.35h-4.76zM422.58 537.95h4.76v1.35h-4.76zM422.58 547.23h4.76v1.35h-4.76zM422.58 555.17h4.76v1.35h-4.76zM422.58 557.83h4.76v1.35h-4.76zM427.31 470.38h4.76v1.35h-4.76zM427.31 494.23h4.76v1.35h-4.76zM427.31 508.80h4.76v1.35h-4.76zM427.31 512.77h4.76v1.35h-4.76zM427.31 532.65h4.76v1.35h-4.76zM427.31 543.25h4.76v1.35h-4.76zM427.31 544.58h4.76v1.35h-4.76zM427.31 548.55h4.76v1.35h-4.76zM427.31 567.10h4.76v1.35h-4.76zM427.31 571.08h4.76v1.35h-4.76zM427.31 572.40h4.76v1.35h-4.76zM427.31 580.35h4.76v1.35h-4.76zM432.04 470.38h4.76v1.35h-4.76zM432.04 503.50h4.76v1.35h-4.76zM432.04 524.70h4.76v1.35h-4.76zM432.04 537.95h4.76v1.35h-4.76zM432.04 556.50h4.76v1.35h-4.76zM432.04 560.48h4.76v1.35h-4.76zM432.04 581.67h4.76v1.35h-4.76zM436.77 479.65h4.76v1.35h-4.76zM436.77 482.30h4.76v1.35h-4.76zM436.77 492.90h4.76v1.35h-4.76zM436.77 507.48h4.76v1.35h-4.76zM436.77 508.80h4.76v1.35h-4.76zM436.77 518.08h4.76v1.35h-4.76zM436.77 539.27h4.76v1.35h-4.76zM436.77 576.38h4.76v1.35h-4.76z" fill="#3a380e"/>
<path d="M299.60 479.65h4.76v1.35h-4.76zM299.60 512.77h4.76v1.35h-4.76zM299.60 523.38h4.76v1.35h-4.76zM299.60 561.80h4.76v1.35h-4.76zM299.60 563.12h4.76v1.35h-4.76zM299.60 573.73h4.76v1.35h-4.76zM299.60 577.70h4.76v1.35h-4.76zM299.60 581.67h4.76v1.35h-4.76zM304.33 480.98h4.76v1.35h-4.76zM304.33 515.42h4.76v1.35h-4.76zM304.33 537.95h4.76v1.35h-4.76zM304.33 556.50h4.76v1.35h-4.76zM304.33 559.15h4.76v1.35h-4.76zM304.33 569.75h4.76v1.35h-4.76zM309.06 495.55h4.76v1.35h-4.76zM309.06 496.88h4.76v1.35h-4.76zM309.06 504.82h4.76v1.35h-4.76zM309.06 512.77h4.76v1.35h-4.76zM309.06 515.42h4.76v1.35h-4.76zM309.06 531.33h4.76v1.35h-4.76zM309.06 557.83h4.76v1.35h-4.76zM313.79 459.78h4.76v1.35h-4.76zM313.79 469.05h4.76v1.35h-4.76zM313.79 500.85h4.76v1.35h-4.76zM313.79 502.18h4.76v1.35h-4.76zM313.79 510.12h4.76v1.35h-4.76zM313.79 511.45h4.76v1.35h-4.76zM313.79 524.70h4.76v1.35h-4.76zM313.79 549.88h4.76v1.35h-4.76zM313.79 560.48h4.76v1.35h-4.76zM313.79 576.38h4.76v1.35h-4.76zM313.79 580.35h4.76v1.35h-4.76zM318.52 459.78h4.76v1.35h-4.76zM318.52 503.50h4.76v1.35h-4.76zM318.52 519.40h4.76v1.35h-4.76zM318.52 571.08h4.76v1.35h-4.76zM323.25 462.43h4.76v1.35h-4.76zM323.25 477.00h4.76v1.35h-4.76zM323.25 488.93h4.76v1.35h-4.76zM323.25 515.42h4.76v1.35h-4.76zM323.25 516.75h4.76v1.35h-4.76zM323.25 556.50h4.76v1.35h-4.76zM327.98 463.75h4.76v1.35h-4.76zM327.98 469.05h4.76v1.35h-4.76zM327.98 508.80h4.76v1.35h-4.76zM327.98 514.10h4.76v1.35h-4.76zM327.98 520.73h4.76v1.35h-4.76zM327.98 553.85h4.76v1.35h-4.76zM327.98 575.05h4.76v1.35h-4.76zM332.71 461.10h4.76v1.35h-4.76zM332.71 462.43h4.76v1.35h-4.76zM332.71 470.38h4.76v1.35h-4.76zM332.71 484.95h4.76v1.35h-4.76zM332.71 494.23h4.76v1.35h-4.76zM332.71 515.42h4.76v1.35h-4.76zM332.71 530.00h4.76v1.35h-4.76zM337.44 514.10h4.76v1.35h-4.76zM337.44 520.73h4.76v1.35h-4.76zM337.44 577.70h4.76v1.35h-4.76zM342.17 479.65h4.76v1.35h-4.76zM342.17 491.57h4.76v1.35h-4.76zM342.17 495.55h4.76v1.35h-4.76zM342.17 496.88h4.76v1.35h-4.76zM342.17 502.18h4.76v1.35h-4.76zM342.17 504.82h4.76v1.35h-4.76zM342.17 516.75h4.76v1.35h-4.76zM342.17 519.40h4.76v1.35h-4.76zM342.17 532.65h4.76v1.35h-4.76zM342.17 557.83h4.76v1.35h-4.76zM342.17 571.08h4.76v1.35h-4.76zM342.17 575.05h4.76v1.35h-4.76zM342.17 580.35h4.76v1.35h-4.76zM346.90 492.90h4.76v1.35h-4.76zM346.90 496.88h4.76v1.35h-4.76zM346.90 519.40h4.76v1.35h-4.76zM346.90 580.35h4.76v1.35h-4.76zM351.63 463.75h4.76v1.35h-4.76zM351.63 471.70h4.76v1.35h-4.76zM351.63 479.65h4.76v1.35h-4.76zM351.63 482.30h4.76v1.35h-4.76zM351.63 506.15h4.76v1.35h-4.76zM351.63 508.80h4.76v1.35h-4.76zM351.63 510.12h4.76v1.35h-4.76zM351.63 518.08h4.76v1.35h-4.76zM351.63 519.40h4.76v1.35h-4.76zM351.63 567.10h4.76v1.35h-4.76zM351.63 571.08h4.76v1.35h-4.76zM356.36 580.35h4.76v1.35h-4.76zM365.82 455.80h4.76v1.35h-4.76zM365.82 459.78h4.76v1.35h-4.76zM365.82 465.07h4.76v1.35h-4.76zM365.82 469.05h4.76v1.35h-4.76zM365.82 470.38h4.76v1.35h-4.76zM365.82 473.03h4.76v1.35h-4.76zM365.82 478.32h4.76v1.35h-4.76zM365.82 518.08h4.76v1.35h-4.76zM365.82 524.70h4.76v1.35h-4.76zM365.82 531.33h4.76v1.35h-4.76zM365.82 547.23h4.76v1.35h-4.76zM370.55 463.75h4.76v1.35h-4.76zM370.55 474.35h4.76v1.35h-4.76zM370.55 508.80h4.76v1.35h-4.76zM370.55 518.08h4.76v1.35h-4.76zM370.55 519.40h4.76v1.35h-4.76zM370.55 520.73h4.76v1.35h-4.76zM370.55 540.60h4.76v1.35h-4.76zM370.55 565.77h4.76v1.35h-4.76zM375.28 475.68h4.76v1.35h-4.76zM375.28 492.90h4.76v1.35h-4.76zM375.28 527.35h4.76v1.35h-4.76zM380.01 461.10h4.76v1.35h-4.76zM380.01 466.40h4.76v1.35h-4.76zM380.01 479.65h4.76v1.35h-4.76zM380.01 483.62h4.76v1.35h-4.76zM380.01 530.00h4.76v1.35h-4.76zM380.01 536.62h4.76v1.35h-4.76zM380.01 548.55h4.76v1.35h-4.76zM380.01 569.75h4.76v1.35h-4.76zM384.74 473.03h4.76v1.35h-4.76zM384.74 540.60h4.76v1.35h-4.76zM384.74 545.90h4.76v1.35h-4.76zM384.74 552.52h4.76v1.35h-4.76zM384.74 567.10h4.76v1.35h-4.76zM384.74 573.73h4.76v1.35h-4.76zM384.74 579.02h4.76v1.35h-4.76zM384.74 581.67h4.76v1.35h-4.76zM389.47 478.32h4.76v1.35h-4.76zM389.47 479.65h4.76v1.35h-4.76zM389.47 484.95h4.76v1.35h-4.76zM389.47 523.38h4.76v1.35h-4.76zM389.47 527.35h4.76v1.35h-4.76zM389.47 541.92h4.76v1.35h-4.76zM389.47 560.48h4.76v1.35h-4.76zM389.47 563.12h4.76v1.35h-4.76zM389.47 568.42h4.76v1.35h-4.76zM394.20 524.70h4.76v1.35h-4.76zM394.20 530.00h4.76v1.35h-4.76zM394.20 559.15h4.76v1.35h-4.76zM394.20 569.75h4.76v1.35h-4.76zM394.20 579.02h4.76v1.35h-4.76zM398.93 532.65h4.76v1.35h-4.76zM398.93 552.52h4.76v1.35h-4.76zM403.66 532.65h4.76v1.35h-4.76zM403.66 535.30h4.76v1.35h-4.76zM403.66 549.88h4.76v1.35h-4.76zM403.66 557.83h4.76v1.35h-4.76zM408.39 549.88h4.76v1.35h-4.76zM413.12 461.10h4.76v1.35h-4.76zM413.12 465.07h4.76v1.35h-4.76zM413.12 470.38h4.76v1.35h-4.76zM413.12 474.35h4.76v1.35h-4.76zM413.12 503.50h4.76v1.35h-4.76zM413.12 506.15h4.76v1.35h-4.76zM413.12 511.45h4.76v1.35h-4.76zM413.12 526.02h4.76v1.35h-4.76zM413.12 531.33h4.76v1.35h-4.76zM413.12 556.50h4.76v1.35h-4.76zM413.12 560.48h4.76v1.35h-4.76zM413.12 580.35h4.76v1.35h-4.76zM417.85 491.57h4.76v1.35h-4.76zM417.85 526.02h4.76v1.35h-4.76zM417.85 527.35h4.76v1.35h-4.76zM417.85 547.23h4.76v1.35h-4.76zM417.85 548.55h4.76v1.35h-4.76zM417.85 569.75h4.76v1.35h-4.76zM422.58 455.80h4.76v1.35h-4.76zM422.58 473.03h4.76v1.35h-4.76zM422.58 486.28h4.76v1.35h-4.76zM422.58 496.88h4.76v1.35h-4.76zM422.58 528.67h4.76v1.35h-4.76zM422.58 551.20h4.76v1.35h-4.76zM422.58 580.35h4.76v1.35h-4.76zM427.31 458.45h4.76v1.35h-4.76zM427.31 471.70h4.76v1.35h-4.76zM427.31 478.32h4.76v1.35h-4.76zM427.31 479.65h4.76v1.35h-4.76zM427.31 496.88h4.76v1.35h-4.76zM427.31 503.50h4.76v1.35h-4.76zM427.31 514.10h4.76v1.35h-4.76zM427.31 549.88h4.76v1.35h-4.76zM427.31 561.80h4.76v1.35h-4.76zM432.04 465.07h4.76v1.35h-4.76zM432.04 479.65h4.76v1.35h-4.76zM432.04 480.98h4.76v1.35h-4.76zM432.04 491.57h4.76v1.35h-4.76zM432.04 536.62h4.76v1.35h-4.76zM432.04 544.58h4.76v1.35h-4.76zM432.04 545.90h4.76v1.35h-4.76zM432.04 551.20h4.76v1.35h-4.76zM432.04 563.12h4.76v1.35h-4.76zM436.77 490.25h4.76v1.35h-4.76zM436.77 500.85h4.76v1.35h-4.76zM436.77 540.60h4.76v1.35h-4.76zM436.77 569.75h4.76v1.35h-4.76z" fill="#484612"/>
<path d="M299.60 511.45h4.76v1.35h-4.76zM299.60 516.75h4.76v1.35h-4.76zM299.60 520.73h4.76v1.35h-4.76zM299.60 579.02h4.76v1.35h-4.76zM304.33 507.48h4.76v1.35h-4.76zM304.33 511.45h4.76v1.35h-4.76zM304.33 523.38h4.76v1.35h-4.76zM304.33 580.35h4.76v1.35h-4.76zM309.06 519.40h4.76v1.35h-4.76zM309.06 524.70h4.76v1.35h-4.76zM313.79 461.10h4.76v1.35h-4.76zM313.79 463.75h4.76v1.35h-4.76zM313.79 467.73h4.76v1.35h-4.76zM313.79 504.82h4.76v1.35h-4.76zM313.79 512.77h4.76v1.35h-4.76zM313.79 514.10h4.76v1.35h-4.76zM313.79 523.38h4.76v1.35h-4.76zM318.52 478.32h4.76v1.35h-4.76zM318.52 486.28h4.76v1.35h-4.76zM318.52 490.25h4.76v1.35h-4.76zM318.52 491.57h4.76v1.35h-4.76zM318.52 557.83h4.76v1.35h-4.76zM318.52 581.67h4.76v1.35h-4.76zM323.25 518.08h4.76v1.35h-4.76zM323.25 523.38h4.76v1.35h-4.76zM327.98 465.07h4.76v1.35h-4.76zM327.98 470.38h4.76v1.35h-4.76zM327.98 530.00h4.76v1.35h-4.76zM327.98 563.12h4.76v1.35h-4.76zM327.98 581.67h4.76v1.35h-4.76zM332.71 471.70h4.76v1.35h-4.76zM332.71 560.48h4.76v1.35h-4.76zM332.71 568.42h4.76v1.35h-4.76zM332.71 577.70h4.76v1.35h-4.76zM337.44 473.03h4.76v1.35h-4.76zM337.44 506.15h4.76v1.35h-4.76zM337.44 567.10h4.76v1.35h-4.76zM337.44 576.38h4.76v1.35h-4.76zM342.17 462.43h4.76v1.35h-4.76zM342.17 510.12h4.76v1.35h-4.76zM342.17 518.08h4.76v1.35h-4.76zM342.17 543.25h4.76v1.35h-4.76zM346.90 457.12h4.76v1.35h-4.76zM346.90 478.32h4.76v1.35h-4.76zM346.90 488.93h4.76v1.35h-4.76zM346.90 499.53h4.76v1.35h-4.76zM346.90 500.85h4.76v1.35h-4.76zM346.90 502.18h4.76v1.35h-4.76zM346.90 514.10h4.76v1.35h-4.76zM346.90 573.73h4.76v1.35h-4.76zM346.90 581.67h4.76v1.35h-4.76zM351.63 467.73h4.76v1.35h-4.76zM351.63 475.68h4.76v1.35h-4.76zM351.63 480.98h4.76v1.35h-4.76zM351.63 483.62h4.76v1.35h-4.76zM351.63 486.28h4.76v1.35h-4.76zM351.63 496.88h4.76v1.35h-4.76zM351.63 572.40h4.76v1.35h-4.76zM351.63 581.67h4.76v1.35h-4.76zM361.09 559.15h4.76v1.35h-4.76zM365.82 484.95h4.76v1.35h-4.76zM365.82 488.93h4.76v1.35h-4.76zM365.82 512.77h4.76v1.35h-4.76zM370.55 465.07h4.76v1.35h-4.76zM370.55 527.35h4.76v1.35h-4.76zM370.55 536.62h4.76v1.35h-4.76zM375.28 478.32h4.76v1.35h-4.76zM375.28 490.25h4.76v1.35h-4.76zM375.28 535.30h4.76v1.35h-4.76zM375.28 536.62h4.76v1.35h-4.76zM375.28 540.60h4.76v1.35h-4.76zM380.01 470.38h4.76v1.35h-4.76zM380.01 475.68h4.76v1.35h-4.76zM380.01 494.23h4.76v1.35h-4.76zM380.01 495.55h4.76v1.35h-4.76zM380.01 573.73h4.76v1.35h-4.76zM384.74 455.80h4.76v1.35h-4.76zM384.74 458.45h4.76v1.35h-4.76zM384.74 465.07h4.76v1.35h-4.76zM384.74 486.28h4.76v1.35h-4.76zM384.74 488.93h4.76v1.35h-4.76zM384.74 491.57h4.76v1.35h-4.76zM384.74 527.35h4.76v1.35h-4.76zM384.74 528.67h4.76v1.35h-4.76zM384.74 535.30h4.76v1.35h-4.76zM384.74 537.95h4.76v1.35h-4.76zM389.47 463.75h4.76v1.35h-4.76zM389.47 475.68h4.76v1.35h-4.76zM389.47 477.00h4.76v1.35h-4.76zM389.47 483.62h4.76v1.35h-4.76zM389.47 496.88h4.76v1.35h-4.76zM389.47 536.62h4.76v1.35h-4.76zM389.47 545.90h4.76v1.35h-4.76zM389.47 577.70h4.76v1.35h-4.76zM394.20 512.77h4.76v1.35h-4.76zM394.20 553.85h4.76v1.35h-4.76zM398.93 555.17h4.76v1.35h-4.76zM403.66 531.33h4.76v1.35h-4.76zM403.66 572.40h4.76v1.35h-4.76zM403.66 576.38h4.76v1.35h-4.76zM408.39 530.00h4.76v1.35h-4.76zM408.39 535.30h4.76v1.35h-4.76zM408.39 544.58h4.76v1.35h-4.76zM413.12 455.80h4.76v1.35h-4.76zM413.12 463.75h4.76v1.35h-4.76zM413.12 466.40h4.76v1.35h-4.76zM413.12 520.73h4.76v1.35h-4.76zM413.12 530.00h4.76v1.35h-4.76zM413.12 532.65h4.76v1.35h-4.76zM413.12 540.60h4.76v1.35h-4.76zM413.12 559.15h4.76v1.35h-4.76zM413.12 565.77h4.76v1.35h-4.76zM413.12 568.42h4.76v1.35h-4.76zM417.85 479.65h4.76v1.35h-4.76zM417.85 540.60h4.76v1.35h-4.76zM417.85 559.15h4.76v1.35h-4.76zM417.85 560.48h4.76v1.35h-4.76zM417.85 572.40h4.76v1.35h-4.76zM422.58 457.12h4.76v1.35h-4.76zM422.58 487.60h4.76v1.35h-4.76zM422.58 553.85h4.76v1.35h-4.76zM427.31 520.73h4.76v1.35h-4.76zM427.31 539.27h4.76v1.35h-4.76zM427.31 569.75h4.76v1.35h-4.76zM427.31 577.70h4.76v1.35h-4.76zM427.31 581.67h4.76v1.35h-4.76zM432.04 487.60h4.76v1.35h-4.76zM432.04 490.25h4.76v1.35h-4.76zM432.04 494.23h4.76v1.35h-4.76zM432.04 502.18h4.76v1.35h-4.76zM432.04 527.35h4.76v1.35h-4.76zM432.04 532.65h4.76v1.35h-4.76zM432.04 548.55h4.76v1.35h-4.76zM432.04 557.83h4.76v1.35h-4.76zM436.77 484.95h4.76v1.35h-4.76zM436.77 487.60h4.76v1.35h-4.76zM436.77 503.50h4.76v1.35h-4.76zM436.77 524.70h4.76v1.35h-4.76zM436.77 561.80h4.76v1.35h-4.76z" fill="#575415"/>
<path d="M299.60 495.55h4.76v1.35h-4.76zM299.60 498.20h4.76v1.35h-4.76zM299.60 507.48h4.76v1.35h-4.76zM299.60 515.42h4.76v1.35h-4.76zM299.60 524.70h4.76v1.35h-4.76zM299.60 553.85h4.76v1.35h-4.76zM299.60 569.75h4.76v1.35h-4.76zM299.60 575.05h4.76v1.35h-4.76zM304.33 478.32h4.76v1.35h-4.76zM304.33 498.20h4.76v1.35h-4.76zM304.33 499.53h4.76v1.35h-4.76zM304.33 502.18h4.76v1.35h-4.76zM304.33 520.73h4.76v1.35h-4.76zM304.33 524.70h4.76v1.35h-4.76zM304.33 567.10h4.76v1.35h-4.76zM304.33 568.42h4.76v1.35h-4.76zM309.06 480.98h4.76v1.35h-4.76zM309.06 511.45h4.76v1.35h-4.76zM309.06 514.10h4.76v1.35h-4.76zM309.06 523.38h4.76v1.35h-4.76zM309.06 581.67h4.76v1.35h-4.76zM313.79 526.02h4.76v1.35h-4.76zM318.52 492.90h4.76v1.35h-4.76zM318.52 508.80h4.76v1.35h-4.76zM318.52 516.75h4.76v1.35h-4.76zM318.52 522.05h4.76v1.35h-4.76zM327.98 455.80h4.76v1.35h-4.76zM327.98 549.88h4.76v1.35h-4.76zM327.98 552.52h4.76v1.35h-4.76zM327.98 564.45h4.76v1.35h-4.76zM327.98 569.75h4.76v1.35h-4.76zM327.98 571.08h4.76v1.35h-4.76zM332.71 567.10h4.76v1.35h-4.76zM332.71 576.38h4.76v1.35h-4.76zM337.44 572.40h4.76v1.35h-4.76zM342.17 465.07h4.76v1.35h-4.76zM342.17 469.05h4.76v1.35h-4.76zM342.17 492.90h4.76v1.35h-4.76zM342.17 515.42h4.76v1.35h-4.76zM342.17 569.75h4.76v1.35h-4.76zM346.90 461.10h4.76v1.35h-4.76zM346.90 467.73h4.76v1.35h-4.76zM346.90 503.50h4.76v1.35h-4.76zM346.90 508.80h4.76v1.35h-4.76zM351.63 478.32h4.76v1.35h-4.76zM351.63 487.60h4.76v1.35h-4.76zM351.63 488.93h4.76v1.35h-4.76zM351.63 516.75h4.76v1.35h-4.76zM351.63 576.38h4.76v1.35h-4.76zM365.82 483.62h4.76v1.35h-4.76zM365.82 511.45h4.76v1.35h-4.76zM365.82 515.42h4.76v1.35h-4.76zM365.82 530.00h4.76v1.35h-4.76zM365.82 533.98h4.76v1.35h-4.76zM365.82 543.25h4.76v1.35h-4.76zM365.82 576.38h4.76v1.35h-4.76zM370.55 461.10h4.76v1.35h-4.76zM370.55 477.00h4.76v1.35h-4.76zM370.55 491.57h4.76v1.35h-4.76zM370.55 516.75h4.76v1.35h-4.76zM375.28 523.38h4.76v1.35h-4.76zM380.01 482.30h4.76v1.35h-4.76zM380.01 526.02h4.76v1.35h-4.76zM384.74 487.60h4.76v1.35h-4.76zM384.74 495.55h4.76v1.35h-4.76zM384.74 526.02h4.76v1.35h-4.76zM384.74 536.62h4.76v1.35h-4.76zM384.74 543.25h4.76v1.35h-4.76zM384.74 544.58h4.76v1.35h-4.76zM384.74 557.83h4.76v1.35h-4.76zM384.74 580.35h4.76v1.35h-4.76zM389.47 461.10h4.76v1.35h-4.76zM389.47 467.73h4.76v1.35h-4.76zM389.47 471.70h4.76v1.35h-4.76zM389.47 526.02h4.76v1.35h-4.76zM389.47 530.00h4.76v1.35h-4.76zM389.47 533.98h4.76v1.35h-4.76zM389.47 544.58h4.76v1.35h-4.76zM394.20 547.23h4.76v1.35h-4.76zM394.20 563.12h4.76v1.35h-4.76zM398.93 531.33h4.76v1.35h-4.76zM398.93 569.75h4.76v1.35h-4.76zM398.93 580.35h4.76v1.35h-4.76zM408.39 568.42h4.76v1.35h-4.76zM408.39 580.35h4.76v1.35h-4.76zM413.12 471.70h4.76v1.35h-4.76zM413.12 473.03h4.76v1.35h-4.76zM413.12 475.68h4.76v1.35h-4.76zM413.12 510.12h4.76v1.35h-4.76zM413.12 519.40h4.76v1.35h-4.76zM413.12 563.12h4.76v1.35h-4.76zM417.85 477.00h4.76v1.35h-4.76zM417.85 536.62h4.76v1.35h-4.76zM417.85 541.92h4.76v1.35h-4.76zM417.85 553.85h4.76v1.35h-4.76zM417.85 567.10h4.76v1.35h-4.76zM422.58 470.38h4.76v1.35h-4.76zM422.58 567.10h4.76v1.35h-4.76zM427.31 502.18h4.76v1.35h-4.76zM427.31 506.15h4.76v1.35h-4.76zM427.31 530.00h4.76v1.35h-4.76zM432.04 518.08h4.76v1.35h-4.76zM432.04 526.02h4.76v1.35h-4.76zM432.04 539.27h4.76v1.35h-4.76zM432.04 540.60h4.76v1.35h-4.76zM432.04 547.23h4.76v1.35h-4.76zM432.04 569.75h4.76v1.35h-4.76zM436.77 459.78h4.76v1.35h-4.76zM436.77 488.93h4.76v1.35h-4.76zM436.77 512.77h4.76v1.35h-4.76zM436.77 526.02h4.76v1.35h-4.76zM436.77 527.35h4.76v1.35h-4.76zM436.77 532.65h4.76v1.35h-4.76zM436.77 545.90h4.76v1.35h-4.76zM436.77 563.12h4.76v1.35h-4.76zM436.77 575.05h4.76v1.35h-4.76z" fill="#666219"/>
<path d="M299.60 502.18h4.76v1.35h-4.76zM299.60 510.12h4.76v1.35h-4.76zM309.06 500.85h4.76v1.35h-4.76zM309.06 508.80h4.76v1.35h-4.76zM313.79 499.53h4.76v1.35h-4.76zM313.79 506.15h4.76v1.35h-4.76zM313.79 518.08h4.76v1.35h-4.76zM313.79 519.40h4.76v1.35h-4.76zM318.52 556.50h4.76v1.35h-4.76zM318.52 569.75h4.76v1.35h-4.76zM327.98 471.70h4.76v1.35h-4.76zM327.98 519.40h4.76v1.35h-4.76zM332.71 487.60h4.76v1.35h-4.76zM332.71 491.57h4.76v1.35h-4.76zM342.17 461.10h4.76v1.35h-4.76zM342.17 483.62h4.76v1.35h-4.76zM342.17 484.95h4.76v1.35h-4.76zM342.17 508.80h4.76v1.35h-4.76zM342.17 553.85h4.76v1.35h-4.76zM346.90 465.07h4.76v1.35h-4.76zM346.90 466.40h4.76v1.35h-4.76zM346.90 507.48h4.76v1.35h-4.76zM346.90 515.42h4.76v1.35h-4.76zM351.63 477.00h4.76v1.35h-4.76zM365.82 457.12h4.76v1.35h-4.76zM365.82 487.60h4.76v1.35h-4.76zM365.82 492.90h4.76v1.35h-4.76zM365.82 527.35h4.76v1.35h-4.76zM370.55 455.80h4.76v1.35h-4.76zM370.55 478.32h4.76v1.35h-4.76zM370.55 490.25h4.76v1.35h-4.76zM370.55 500.85h4.76v1.35h-4.76zM370.55 511.45h4.76v1.35h-4.76zM370.55 515.42h4.76v1.35h-4.76zM380.01 469.05h4.76v1.35h-4.76zM380.01 471.70h4.76v1.35h-4.76zM384.74 492.90h4.76v1.35h-4.76zM389.47 490.25h4.76v1.35h-4.76zM389.47 532.65h4.76v1.35h-4.76zM389.47 535.30h4.76v1.35h-4.76zM389.47 567.10h4.76v1.35h-4.76zM389.47 569.75h4.76v1.35h-4.76zM394.20 572.40h4.76v1.35h-4.76zM394.20 581.67h4.76v1.35h-4.76zM398.93 568.42h4.76v1.35h-4.76zM403.66 547.23h4.76v1.35h-4.76zM403.66 556.50h4.76v1.35h-4.76zM403.66 571.08h4.76v1.35h-4.76zM408.39 526.02h4.76v1.35h-4.76zM408.39 547.23h4.76v1.35h-4.76zM413.12 512.77h4.76v1.35h-4.76zM417.85 535.30h4.76v1.35h-4.76zM417.85 539.27h4.76v1.35h-4.76zM422.58 491.57h4.76v1.35h-4.76zM422.58 531.33h4.76v1.35h-4.76zM422.58 536.62h4.76v1.35h-4.76zM427.31 484.95h4.76v1.35h-4.76zM427.31 487.60h4.76v1.35h-4.76zM427.31 523.38h4.76v1.35h-4.76zM427.31 526.02h4.76v1.35h-4.76zM427.31 560.48h4.76v1.35h-4.76zM432.04 478.32h4.76v1.35h-4.76zM432.04 511.45h4.76v1.35h-4.76zM432.04 514.10h4.76v1.35h-4.76zM432.04 515.42h4.76v1.35h-4.76zM432.04 576.38h4.76v1.35h-4.76zM436.77 530.00h4.76v1.35h-4.76zM436.77 535.30h4.76v1.35h-4.76zM436.77 548.55h4.76v1.35h-4.76zM436.77 580.35h4.76v1.35h-4.76zM436.77 581.67h4.76v1.35h-4.76z" fill="#74701c"/>
<path d="M304.33 484.95h4.76v1.35h-4.76zM304.33 506.15h4.76v1.35h-4.76zM304.33 512.77h4.76v1.35h-4.76zM304.33 514.10h4.76v1.35h-4.76zM304.33 571.08h4.76v1.35h-4.76zM309.06 498.20h4.76v1.35h-4.76zM309.06 560.48h4.76v1.35h-4.76zM313.79 507.48h4.76v1.35h-4.76zM313.79 516.75h4.76v1.35h-4.76zM318.52 487.60h4.76v1.35h-4.76zM318.52 523.38h4.76v1.35h-4.76zM323.25 480.98h4.76v1.35h-4.76zM323.25 487.60h4.76v1.35h-4.76zM327.98 478.32h4.76v1.35h-4.76zM332.71 556.50h4.76v1.35h-4.76zM332.71 575.05h4.76v1.35h-4.76zM342.17 470.38h4.76v1.35h-4.76zM342.17 475.68h4.76v1.35h-4.76zM346.90 491.57h4.76v1.35h-4.76zM351.63 492.90h4.76v1.35h-4.76zM351.63 577.70h4.76v1.35h-4.76zM351.63 580.35h4.76v1.35h-4.76zM365.82 463.75h4.76v1.35h-4.76zM365.82 490.25h4.76v1.35h-4.76zM365.82 495.55h4.76v1.35h-4.76zM370.55 459.78h4.76v1.35h-4.76zM370.55 469.05h4.76v1.35h-4.76zM370.55 479.65h4.76v1.35h-4.76zM370.55 480.98h4.76v1.35h-4.76zM370.55 507.48h4.76v1.35h-4.76zM370.55 531.33h4.76v1.35h-4.76zM375.28 532.65h4.76v1.35h-4.76zM375.28 551.20h4.76v1.35h-4.76zM380.01 473.03h4.76v1.35h-4.76zM380.01 490.25h4.76v1.35h-4.76zM380.01 527.35h4.76v1.35h-4.76zM380.01 531.33h4.76v1.35h-4.76zM384.74 475.68h4.76v1.35h-4.76zM384.74 494.23h4.76v1.35h-4.76zM394.20 539.27h4.76v1.35h-4.76zM394.20 560.48h4.76v1.35h-4.76zM398.93 530.00h4.76v1.35h-4.76zM398.93 539.27h4.76v1.35h-4.76zM403.66 539.27h4.76v1.35h-4.76zM413.12 459.78h4.76v1.35h-4.76zM413.12 467.73h4.76v1.35h-4.76zM413.12 543.25h4.76v1.35h-4.76zM417.85 565.77h4.76v1.35h-4.76zM417.85 568.42h4.76v1.35h-4.76zM422.58 467.73h4.76v1.35h-4.76zM422.58 495.55h4.76v1.35h-4.76zM422.58 500.85h4.76v1.35h-4.76zM422.58 530.00h4.76v1.35h-4.76zM422.58 539.27h4.76v1.35h-4.76zM422.58 575.05h4.76v1.35h-4.76zM422.58 576.38h4.76v1.35h-4.76zM422.58 579.02h4.76v1.35h-4.76zM427.31 490.25h4.76v1.35h-4.76zM427.31 535.30h4.76v1.35h-4.76zM427.31 540.60h4.76v1.35h-4.76zM427.31 559.15h4.76v1.35h-4.76zM432.04 543.25h4.76v1.35h-4.76zM432.04 565.77h4.76v1.35h-4.76zM436.77 478.32h4.76v1.35h-4.76zM436.77 480.98h4.76v1.35h-4.76zM436.77 543.25h4.76v1.35h-4.76zM436.77 560.48h4.76v1.35h-4.76zM436.77 564.45h4.76v1.35h-4.76z" fill="#837e20"/>
<path d="M309.06 561.80h4.76v1.35h-4.76zM309.06 576.38h4.76v1.35h-4.76zM318.52 506.15h4.76v1.35h-4.76zM332.71 455.80h4.76v1.35h-4.76zM332.71 457.12h4.76v1.35h-4.76zM332.71 478.32h4.76v1.35h-4.76zM342.17 458.45h4.76v1.35h-4.76zM342.17 480.98h4.76v1.35h-4.76zM342.17 486.28h4.76v1.35h-4.76zM342.17 490.25h4.76v1.35h-4.76zM346.90 463.75h4.76v1.35h-4.76zM346.90 518.08h4.76v1.35h-4.76zM351.63 484.95h4.76v1.35h-4.76zM351.63 500.85h4.76v1.35h-4.76zM370.55 458.45h4.76v1.35h-4.76zM370.55 482.30h4.76v1.35h-4.76zM370.55 486.28h4.76v1.35h-4.76zM370.55 523.38h4.76v1.35h-4.76zM375.28 549.88h4.76v1.35h-4.76zM380.01 486.28h4.76v1.35h-4.76zM380.01 571.08h4.76v1.35h-4.76zM384.74 471.70h4.76v1.35h-4.76zM384.74 531.33h4.76v1.35h-4.76zM384.74 532.65h4.76v1.35h-4.76zM389.47 548.55h4.76v1.35h-4.76zM389.47 549.88h4.76v1.35h-4.76zM394.20 526.02h4.76v1.35h-4.76zM398.93 556.50h4.76v1.35h-4.76zM398.93 557.83h4.76v1.35h-4.76zM408.39 571.08h4.76v1.35h-4.76zM413.12 547.23h4.76v1.35h-4.76zM413.12 575.05h4.76v1.35h-4.76zM417.85 482.30h4.76v1.35h-4.76zM417.85 551.20h4.76v1.35h-4.76zM422.58 492.90h4.76v1.35h-4.76zM422.58 560.48h4.76v1.35h-4.76zM427.31 556.50h4.76v1.35h-4.76zM432.04 523.38h4.76v1.35h-4.76zM432.04 530.00h4.76v1.35h-4.76zM432.04 535.30h4.76v1.35h-4.76zM432.04 549.88h4.76v1.35h-4.76zM432.04 572.40h4.76v1.35h-4.76z" fill="#918c24"/>
<path d="M299.60 506.15h4.76v1.35h-4.76zM299.60 508.80h4.76v1.35h-4.76zM323.25 478.32h4.76v1.35h-4.76zM323.25 484.95h4.76v1.35h-4.76zM332.71 466.40h4.76v1.35h-4.76zM342.17 471.70h4.76v1.35h-4.76zM351.63 512.77h4.76v1.35h-4.76zM370.55 471.70h4.76v1.35h-4.76zM370.55 492.90h4.76v1.35h-4.76zM375.28 552.52h4.76v1.35h-4.76zM380.01 477.00h4.76v1.35h-4.76zM384.74 469.05h4.76v1.35h-4.76zM384.74 474.35h4.76v1.35h-4.76zM384.74 549.88h4.76v1.35h-4.76zM389.47 492.90h4.76v1.35h-4.76zM389.47 552.52h4.76v1.35h-4.76zM398.93 535.30h4.76v1.35h-4.76zM398.93 549.88h4.76v1.35h-4.76zM403.66 543.25h4.76v1.35h-4.76zM413.12 569.75h4.76v1.35h-4.76zM417.85 533.98h4.76v1.35h-4.76zM422.58 568.42h4.76v1.35h-4.76zM427.31 486.28h4.76v1.35h-4.76zM432.04 531.33h4.76v1.35h-4.76zM436.77 514.10h4.76v1.35h-4.76zM436.77 568.42h4.76v1.35h-4.76z" fill="#a09a27"/>
<path d="M299.60 503.50h4.76v1.35h-4.76zM299.60 518.08h4.76v1.35h-4.76zM304.33 503.50h4.76v1.35h-4.76zM304.33 504.82h4.76v1.35h-4.76zM309.06 503.50h4.76v1.35h-4.76zM309.06 507.48h4.76v1.35h-4.76zM309.06 516.75h4.76v1.35h-4.76zM309.06 520.73h4.76v1.35h-4.76zM313.79 520.73h4.76v1.35h-4.76zM327.98 524.70h4.76v1.35h-4.76zM327.98 560.48h4.76v1.35h-4.76zM332.71 569.75h4.76v1.35h-4.76zM342.17 463.75h4.76v1.35h-4.76zM342.17 477.00h4.76v1.35h-4.76zM342.17 478.32h4.76v1.35h-4.76zM342.17 482.30h4.76v1.35h-4.76zM342.17 506.15h4.76v1.35h-4.76zM346.90 473.03h4.76v1.35h-4.76zM346.90 506.15h4.76v1.35h-4.76zM351.63 495.55h4.76v1.35h-4.76zM365.82 471.70h4.76v1.35h-4.76zM370.55 512.77h4.76v1.35h-4.76zM370.55 526.02h4.76v1.35h-4.76zM380.01 491.57h4.76v1.35h-4.76zM380.01 549.88h4.76v1.35h-4.76zM384.74 461.10h4.76v1.35h-4.76zM384.74 466.40h4.76v1.35h-4.76zM384.74 478.32h4.76v1.35h-4.76zM384.74 482.30h4.76v1.35h-4.76zM389.47 474.35h4.76v1.35h-4.76zM389.47 540.60h4.76v1.35h-4.76zM389.47 547.23h4.76v1.35h-4.76zM398.93 576.38h4.76v1.35h-4.76zM413.12 536.62h4.76v1.35h-4.76zM413.12 577.70h4.76v1.35h-4.76zM417.85 549.88h4.76v1.35h-4.76zM422.58 490.25h4.76v1.35h-4.76zM427.31 531.33h4.76v1.35h-4.76zM436.77 477.00h4.76v1.35h-4.76zM436.77 502.18h4.76v1.35h-4.76zM436.77 549.88h4.76v1.35h-4.76z" fill="#afa82b"/>
</g>
<rect x="299.60" y="583.80" width="56.80" height="4.80" fill="#8f80c8"/>
<rect x="356.40" y="583.80" width="4.70" height="4.80" fill="#5aa4e0"/>
<rect x="361.10" y="583.80" width="4.70" height="4.80" fill="#52a83a"/>
<rect x="365.80" y="583.80" width="9.50" height="4.80" fill="#8f80c8"/>
<rect x="375.30" y="583.80" width="18.90" height="4.80" fill="#52a83a"/>
<rect x="394.20" y="583.80" width="23.70" height="4.80" fill="#b4102e"/>
<rect x="417.90" y="583.80" width="23.60" height="4.80" fill="#5aa4e0"/>
<circle cx="358.8" cy="593.4" r="1.0" fill="none" stroke="#666" stroke-width="0.8"/>
<text x="429.4" y="597.4" font-size="8.0" text-anchor="middle" fill="#222" stroke="#222" stroke-width="0.3">*</text>
<path d="M306.70,455.20 V451.7 H311.43 V455.20 M301.97,455.20 V448.9 H309.06 V451.70 M320.88,455.20 V450.3 H325.62 V455.20 M316.16,455.20 V446.8 H323.25 V450.30 M305.51,448.90 V445.3 H319.70 V446.80 M349.26,455.20 V449.6 H354.00 V455.20 M344.54,455.20 V446.8 H351.63 V449.60 M339.81,455.20 V445.3 H348.08 V446.80 M335.08,455.20 V443.9 H343.94 V445.30 M330.35,455.20 V442.5 H339.51 V443.90 M312.61,445.30 V441.1 H334.93 V442.50 M368.19,455.20 V446.2 H372.92 V455.20 M382.38,455.20 V448.0 H387.11 V455.20 M377.64,455.20 V444.0 H384.74 V448.00 M370.55,446.20 V442.3 H381.19 V444.00 M391.84,455.20 V448.5 H396.56 V455.20 M406.02,455.20 V451.5 H410.75 V455.20 M401.30,455.20 V447.5 H408.39 V451.50 M394.20,448.50 V445.4 H404.84 V447.50 M420.22,455.20 V450.0 H424.94 V455.20 M434.40,455.20 V453.0 H439.13 V455.20 M429.68,455.20 V449.0 H436.77 V453.00 M422.58,450.00 V447.0 H433.22 V449.00 M415.49,455.20 V443.5 H427.90 V447.00 M399.52,445.40 V441.5 H421.69 V443.50 M375.87,442.30 V438.5 H410.61 V441.50 M363.46,455.20 V435.4 H393.24 V438.50 M358.73,455.20 V431.1 H378.35 V435.40 M323.77,441.10 V428.2 H368.54 V431.10" fill="none" stroke="#1e1e1e" stroke-width="0.85"/>
<rect x="245.60" y="488.00" width="4.40" height="4.40" fill="#b4102e"/>
<rect x="245.60" y="510.00" width="4.40" height="4.40" fill="#52a83a"/>
<rect x="245.60" y="522.00" width="4.40" height="4.40" fill="#5aa4e0"/>
<rect x="245.60" y="533.70" width="4.40" height="4.40" fill="#8f80c8"/>
<text x="253.5" y="492.5" font-size="8.2" textLength="26.5" lengthAdjust="spacingAndGlyphs" fill="#231f20" stroke="#231f20" stroke-width="0.24">Normal</text>
<text x="253.5" y="502.4" font-size="8.2" textLength="42.7" lengthAdjust="spacingAndGlyphs" fill="#231f20" stroke="#231f20" stroke-width="0.24">lymph node</text>
<text x="253.5" y="514.1" font-size="8.2" textLength="19.0" lengthAdjust="spacingAndGlyphs" fill="#231f20" stroke="#231f20" stroke-width="0.24">ALCL</text>
<text x="253.5" y="525.6" font-size="8.2" textLength="18.0" lengthAdjust="spacingAndGlyphs" fill="#231f20" stroke="#231f20" stroke-width="0.24">FTCL</text>
<text x="253.5" y="537.6" font-size="8.2" textLength="38.7" lengthAdjust="spacingAndGlyphs" fill="#231f20" stroke="#231f20" stroke-width="0.24">PTCL-NOS</text>
<text x="249.0" y="553.5" font-size="7.0" text-anchor="middle" fill="#231f20" stroke="#231f20" stroke-width="0.24">*</text>
<text x="253.0" y="553.5" font-size="8.2" textLength="29.0" lengthAdjust="spacingAndGlyphs" fill="#231f20" stroke="#231f20" stroke-width="0.24">ITK-FER</text>
<text x="249.0" y="565.6" font-size="7.0" text-anchor="middle" fill="#231f20" stroke="#231f20" stroke-width="0.24">°</text>
<text x="253.0" y="565.6" font-size="8.2" textLength="38.8" lengthAdjust="spacingAndGlyphs" fill="#231f20" stroke="#231f20" stroke-width="0.24">RLTPR-FES</text>
<rect x="0.00" y="0.00" width="520.00" height="1.10" fill="#000"/>
<rect x="0.00" y="0.00" width="1.20" height="612.00" fill="#000"/>
<rect x="518.50" y="0.00" width="1.50" height="612.00" fill="#000"/>
<rect x="0.00" y="610.50" width="520.00" height="1.50" fill="#000"/>
</svg>
</body></html>
